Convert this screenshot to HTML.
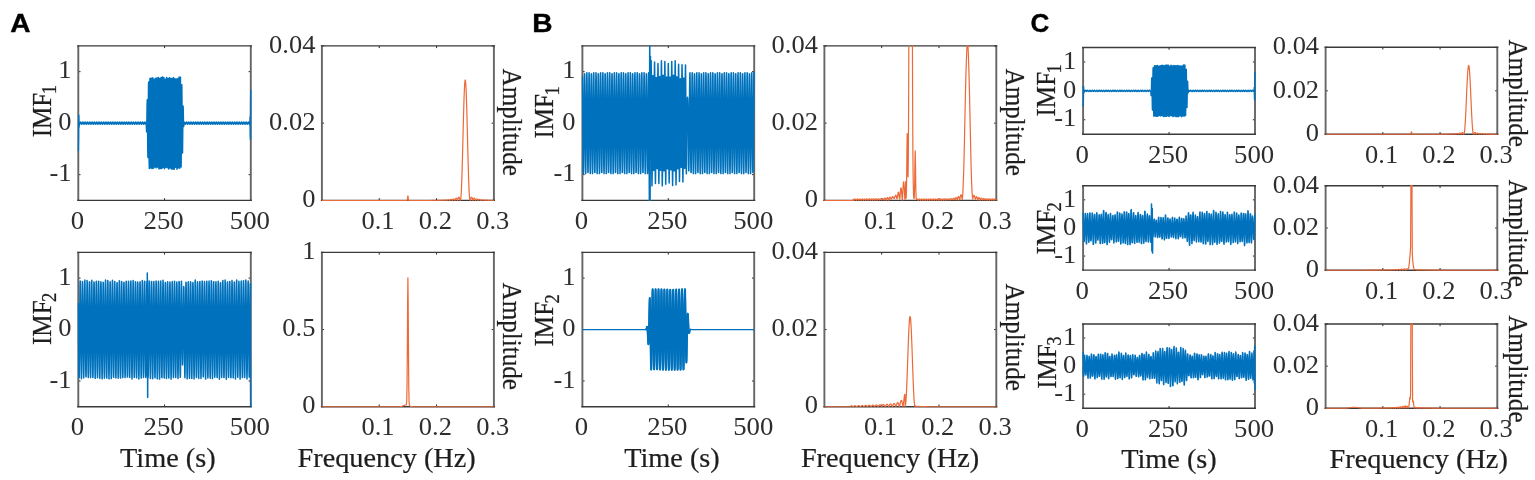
<!DOCTYPE html>
<html lang="en"><head><meta charset="utf-8"><title>IMF decomposition figure</title>
<style>html,body{margin:0;padding:0;background:#fff;overflow:hidden}svg{display:block}</style></head>
<body>
<svg width="1535" height="480" viewBox="0 0 1535 480">
<defs><filter id="bl" x="-5%" y="-5%" width="110%" height="110%"><feGaussianBlur stdDeviation="0.55 0.3"/></filter><filter id="bo" x="-5%" y="-5%" width="110%" height="110%"><feGaussianBlur stdDeviation="0.35 0.25"/></filter></defs>
<rect width="1535" height="480" fill="#fff"/>
<g font-family="Liberation Serif, Times New Roman, serif" fill="#1e1e1e" stroke="#1e1e1e" stroke-width="0.22">
<path d="M78.30,200.40v-2.2M78.30,45.90v2.2M164.55,200.40v-2.2M164.55,45.90v2.2M250.80,200.40v-2.2M250.80,45.90v2.2M78.30,174.65h2.2M250.80,174.65h-2.2M78.30,123.15h2.2M250.80,123.15h-2.2M78.30,71.65h2.2M250.80,71.65h-2.2" stroke="#262626" stroke-width="1" fill="none"/>
<path d="M78.30,45.30V201.00M250.80,45.30V201.00" stroke="#666" stroke-width="1.9" fill="none"/>
<path d="M77.30,45.90H251.80M77.30,200.40H251.80" stroke="#3a3a3a" stroke-width="1.4" fill="none"/>
<clipPath id="cA1"><rect x="77.40" y="45.20" width="174.30" height="155.90"/></clipPath>
<g clip-path="url(#cA1)"><polyline filter="url(#bl)" transform="scale(1.15,1)" points="68.09,151.5 68.24,138.6 68.39,114.9 68.54,118.0 68.69,127.3 68.84,124.0 68.99,124.2 69.14,124.3 69.29,124.1 69.44,123.7 69.59,123.2 69.74,122.6 69.89,122.2 70.04,122.0 70.19,122.1 70.34,122.3 70.49,122.8 70.64,123.3 70.79,123.8 70.94,124.2 71.09,124.3 71.24,124.2 71.39,123.8 71.54,123.3 71.69,122.8 71.84,122.3 71.99,122.1 72.14,122.0 72.29,122.2 72.44,122.6 72.59,123.2 72.74,123.7 72.89,124.1 73.04,124.3 73.19,124.2 73.34,124.0 73.49,123.5 73.64,123.0 73.79,122.5 73.94,122.1 74.09,122.0 74.24,122.1 74.39,122.5 74.54,123.0 74.69,123.5 74.84,124.0 74.99,124.2 75.14,124.3 75.29,124.1 75.44,123.7 75.59,123.2 75.74,122.6 75.89,122.2 76.04,122.0 76.19,122.1 76.34,122.3 76.49,122.8 76.64,123.3 76.79,123.8 76.94,124.2 77.09,124.3 77.24,124.2 77.39,123.8 77.54,123.3 77.69,122.8 77.84,122.3 77.99,122.1 78.14,122.0 78.29,122.2 78.44,122.6 78.59,123.2 78.74,123.7 78.89,124.1 79.04,124.3 79.19,124.2 79.34,124.0 79.49,123.5 79.64,123.0 79.79,122.5 79.94,122.1 80.09,122.0 80.24,122.1 80.39,122.5 80.54,123.0 80.69,123.5 80.84,124.0 80.99,124.2 81.14,124.3 81.29,124.1 81.44,123.7 81.59,123.2 81.74,122.6 81.89,122.2 82.04,122.0 82.19,122.1 82.34,122.3 82.49,122.8 82.64,123.3 82.79,123.8 82.94,124.2 83.09,124.3 83.24,124.2 83.39,123.8 83.54,123.3 83.69,122.8 83.84,122.3 83.99,122.1 84.14,122.0 84.29,122.2 84.44,122.6 84.59,123.2 84.74,123.7 84.89,124.1 85.04,124.3 85.19,124.2 85.34,124.0 85.49,123.5 85.64,123.0 85.79,122.5 85.94,122.1 86.09,122.0 86.24,122.1 86.39,122.5 86.54,123.0 86.69,123.5 86.84,124.0 86.99,124.2 87.14,124.3 87.29,124.1 87.44,123.7 87.59,123.2 87.74,122.6 87.89,122.2 88.04,122.0 88.19,122.1 88.34,122.3 88.49,122.8 88.64,123.3 88.79,123.8 88.94,124.2 89.09,124.3 89.24,124.2 89.39,123.8 89.54,123.3 89.69,122.8 89.84,122.3 89.99,122.1 90.14,122.0 90.29,122.2 90.44,122.6 90.59,123.2 90.74,123.7 90.89,124.1 91.04,124.3 91.19,124.2 91.34,124.0 91.49,123.5 91.64,123.0 91.79,122.5 91.94,122.1 92.09,122.0 92.24,122.1 92.39,122.5 92.54,123.0 92.69,123.5 92.84,124.0 92.99,124.2 93.14,124.3 93.29,124.1 93.44,123.7 93.59,123.2 93.74,122.6 93.89,122.2 94.04,122.0 94.19,122.1 94.34,122.3 94.49,122.8 94.64,123.3 94.79,123.8 94.94,124.2 95.09,124.3 95.24,124.2 95.39,123.8 95.54,123.3 95.69,122.8 95.84,122.3 95.99,122.1 96.14,122.0 96.29,122.2 96.44,122.6 96.59,123.1 96.74,123.7 96.89,124.1 97.04,124.3 97.19,124.2 97.34,124.0 97.49,123.5 97.64,123.0 97.79,122.5 97.94,122.1 98.09,122.0 98.24,122.1 98.39,122.5 98.54,123.0 98.69,123.5 98.84,124.0 98.99,124.2 99.14,124.3 99.29,124.1 99.44,123.7 99.59,123.2 99.74,122.6 99.89,122.2 100.04,122.0 100.19,122.1 100.34,122.3 100.49,122.8 100.64,123.3 100.79,123.8 100.94,124.2 101.09,124.3 101.24,124.2 101.39,123.8 101.54,123.3 101.69,122.8 101.84,122.3 101.99,122.1 102.14,122.0 102.29,122.2 102.44,122.6 102.59,123.2 102.74,123.7 102.89,124.1 103.04,124.3 103.19,124.2 103.34,124.0 103.49,123.5 103.64,123.0 103.79,122.5 103.94,122.1 104.09,122.0 104.24,122.1 104.39,122.5 104.54,123.0 104.69,123.5 104.84,124.0 104.99,124.2 105.14,124.3 105.29,124.1 105.44,123.7 105.59,123.2 105.74,122.6 105.89,122.2 106.04,122.0 106.19,122.1 106.34,122.3 106.49,122.8 106.64,123.3 106.79,123.8 106.94,124.2 107.09,124.3 107.24,124.2 107.39,123.8 107.54,123.3 107.69,122.8 107.84,122.3 107.99,122.1 108.14,122.0 108.29,122.2 108.44,122.6 108.59,123.1 108.74,123.7 108.89,124.1 109.04,124.3 109.19,124.2 109.34,124.0 109.49,123.5 109.64,123.0 109.79,122.5 109.94,122.1 110.09,122.0 110.24,122.1 110.39,122.5 110.54,123.0 110.69,123.5 110.84,124.0 110.99,124.2 111.14,124.3 111.29,124.1 111.44,123.7 111.59,123.2 111.74,122.6 111.89,122.2 112.04,122.0 112.19,122.1 112.34,122.3 112.49,122.8 112.64,123.3 112.79,123.8 112.94,124.2 113.09,124.3 113.24,124.2 113.39,123.8 113.54,123.3 113.69,122.8 113.84,122.3 113.99,122.1 114.14,122.0 114.29,122.2 114.44,122.6 114.59,123.1 114.74,123.7 114.89,124.1 115.04,124.3 115.19,124.2 115.34,124.0 115.49,123.5 115.64,123.0 115.79,122.5 115.94,122.1 116.09,122.0 116.24,122.1 116.39,122.5 116.54,123.0 116.69,123.5 116.84,124.0 116.99,124.2 117.14,124.3 117.29,124.1 117.44,123.7 117.59,123.1 117.74,122.6 117.89,122.2 118.04,122.0 118.19,122.1 118.34,122.3 118.49,122.8 118.64,123.3 118.79,123.8 118.94,124.2 119.09,124.3 119.24,124.2 119.39,123.8 119.54,123.3 119.69,122.8 119.84,122.3 119.99,122.1 120.14,122.0 120.29,122.2 120.44,122.6 120.59,123.2 120.74,123.7 120.89,124.1 121.04,124.3 121.19,124.2 121.34,124.0 121.49,123.5 121.64,123.0 121.79,122.5 121.94,122.1 122.09,122.0 122.24,122.1 122.39,122.5 122.54,123.0 122.69,123.5 122.84,124.0 122.99,124.2 123.14,124.3 123.29,124.1 123.44,123.7 123.59,123.2 123.74,122.6 123.89,122.2 124.04,122.0 124.19,122.1 124.34,122.3 124.49,122.8 124.64,123.3 124.79,123.8 124.94,124.2 125.09,124.3 125.24,124.2 125.39,123.8 125.54,123.3 125.69,122.8 125.84,122.3 125.99,122.1 126.14,122.0 126.29,122.2 126.44,122.6 126.59,123.1 126.74,123.7 126.89,124.1 127.04,124.3 127.19,124.2 127.34,127.8 127.49,131.9 127.64,129.1 127.79,117.8 127.94,104.6 128.09,99.7 128.24,110.1 128.39,132.0 128.54,152.9 128.69,157.5 128.84,141.1 128.99,111.3 129.14,86.4 129.29,81.8 129.44,101.8 129.59,136.9 129.74,163.8 129.89,168.5 130.04,144.8 130.19,108.9 130.34,81.3 130.49,78.1 130.64,101.5 130.79,136.8 130.94,165.6 131.09,168.0 131.24,145.0 131.39,109.0 131.54,82.1 131.69,78.2 131.84,101.6 131.99,137.3 132.14,164.8 132.29,168.6 132.44,145.0 132.59,109.3 132.74,81.4 132.89,77.7 133.04,101.1 133.19,137.2 133.34,164.1 133.49,168.3 133.64,145.2 133.79,109.0 133.94,80.9 134.09,79.1 134.24,100.9 134.39,136.8 134.54,164.7 134.69,167.1 134.84,145.6 134.99,109.5 135.14,82.0 135.29,78.2 135.44,101.4 135.59,136.9 135.74,165.0 135.89,167.9 136.04,145.5 136.19,108.9 136.34,81.8 136.49,78.0 136.64,101.6 136.79,137.3 136.94,164.2 137.09,167.1 137.24,144.7 137.39,109.5 137.54,80.7 137.69,77.3 137.84,100.8 137.99,137.2 138.14,165.7 138.29,169.0 138.44,145.7 138.59,109.5 138.74,81.1 138.89,78.3 139.04,101.1 139.19,136.9 139.34,164.2 139.49,168.5 139.64,145.1 139.79,108.9 139.94,80.9 140.09,77.4 140.24,100.9 140.39,137.2 140.54,164.7 140.69,168.6 140.84,145.4 140.99,109.4 141.14,80.4 141.29,76.9 141.44,100.6 141.59,136.8 141.74,164.6 141.89,167.7 142.04,144.7 142.19,109.0 142.34,82.3 142.49,77.5 142.64,101.1 142.79,137.0 142.94,164.3 143.09,168.8 143.24,145.2 143.39,108.9 143.54,80.9 143.69,79.2 143.84,101.6 143.99,137.0 144.14,164.3 144.29,167.3 144.44,145.4 144.59,109.5 144.74,81.3 144.89,77.3 145.04,101.2 145.19,137.0 145.34,164.5 145.49,167.8 145.64,145.7 145.79,109.3 145.94,82.3 146.09,78.5 146.24,101.7 146.39,137.1 146.54,164.2 146.69,169.1 146.84,144.7 146.99,109.2 147.14,82.2 147.29,77.6 147.44,101.3 147.59,136.9 147.74,164.4 147.89,168.0 148.04,144.6 148.19,108.9 148.34,80.6 148.49,78.2 148.64,101.6 148.79,137.0 148.94,165.3 149.09,169.1 149.24,145.2 149.39,109.2 149.54,81.3 149.69,78.3 149.84,100.9 149.99,136.8 150.14,165.4 150.29,169.2 150.44,145.3 150.59,109.5 150.74,80.7 150.89,77.5 151.04,101.6 151.19,137.2 151.34,164.2 151.49,169.3 151.64,144.7 151.79,109.0 151.94,80.7 152.09,78.6 152.24,101.7 152.39,136.8 152.54,164.4 152.69,167.3 152.84,144.6 152.99,109.2 153.14,80.6 153.29,78.9 153.44,101.0 153.59,137.2 153.74,164.9 153.89,169.3 154.04,145.7 154.19,109.0 154.34,81.6 154.49,78.6 154.64,101.6 154.79,136.9 154.94,164.0 155.09,167.9 155.24,144.9 155.39,109.3 155.54,80.5 155.69,77.0 155.84,101.4 155.99,137.3 156.14,164.3 156.29,168.3 156.44,145.7 156.59,109.2 156.74,81.3 156.89,77.1 157.04,100.9 157.19,137.2 157.34,165.1 157.49,167.0 157.64,144.7 157.79,109.9 157.94,85.4 158.09,84.7 158.24,104.2 158.39,133.5 158.54,153.0 158.69,153.0 158.84,136.9 158.99,117.0 159.14,105.9 159.29,107.8 159.44,117.7 159.59,125.7 159.74,126.6 159.89,122.2 160.04,122.0 160.19,122.1 160.34,122.3 160.49,122.8 160.64,123.3 160.79,123.8 160.94,124.2 161.09,124.3 161.24,124.2 161.39,123.8 161.54,123.3 161.69,122.8 161.84,122.3 161.99,122.1 162.14,122.0 162.29,122.2 162.44,122.6 162.59,123.2 162.74,123.7 162.89,124.1 163.04,124.3 163.19,124.2 163.34,124.0 163.49,123.5 163.64,123.0 163.79,122.5 163.94,122.1 164.09,122.0 164.24,122.1 164.39,122.5 164.54,123.0 164.69,123.5 164.84,124.0 164.99,124.2 165.14,124.3 165.29,124.1 165.44,123.7 165.59,123.2 165.74,122.6 165.89,122.2 166.04,122.0 166.19,122.1 166.34,122.3 166.49,122.8 166.64,123.3 166.79,123.8 166.94,124.2 167.09,124.3 167.24,124.2 167.39,123.8 167.54,123.3 167.69,122.8 167.84,122.3 167.99,122.1 168.14,122.0 168.29,122.2 168.44,122.6 168.59,123.2 168.74,123.7 168.89,124.1 169.04,124.3 169.19,124.2 169.34,124.0 169.49,123.5 169.64,123.0 169.79,122.5 169.94,122.1 170.09,122.0 170.24,122.1 170.39,122.5 170.54,123.0 170.69,123.5 170.84,124.0 170.99,124.2 171.14,124.3 171.29,124.1 171.44,123.7 171.59,123.2 171.74,122.6 171.89,122.2 172.04,122.0 172.19,122.1 172.34,122.3 172.49,122.8 172.64,123.3 172.79,123.8 172.94,124.2 173.09,124.3 173.24,124.2 173.39,123.8 173.54,123.3 173.69,122.8 173.84,122.3 173.99,122.1 174.14,122.0 174.29,122.2 174.44,122.6 174.59,123.1 174.74,123.7 174.89,124.1 175.04,124.3 175.19,124.2 175.34,124.0 175.49,123.5 175.64,123.0 175.79,122.5 175.94,122.1 176.09,122.0 176.24,122.1 176.39,122.5 176.54,123.0 176.69,123.5 176.84,124.0 176.99,124.2 177.14,124.3 177.29,124.1 177.44,123.7 177.59,123.1 177.74,122.6 177.89,122.2 178.04,122.0 178.19,122.1 178.34,122.3 178.49,122.8 178.64,123.3 178.79,123.8 178.94,124.2 179.09,124.3 179.24,124.2 179.39,123.8 179.54,123.3 179.69,122.8 179.84,122.3 179.99,122.1 180.14,122.0 180.29,122.2 180.44,122.6 180.59,123.1 180.74,123.7 180.89,124.1 181.04,124.3 181.19,124.2 181.34,124.0 181.49,123.5 181.64,123.0 181.79,122.5 181.94,122.1 182.09,122.0 182.24,122.1 182.39,122.5 182.54,123.0 182.69,123.5 182.84,124.0 182.99,124.2 183.14,124.3 183.29,124.1 183.44,123.7 183.59,123.1 183.74,122.6 183.89,122.2 184.04,122.0 184.19,122.1 184.34,122.3 184.49,122.8 184.64,123.3 184.79,123.8 184.94,124.2 185.09,124.3 185.24,124.2 185.39,123.8 185.54,123.3 185.69,122.8 185.84,122.3 185.99,122.1 186.14,122.0 186.29,122.2 186.44,122.6 186.59,123.1 186.74,123.7 186.89,124.1 187.04,124.3 187.19,124.2 187.34,124.0 187.49,123.5 187.64,123.0 187.79,122.5 187.94,122.1 188.09,122.0 188.24,122.1 188.39,122.5 188.54,123.0 188.69,123.5 188.84,124.0 188.99,124.2 189.14,124.3 189.29,124.1 189.44,123.7 189.59,123.2 189.74,122.6 189.89,122.2 190.04,122.0 190.19,122.1 190.34,122.3 190.49,122.8 190.64,123.3 190.79,123.8 190.94,124.2 191.09,124.3 191.24,124.2 191.39,123.8 191.54,123.3 191.69,122.8 191.84,122.3 191.99,122.1 192.14,122.0 192.29,122.2 192.44,122.6 192.59,123.1 192.74,123.7 192.89,124.1 193.04,124.3 193.19,124.2 193.34,124.0 193.49,123.5 193.64,123.0 193.79,122.5 193.94,122.1 194.09,122.0 194.24,122.1 194.39,122.5 194.54,123.0 194.69,123.5 194.84,124.0 194.99,124.2 195.14,124.3 195.29,124.1 195.44,123.7 195.59,123.2 195.74,122.6 195.89,122.2 196.04,122.0 196.19,122.1 196.34,122.3 196.49,122.8 196.64,123.3 196.79,123.8 196.94,124.2 197.09,124.3 197.24,124.2 197.39,123.8 197.54,123.3 197.69,122.8 197.84,122.3 197.99,122.1 198.14,122.0 198.29,122.2 198.44,122.6 198.59,123.1 198.74,123.7 198.89,124.1 199.04,124.3 199.19,124.2 199.34,124.0 199.49,123.5 199.64,123.0 199.79,122.5 199.94,122.1 200.09,122.0 200.24,122.1 200.39,122.5 200.54,123.0 200.69,123.5 200.84,124.0 200.99,124.2 201.14,124.3 201.29,124.1 201.44,123.7 201.59,123.2 201.74,122.6 201.89,122.2 202.04,122.0 202.19,122.1 202.34,122.3 202.49,122.8 202.64,123.3 202.79,123.8 202.94,124.2 203.09,124.3 203.24,124.2 203.39,123.8 203.54,123.3 203.69,122.8 203.84,122.3 203.99,122.1 204.14,122.0 204.29,122.2 204.44,122.6 204.59,123.2 204.74,123.7 204.89,124.1 205.04,124.3 205.19,124.2 205.34,124.0 205.49,123.5 205.64,123.0 205.79,122.5 205.94,122.1 206.09,122.0 206.24,122.1 206.39,122.5 206.54,123.0 206.69,123.5 206.84,124.0 206.99,124.2 207.14,124.3 207.29,124.1 207.44,123.7 207.59,123.2 207.74,122.6 207.89,122.2 208.04,122.0 208.19,122.1 208.34,122.3 208.49,122.8 208.64,123.3 208.79,123.8 208.94,124.2 209.09,124.3 209.24,124.2 209.39,123.8 209.54,123.3 209.69,122.8 209.84,122.3 209.99,122.1 210.14,122.0 210.29,122.2 210.44,122.6 210.59,123.2 210.74,123.7 210.89,124.1 211.04,124.3 211.19,124.2 211.34,124.0 211.49,123.5 211.64,123.0 211.79,122.5 211.94,122.1 212.09,122.0 212.24,122.1 212.39,122.5 212.54,123.0 212.69,123.5 212.84,124.0 212.99,124.2 213.14,124.3 213.29,124.1 213.44,123.7 213.59,123.2 213.74,122.6 213.89,122.2 214.04,122.0 214.19,122.1 214.34,122.3 214.49,122.8 214.64,123.3 214.79,123.8 214.94,124.2 215.09,124.3 215.24,124.2 215.39,123.8 215.54,123.3 215.69,122.8 215.84,122.3 215.99,122.1 216.14,122.0 216.29,122.2 216.44,122.6 216.59,123.1 216.74,123.7 216.89,124.1 217.04,124.3 217.19,124.2 217.34,124.0 217.49,117.0 217.64,133.4 217.79,139.6 217.94,102.6 218.09,89.7" fill="none" stroke="#0072BD" stroke-width="1.32" stroke-linejoin="round"/></g>
<path d="M379.23,200.40v-2.2M379.23,45.90v2.2M436.57,200.40v-2.2M436.57,45.90v2.2M493.90,200.40v-2.2M493.90,45.90v2.2M321.90,200.40h2.2M493.90,200.40h-2.2M321.90,123.15h2.2M493.90,123.15h-2.2M321.90,45.90h2.2M493.90,45.90h-2.2" stroke="#262626" stroke-width="1" fill="none"/>
<path d="M321.90,45.30V201.00M493.90,45.30V201.00" stroke="#666" stroke-width="1.9" fill="none"/>
<path d="M320.90,45.90H494.90M320.90,200.40H494.90" stroke="#3a3a3a" stroke-width="1.4" fill="none"/>
<clipPath id="cA2"><rect x="321.00" y="45.20" width="173.80" height="155.90"/></clipPath>
<g clip-path="url(#cA2)"><polyline filter="url(#bo)" transform="scale(1.15,1)" points="279.91,200.4 280.16,200.4 280.41,200.4 280.66,200.4 280.91,200.4 281.16,200.4 281.41,200.4 281.66,200.4 281.91,200.4 282.16,200.4 282.41,200.4 282.66,200.4 282.90,200.4 283.15,200.4 283.40,200.4 283.65,200.4 283.90,200.4 284.15,200.4 284.40,200.4 284.65,200.4 284.90,200.4 285.15,200.4 285.40,200.4 285.65,200.4 285.90,200.4 286.14,200.4 286.39,200.4 286.64,200.4 286.89,200.4 287.14,200.4 287.39,200.4 287.64,200.4 287.89,200.4 288.14,200.4 288.39,200.4 288.64,200.4 288.89,200.4 289.14,200.4 289.39,200.4 289.63,200.4 289.88,200.4 290.13,200.4 290.38,200.4 290.63,200.4 290.88,200.4 291.13,200.4 291.38,200.4 291.63,200.4 291.88,200.4 292.13,200.4 292.38,200.4 292.63,200.4 292.88,200.4 293.12,200.4 293.37,200.4 293.62,200.4 293.87,200.4 294.12,200.4 294.37,200.4 294.62,200.4 294.87,200.4 295.12,200.4 295.37,200.4 295.62,200.4 295.87,200.4 296.12,200.4 296.37,200.4 296.61,200.4 296.86,200.4 297.11,200.4 297.36,200.4 297.61,200.4 297.86,200.4 298.11,200.4 298.36,200.4 298.61,200.4 298.86,200.4 299.11,200.4 299.36,200.4 299.61,200.4 299.86,200.4 300.10,200.4 300.35,200.4 300.60,200.4 300.85,200.4 301.10,200.4 301.35,200.4 301.60,200.4 301.85,200.4 302.10,200.4 302.35,200.4 302.60,200.4 302.85,200.4 303.10,200.4 303.34,200.4 303.59,200.4 303.84,200.4 304.09,200.4 304.34,200.4 304.59,200.4 304.84,200.4 305.09,200.4 305.34,200.4 305.59,200.4 305.84,200.4 306.09,200.4 306.34,200.4 306.59,200.4 306.83,200.4 307.08,200.4 307.33,200.4 307.58,200.4 307.83,200.4 308.08,200.4 308.33,200.4 308.58,200.4 308.83,200.4 309.08,200.4 309.33,200.4 309.58,200.4 309.83,200.4 310.08,200.4 310.32,200.4 310.57,200.4 310.82,200.4 311.07,200.4 311.32,200.4 311.57,200.4 311.82,200.4 312.07,200.4 312.32,200.4 312.57,200.4 312.82,200.4 313.07,200.4 313.32,200.4 313.57,200.4 313.81,200.4 314.06,200.4 314.31,200.4 314.56,200.4 314.81,200.4 315.06,200.4 315.31,200.4 315.56,200.4 315.81,200.4 316.06,200.4 316.31,200.4 316.56,200.4 316.81,200.4 317.06,200.4 317.30,200.4 317.55,200.4 317.80,200.4 318.05,200.4 318.30,200.4 318.55,200.4 318.80,200.4 319.05,200.4 319.30,200.4 319.55,200.4 319.80,200.4 320.05,200.4 320.30,200.4 320.54,200.4 320.79,200.4 321.04,200.4 321.29,200.4 321.54,200.4 321.79,200.4 322.04,200.4 322.29,200.4 322.54,200.4 322.79,200.4 323.04,200.4 323.29,200.4 323.54,200.4 323.79,200.4 324.03,200.4 324.28,200.4 324.53,200.4 324.78,200.4 325.03,200.4 325.28,200.4 325.53,200.4 325.78,200.4 326.03,200.4 326.28,200.4 326.53,200.4 326.78,200.4 327.03,200.4 327.28,200.4 327.52,200.4 327.77,200.4 328.02,200.4 328.27,200.4 328.52,200.4 328.77,200.4 329.02,200.4 329.27,200.4 329.52,200.4 329.77,200.4 330.02,200.4 330.27,200.4 330.52,200.4 330.77,200.4 331.01,200.4 331.26,200.4 331.51,200.4 331.76,200.4 332.01,200.4 332.26,200.4 332.51,200.4 332.76,200.4 333.01,200.4 333.26,200.4 333.51,200.4 333.76,200.4 334.01,200.4 334.26,200.4 334.50,200.4 334.75,200.4 335.00,200.4 335.25,200.4 335.50,200.4 335.75,200.4 336.00,200.4 336.25,200.4 336.50,200.4 336.75,200.4 337.00,200.4 337.25,200.4 337.50,200.4 337.74,200.4 337.99,200.4 338.24,200.4 338.49,200.4 338.74,200.4 338.99,200.4 339.24,200.4 339.49,200.4 339.74,200.4 339.99,200.4 340.24,200.4 340.49,200.4 340.74,200.4 340.99,200.4 341.23,200.4 341.48,200.4 341.73,200.4 341.98,200.4 342.23,200.4 342.48,200.4 342.73,200.4 342.98,200.4 343.23,200.4 343.48,200.4 343.73,200.4 343.98,200.4 344.23,200.4 344.48,200.4 344.72,200.4 344.97,200.4 345.22,200.4 345.47,200.4 345.72,200.4 345.97,200.4 346.22,200.4 346.47,200.4 346.72,200.4 346.97,200.4 347.22,200.4 347.47,200.4 347.72,200.4 347.97,200.4 348.21,200.4 348.46,200.4 348.71,200.4 348.96,200.4 349.21,200.4 349.46,200.4 349.71,200.4 349.96,200.4 350.21,200.4 350.46,200.4 350.71,200.4 350.96,200.4 351.21,200.4 351.46,200.4 351.70,200.4 351.95,200.4 352.20,200.4 352.45,200.4 352.70,200.4 352.95,200.4 353.20,200.4 353.45,200.4 353.70,200.4 353.95,200.4 354.20,199.8 354.45,197.6 354.70,195.8 354.94,197.6 355.19,199.8 355.44,200.4 355.69,200.4 355.94,200.4 356.19,200.4 356.44,200.4 356.69,200.4 356.94,200.4 357.19,200.4 357.44,200.4 357.69,200.4 357.94,200.4 358.19,200.4 358.43,200.4 358.68,200.4 358.93,200.4 359.18,200.4 359.43,200.4 359.68,200.4 359.93,200.4 360.18,200.4 360.43,200.4 360.68,200.4 360.93,200.4 361.18,200.4 361.43,200.4 361.68,200.4 361.92,200.4 362.17,200.4 362.42,200.4 362.67,200.4 362.92,200.4 363.17,200.4 363.42,200.4 363.67,200.4 363.92,200.4 364.17,200.4 364.42,200.4 364.67,200.4 364.92,200.4 365.17,200.4 365.41,200.4 365.66,200.4 365.91,200.4 366.16,200.4 366.41,200.4 366.66,200.4 366.91,200.4 367.16,200.4 367.41,200.4 367.66,200.4 367.91,200.4 368.16,200.4 368.41,200.4 368.66,200.4 368.90,200.4 369.15,200.4 369.40,200.4 369.65,200.4 369.90,200.4 370.15,200.4 370.40,200.4 370.65,200.4 370.90,200.4 371.15,200.4 371.40,200.4 371.65,200.4 371.90,200.4 372.14,200.4 372.39,200.4 372.64,200.4 372.89,200.4 373.14,200.4 373.39,200.4 373.64,200.4 373.89,200.4 374.14,200.3 374.39,200.3 374.64,200.4 374.89,200.4 375.14,200.4 375.39,200.4 375.63,200.4 375.88,200.4 376.13,200.3 376.38,200.3 376.63,200.3 376.88,200.3 377.13,200.3 377.38,200.4 377.63,200.4 377.88,200.4 378.13,200.3 378.38,200.3 378.63,200.3 378.88,200.3 379.12,200.3 379.37,200.3 379.62,200.4 379.87,200.4 380.12,200.4 380.37,200.3 380.62,200.3 380.87,200.2 381.12,200.2 381.37,200.2 381.62,200.3 381.87,200.3 382.12,200.4 382.37,200.3 382.61,200.3 382.86,200.2 383.11,200.2 383.36,200.2 383.61,200.2 383.86,200.2 384.11,200.3 384.36,200.4 384.61,200.3 384.86,200.2 385.11,200.1 385.36,200.1 385.61,200.0 385.86,200.1 386.10,200.1 386.35,200.3 386.60,200.4 386.85,200.2 387.10,200.1 387.35,200.0 387.60,199.9 387.85,199.9 388.10,199.9 388.35,200.0 388.60,200.2 388.85,200.4 389.10,200.2 389.34,200.0 389.59,199.8 389.84,199.7 390.09,199.7 390.34,199.7 390.59,199.9 390.84,200.1 391.09,200.4 391.34,200.1 391.59,199.8 391.84,199.5 392.09,199.4 392.34,199.3 392.59,199.4 392.83,199.6 393.08,200.0 393.33,200.4 393.58,199.9 393.83,199.5 394.08,199.1 394.33,198.9 394.58,198.8 394.83,199.0 395.08,199.3 395.33,199.8 395.58,200.4 395.83,199.7 396.08,199.1 396.32,198.5 396.57,198.2 396.82,198.1 397.07,198.3 397.32,198.8 397.57,199.5 397.82,200.4 398.07,199.4 398.32,198.5 398.57,197.7 398.82,197.2 399.07,197.1 399.32,197.3 399.57,198.0 399.81,199.1 400.06,200.4 400.31,199.0 400.56,199.8 400.81,197.5 401.06,193.4 401.31,187.6 401.56,180.0 401.81,171.0 402.06,160.9 402.31,149.9 402.56,138.4 402.81,127.0 403.06,116.1 403.30,105.9 403.55,97.1 403.80,89.8 404.05,84.4 404.30,81.0 404.55,79.9 404.80,81.0 405.05,84.4 405.30,89.8 405.55,97.1 405.80,105.9 406.05,116.1 406.30,127.0 406.54,138.4 406.79,149.9 407.04,160.9 407.29,171.0 407.54,180.0 407.79,187.6 408.04,193.4 408.29,197.5 408.54,199.8 408.79,199.0 409.04,200.4 409.29,199.1 409.54,198.0 409.79,197.3 410.03,197.1 410.28,197.2 410.53,197.7 410.78,198.5 411.03,199.4 411.28,200.4 411.53,199.5 411.78,198.8 412.03,198.3 412.28,198.1 412.53,198.2 412.78,198.5 413.03,199.1 413.28,199.7 413.52,200.4 413.77,199.8 414.02,199.3 414.27,199.0 414.52,198.8 414.77,198.9 415.02,199.1 415.27,199.5 415.52,199.9 415.77,200.4 416.02,200.0 416.27,199.6 416.52,199.4 416.77,199.3 417.01,199.4 417.26,199.5 417.51,199.8 417.76,200.1 418.01,200.4 418.26,200.1 418.51,199.9 418.76,199.7 419.01,199.7 419.26,199.7 419.51,199.8 419.76,200.0 420.01,200.2 420.26,200.4 420.50,200.2 420.75,200.0 421.00,199.9 421.25,199.9 421.50,199.9 421.75,200.0 422.00,200.1 422.25,200.2 422.50,200.4 422.75,200.3 423.00,200.1 423.25,200.1 423.50,200.0 423.74,200.1 423.99,200.1 424.24,200.2 424.49,200.3 424.74,200.4 424.99,200.3 425.24,200.2 425.49,200.2 425.74,200.2 425.99,200.2 426.24,200.2 426.49,200.3 426.74,200.3 426.99,200.4 427.23,200.3 427.48,200.3 427.73,200.2 427.98,200.2 428.23,200.2 428.48,200.3 428.73,200.3 428.98,200.4 429.23,200.4 429.48,200.4" fill="none" stroke="#EC6A38" stroke-width="1.05" stroke-linejoin="round"/></g>
<path d="M78.30,406.70v-2.2M78.30,252.40v2.2M164.55,406.70v-2.2M164.55,252.40v2.2M250.80,406.70v-2.2M250.80,252.40v2.2M78.30,380.98h2.2M250.80,380.98h-2.2M78.30,329.55h2.2M250.80,329.55h-2.2M78.30,278.12h2.2M250.80,278.12h-2.2" stroke="#262626" stroke-width="1" fill="none"/>
<path d="M78.30,251.80V407.30M250.80,251.80V407.30" stroke="#666" stroke-width="1.9" fill="none"/>
<path d="M77.30,252.40H251.80M77.30,406.70H251.80" stroke="#3a3a3a" stroke-width="1.4" fill="none"/>
<clipPath id="cA3"><rect x="77.40" y="251.70" width="174.30" height="155.70"/></clipPath>
<g clip-path="url(#cA3)"><polyline filter="url(#bl)" transform="scale(1.15,1)" points="68.09,302.9 68.24,324.8 68.39,347.5 68.54,366.5 68.69,377.1 68.84,377.8 68.99,367.1 69.14,349.5 69.29,326.8 69.44,305.2 69.59,287.6 69.74,281.0 69.89,283.3 70.04,296.7 70.19,317.1 70.34,340.0 70.49,360.6 70.64,373.5 70.79,378.8 70.94,372.3 71.09,355.8 71.24,334.3 71.39,312.1 71.54,293.6 71.69,281.4 71.84,282.6 71.99,291.9 72.14,310.2 72.29,332.4 72.44,354.5 72.59,370.2 72.74,377.9 72.89,374.6 73.04,362.5 73.19,342.1 73.34,319.2 73.49,298.0 73.64,285.6 73.79,280.0 73.94,287.5 74.09,303.0 74.24,324.7 74.39,347.5 74.54,365.6 74.69,376.0 74.84,376.9 74.99,367.2 75.14,349.0 75.29,326.7 75.44,304.9 75.59,289.1 75.74,280.5 75.89,283.5 76.04,297.6 76.19,317.4 76.34,340.0 76.49,360.1 76.64,373.9 76.79,377.5 76.94,372.5 77.09,355.5 77.24,334.4 77.39,311.8 77.54,293.3 77.69,282.5 77.84,281.7 77.99,291.4 78.14,310.2 78.29,332.3 78.44,354.6 78.59,370.9 78.74,377.7 78.89,374.4 79.04,361.5 79.19,342.1 79.34,319.3 79.49,298.8 79.64,284.0 79.79,280.2 79.94,286.8 80.09,302.7 80.24,324.7 80.39,347.4 80.54,365.8 80.69,377.6 80.84,376.6 80.99,367.1 81.14,349.0 81.29,326.8 81.44,304.8 81.59,287.9 81.74,281.8 81.89,283.3 82.04,297.1 82.19,316.9 82.34,340.1 82.49,360.3 82.64,373.6 82.79,378.4 82.94,371.3 83.09,355.6 83.24,334.4 83.39,312.0 83.54,292.7 83.69,281.6 83.84,281.2 83.99,291.0 84.14,309.6 84.29,332.3 84.44,353.8 84.59,371.4 84.74,377.8 84.89,374.6 85.04,361.8 85.19,342.0 85.34,319.1 85.49,298.8 85.64,284.3 85.79,281.2 85.94,286.8 86.09,302.6 86.24,324.8 86.39,347.6 86.54,366.5 86.69,377.7 86.84,378.3 86.99,368.0 87.14,348.9 87.29,326.8 87.44,304.8 87.59,287.6 87.74,281.6 87.89,284.0 88.04,297.5 88.19,317.1 88.34,340.1 88.49,361.1 88.64,373.8 88.79,378.9 88.94,372.4 89.09,356.1 89.24,334.5 89.39,311.6 89.54,293.5 89.69,282.2 89.84,282.7 89.99,291.1 90.14,309.7 90.29,332.3 90.44,354.3 90.59,370.2 90.74,378.3 90.89,375.3 91.04,361.6 91.19,342.1 91.34,319.2 91.49,298.7 91.64,283.9 91.79,279.9 91.94,286.9 92.09,302.6 92.24,324.7 92.39,347.2 92.54,366.3 92.69,377.0 92.84,378.2 92.99,367.5 93.14,348.9 93.29,326.7 93.44,305.0 93.59,288.7 93.74,280.3 93.89,283.6 94.04,296.6 94.19,317.2 94.34,340.0 94.49,361.0 94.64,374.7 94.79,378.9 94.94,370.9 95.09,355.8 95.24,334.4 95.39,311.8 95.54,293.2 95.69,283.2 95.84,281.6 95.99,291.0 96.14,309.6 96.29,332.4 96.44,354.5 96.59,370.5 96.74,378.7 96.89,374.5 97.04,361.5 97.19,342.2 97.34,319.3 97.49,298.8 97.64,285.7 97.79,280.1 97.94,287.8 98.09,303.0 98.24,324.6 98.39,347.5 98.54,365.4 98.69,376.9 98.84,377.4 98.99,366.8 99.14,348.9 99.29,326.8 99.44,304.4 99.59,289.2 99.74,281.3 99.89,284.7 100.04,297.4 100.19,317.3 100.34,339.8 100.49,360.3 100.64,375.0 100.79,378.0 100.94,372.6 101.09,356.1 101.24,334.5 101.39,311.6 101.54,293.5 101.69,283.0 101.84,282.6 101.99,291.9 102.14,310.1 102.29,332.4 102.44,354.4 102.59,370.2 102.74,378.3 102.89,375.1 103.04,361.7 103.19,342.1 103.34,319.3 103.49,298.9 103.64,284.0 103.79,280.6 103.94,288.1 104.09,302.9 104.24,324.6 104.39,347.5 104.54,366.0 104.69,377.6 104.84,378.2 104.99,367.9 105.14,348.9 105.29,326.8 105.44,304.5 105.59,288.5 105.74,281.3 105.89,283.2 106.04,297.5 106.19,317.3 106.34,339.9 106.49,360.5 106.64,373.8 106.79,377.7 106.94,372.1 107.09,356.3 107.24,334.3 107.39,311.8 107.54,292.9 107.69,283.1 107.84,282.2 107.99,292.1 108.14,310.1 108.29,332.3 108.44,354.0 108.59,369.9 108.74,377.6 108.89,374.5 109.04,361.6 109.19,342.2 109.34,319.3 109.49,298.9 109.64,284.0 109.79,281.2 109.94,287.7 110.09,303.1 110.24,324.7 110.39,347.3 110.54,366.6 110.69,377.0 110.84,377.1 110.99,367.1 111.14,349.2 111.29,326.8 111.44,305.3 111.59,289.1 111.74,281.1 111.89,283.5 112.04,296.4 112.19,317.2 112.34,340.0 112.49,361.1 112.64,375.0 112.79,377.4 112.94,371.3 113.09,355.5 113.24,334.4 113.39,311.7 113.54,293.2 113.69,282.1 113.84,280.9 113.99,291.7 114.14,310.0 114.29,332.4 114.44,353.8 114.59,370.0 114.74,379.1 114.89,375.3 115.04,361.9 115.19,342.0 115.34,319.3 115.49,298.3 115.64,285.5 115.79,280.4 115.94,288.0 116.09,302.7 116.24,324.8 116.39,347.1 116.54,366.0 116.69,377.2 116.84,377.5 116.99,368.0 117.14,349.4 117.29,326.7 117.44,304.9 117.59,288.4 117.74,281.6 117.89,283.5 118.04,297.4 118.19,317.3 118.34,340.0 118.49,361.1 118.64,373.7 118.79,377.9 118.94,371.8 119.09,355.5 119.24,334.5 119.39,312.0 119.54,293.3 119.69,282.0 119.84,282.3 119.99,291.1 120.14,309.7 120.29,332.4 120.44,353.7 120.59,370.3 120.74,379.1 120.89,374.9 121.04,362.6 121.19,342.0 121.34,319.3 121.49,298.3 121.64,284.1 121.79,281.6 121.94,286.8 122.09,303.2 122.24,324.6 122.39,347.0 122.54,365.7 122.69,376.3 122.84,378.1 122.99,367.6 123.14,348.9 123.29,326.7 123.44,304.5 123.59,289.0 123.74,280.4 123.89,284.2 124.04,296.6 124.19,316.9 124.34,340.0 124.49,360.3 124.64,373.8 124.79,377.5 124.94,371.7 125.09,355.8 125.24,334.4 125.39,312.1 125.54,292.8 125.69,281.4 125.84,281.2 125.99,291.2 126.14,310.0 126.29,332.4 126.44,354.3 126.59,371.0 126.74,377.6 126.89,375.5 127.04,362.4 127.19,342.1 127.34,319.0 127.49,298.8 127.64,284.8 127.79,281.1 127.94,375.8 128.09,273.0 128.24,314.1 128.39,397.4 128.54,355.3 128.69,377.8 128.84,377.1 128.99,367.8 129.14,349.0 129.29,326.7 129.44,305.0 129.59,288.8 129.74,281.0 129.89,283.6 130.04,297.3 130.19,317.4 130.34,340.1 130.49,361.0 130.64,374.5 130.79,378.5 130.94,372.0 131.09,355.5 131.24,334.5 131.39,311.5 131.54,292.3 131.69,282.2 131.84,281.3 131.99,291.7 132.14,310.0 132.29,332.4 132.44,354.6 132.59,370.0 132.74,378.8 132.89,375.5 133.04,362.7 133.19,341.9 133.34,319.0 133.49,298.9 133.64,284.7 133.79,281.4 133.94,287.1 134.09,303.4 134.24,324.6 134.39,347.4 134.54,366.3 134.69,377.0 134.84,377.9 134.99,367.7 135.14,348.8 135.29,326.7 135.44,304.9 135.59,289.1 135.74,280.8 135.89,283.9 136.04,297.1 136.19,317.0 136.34,340.1 136.49,360.3 136.64,374.1 136.79,378.9 136.94,371.8 137.09,355.4 137.24,334.5 137.39,312.0 137.54,293.7 137.69,282.3 137.84,281.1 137.99,291.7 138.14,310.1 138.29,332.3 138.44,353.9 138.59,370.7 138.74,379.2 138.89,376.0 139.04,361.7 139.19,341.9 139.34,319.3 139.49,299.0 139.64,285.0 139.79,280.9 139.94,287.8 140.09,302.8 140.24,324.7 140.39,347.2 140.54,366.0 140.69,377.5 140.84,377.7 140.99,367.9 141.14,348.9 141.29,326.7 141.44,305.0 141.59,287.9 141.74,280.2 141.89,283.1 142.04,296.8 142.19,317.3 142.34,339.8 142.49,360.5 142.64,373.7 142.79,378.1 142.94,371.0 143.09,356.3 143.24,334.5 143.39,311.6 143.54,293.5 143.69,283.1 143.84,282.3 143.99,292.4 144.14,309.5 144.29,332.4 144.44,354.6 144.59,371.0 144.74,378.5 144.89,375.3 145.04,362.5 145.19,341.9 145.34,319.2 145.49,299.0 145.64,284.1 145.79,281.7 145.94,286.9 146.09,303.0 146.24,324.8 146.39,347.6 146.54,366.2 146.69,377.1 146.84,378.1 146.99,368.1 147.14,349.4 147.29,326.7 147.44,304.4 147.59,287.9 147.74,281.8 147.89,284.0 148.04,296.7 148.19,317.4 148.34,339.9 148.49,360.7 148.64,373.7 148.79,379.3 148.94,372.1 149.09,355.5 149.24,334.4 149.39,311.5 149.54,292.4 149.69,283.1 149.84,281.5 149.99,292.3 150.14,309.7 150.29,332.4 150.44,354.5 150.59,370.1 150.74,377.6 150.89,374.2 151.04,362.1 151.19,341.8 151.34,319.0 151.49,298.7 151.64,285.2 151.79,281.2 151.94,287.0 152.09,302.6 152.24,324.7 152.39,347.1 152.54,366.0 152.69,377.5 152.84,377.5 152.99,367.8 153.14,348.9 153.29,326.8 153.44,305.0 153.59,288.8 153.74,281.9 153.89,284.9 154.04,296.4 154.19,316.9 154.34,339.8 154.49,360.7 154.64,373.9 154.79,378.6 154.94,371.3 155.09,355.7 155.24,334.5 155.39,312.0 155.54,292.3 155.69,281.4 155.84,281.8 155.99,292.4 156.14,310.3 156.29,332.4 156.44,354.4 156.59,371.3 156.74,377.4 156.89,375.3 157.04,362.3 157.19,342.0 157.34,319.1 157.49,298.8 157.64,284.6 157.79,281.1 157.94,288.7 158.09,304.6 158.24,325.3 158.39,344.7 158.54,358.0 158.69,365.0 158.84,362.9 158.99,356.4 159.14,343.5 159.29,327.5 159.44,309.7 159.59,295.0 159.74,286.3 159.89,287.8 160.04,298.2 160.19,317.4 160.34,340.0 160.49,360.1 160.64,373.4 160.79,377.8 160.94,371.2 161.09,355.7 161.24,334.5 161.39,312.1 161.54,292.4 161.69,282.2 161.84,282.4 161.99,292.1 162.14,309.7 162.29,332.4 162.44,354.2 162.59,370.9 162.74,378.9 162.89,375.5 163.04,361.8 163.19,342.0 163.34,319.1 163.49,298.1 163.64,283.9 163.79,281.6 163.94,287.9 164.09,303.1 164.24,324.7 164.39,347.2 164.54,366.1 164.69,377.6 164.84,378.3 164.99,367.0 165.14,348.9 165.29,326.7 165.44,305.2 165.59,287.6 165.74,281.7 165.89,284.0 166.04,297.0 166.19,317.4 166.34,339.9 166.49,360.5 166.64,373.7 166.79,378.5 166.94,372.1 167.09,355.6 167.24,334.3 167.39,311.9 167.54,292.7 167.69,283.2 167.84,282.4 167.99,291.2 168.14,310.0 168.29,332.4 168.44,354.7 168.59,370.4 168.74,379.0 168.89,374.8 169.04,361.9 169.19,341.8 169.34,319.0 169.49,298.7 169.64,285.2 169.79,279.8 169.94,286.8 170.09,303.2 170.24,324.8 170.39,347.4 170.54,365.4 170.69,375.9 170.84,377.5 170.99,367.6 171.14,349.1 171.29,326.8 171.44,305.3 171.59,287.9 171.74,281.7 171.89,283.9 172.04,296.8 172.19,317.1 172.34,340.1 172.49,360.8 172.64,373.8 172.79,378.6 172.94,371.1 173.09,355.8 173.24,334.4 173.39,311.7 173.54,293.2 173.69,282.5 173.84,281.4 173.99,291.0 174.14,309.9 174.29,332.4 174.44,353.9 174.59,370.0 174.74,378.5 174.89,375.4 175.04,361.4 175.19,341.8 175.34,319.3 175.49,298.3 175.64,285.6 175.79,280.9 175.94,287.3 176.09,302.9 176.24,324.7 176.39,347.1 176.54,366.2 176.69,376.3 176.84,376.9 176.99,367.7 177.14,349.1 177.29,326.7 177.44,304.9 177.59,288.4 177.74,281.4 177.89,284.5 178.04,297.1 178.19,316.9 178.34,340.1 178.49,360.4 178.64,373.6 178.79,379.2 178.94,371.3 179.09,356.0 179.24,334.4 179.39,311.4 179.54,292.9 179.69,283.1 179.84,281.1 179.99,291.3 180.14,309.8 180.29,332.4 180.44,354.7 180.59,371.4 180.74,378.0 180.89,376.0 181.04,362.4 181.19,342.1 181.34,319.0 181.49,299.1 181.64,284.3 181.79,281.0 181.94,286.8 182.09,303.6 182.24,324.7 182.39,347.5 182.54,365.9 182.69,376.7 182.84,378.3 182.99,366.8 183.14,349.4 183.29,326.8 183.44,304.5 183.59,288.3 183.74,280.6 183.89,284.4 184.04,296.7 184.19,316.9 184.34,340.1 184.49,361.1 184.64,373.4 184.79,378.7 184.94,371.1 185.09,356.0 185.24,334.3 185.39,311.8 185.54,292.6 185.69,281.8 185.84,281.6 185.99,291.1 186.14,310.0 186.29,332.4 186.44,354.2 186.59,370.6 186.74,377.3 186.89,375.2 187.04,361.6 187.19,342.0 187.34,319.2 187.49,299.0 187.64,284.9 187.79,281.7 187.94,288.0 188.09,303.0 188.24,324.7 188.39,347.6 188.54,366.4 188.69,376.1 188.84,377.7 188.99,366.7 189.14,349.5 189.29,326.7 189.44,304.6 189.59,288.8 189.74,281.2 189.89,283.6 190.04,296.6 190.19,317.4 190.34,339.9 190.49,360.4 190.64,373.9 190.79,379.3 190.94,372.4 191.09,355.6 191.24,334.4 191.39,312.0 191.54,293.6 191.69,283.1 191.84,282.7 191.99,292.3 192.14,309.7 192.29,332.3 192.44,354.0 192.59,370.8 192.74,377.5 192.89,375.2 193.04,362.5 193.19,341.9 193.34,319.0 193.49,299.1 193.64,284.0 193.79,280.3 193.94,287.1 194.09,302.7 194.24,324.7 194.39,347.3 194.54,366.8 194.69,377.7 194.84,377.3 194.99,367.7 195.14,348.9 195.29,326.7 195.44,305.3 195.59,287.8 195.74,280.0 195.89,284.0 196.04,297.6 196.19,317.2 196.34,340.1 196.49,360.4 196.64,374.3 196.79,379.3 196.94,371.7 197.09,355.6 197.24,334.4 197.39,311.7 197.54,292.7 197.69,282.1 197.84,281.9 197.99,291.1 198.14,309.6 198.29,332.4 198.44,354.1 198.59,370.5 198.74,377.4 198.89,375.5 199.04,362.3 199.19,341.7 199.34,319.1 199.49,298.8 199.64,284.2 199.79,281.3 199.94,286.7 200.09,303.5 200.24,324.7 200.39,347.2 200.54,365.7 200.69,377.4 200.84,377.8 200.99,368.1 201.14,349.3 201.29,326.7 201.44,305.0 201.59,287.8 201.74,280.4 201.89,283.7 202.04,297.2 202.19,317.0 202.34,339.9 202.49,360.5 202.64,373.9 202.79,377.9 202.94,372.2 203.09,355.7 203.24,334.4 203.39,312.0 203.54,293.1 203.69,282.8 203.84,281.8 203.99,291.1 204.14,309.9 204.29,332.4 204.44,353.9 204.59,370.1 204.74,379.0 204.89,374.6 205.04,362.1 205.19,341.9 205.34,319.2 205.49,298.3 205.64,285.4 205.79,279.8 205.94,288.2 206.09,303.1 206.24,324.8 206.39,347.5 206.54,365.5 206.69,377.3 206.84,376.6 206.99,367.0 207.14,348.9 207.29,326.8 207.44,304.5 207.59,287.7 207.74,281.2 207.89,284.5 208.04,297.5 208.19,317.2 208.34,339.8 208.49,360.8 208.64,374.6 208.79,379.2 208.94,371.2 209.09,356.2 209.24,334.4 209.39,311.9 209.54,293.4 209.69,282.3 209.84,281.0 209.99,292.3 210.14,310.3 210.29,332.4 210.44,353.7 210.59,370.5 210.74,377.6 210.89,374.4 211.04,361.7 211.19,342.0 211.34,319.2 211.49,298.0 211.64,284.6 211.79,280.6 211.94,286.5 212.09,303.5 212.24,324.7 212.39,347.3 212.54,366.4 212.69,377.6 212.84,376.4 212.99,368.0 213.14,349.6 213.29,326.7 213.44,305.3 213.59,287.6 213.74,280.0 213.89,283.6 214.04,296.9 214.19,317.3 214.34,340.1 214.49,360.6 214.64,373.7 214.79,378.9 214.94,372.2 215.09,355.6 215.24,334.4 215.39,312.1 215.54,293.5 215.69,282.6 215.84,280.9 215.99,291.1 216.14,309.7 216.29,332.3 216.44,354.4 216.59,371.4 216.74,377.2 216.89,375.3 217.04,362.7 217.19,341.8 217.34,319.2 217.49,298.3 217.64,284.1 217.79,283.3 217.94,381.0 218.09,406.7" fill="none" stroke="#0072BD" stroke-width="1.32" stroke-linejoin="round"/></g>
<path d="M379.23,406.70v-2.2M379.23,252.40v2.2M436.57,406.70v-2.2M436.57,252.40v2.2M493.90,406.70v-2.2M493.90,252.40v2.2M321.90,406.70h2.2M493.90,406.70h-2.2M321.90,329.55h2.2M493.90,329.55h-2.2M321.90,252.40h2.2M493.90,252.40h-2.2" stroke="#262626" stroke-width="1" fill="none"/>
<path d="M321.90,251.80V407.30M493.90,251.80V407.30" stroke="#666" stroke-width="1.9" fill="none"/>
<path d="M320.90,252.40H494.90M320.90,406.70H494.90" stroke="#3a3a3a" stroke-width="1.4" fill="none"/>
<clipPath id="cA4"><rect x="321.00" y="251.70" width="173.80" height="155.70"/></clipPath>
<g clip-path="url(#cA4)"><polyline filter="url(#bo)" transform="scale(1.15,1)" points="279.91,406.7 280.16,406.7 280.41,406.7 280.66,406.7 280.91,406.7 281.16,406.7 281.41,406.7 281.66,406.7 281.91,406.7 282.16,406.7 282.41,406.7 282.66,406.7 282.90,406.7 283.15,406.7 283.40,406.7 283.65,406.7 283.90,406.7 284.15,406.7 284.40,406.7 284.65,406.7 284.90,406.7 285.15,406.7 285.40,406.7 285.65,406.7 285.90,406.7 286.14,406.7 286.39,406.7 286.64,406.7 286.89,406.7 287.14,406.7 287.39,406.7 287.64,406.7 287.89,406.7 288.14,406.7 288.39,406.7 288.64,406.7 288.89,406.7 289.14,406.7 289.39,406.7 289.63,406.7 289.88,406.7 290.13,406.7 290.38,406.7 290.63,406.7 290.88,406.7 291.13,406.7 291.38,406.7 291.63,406.7 291.88,406.7 292.13,406.7 292.38,406.7 292.63,406.7 292.88,406.7 293.12,406.7 293.37,406.7 293.62,406.7 293.87,406.7 294.12,406.7 294.37,406.7 294.62,406.7 294.87,406.7 295.12,406.7 295.37,406.7 295.62,406.7 295.87,406.7 296.12,406.7 296.37,406.7 296.61,406.7 296.86,406.7 297.11,406.7 297.36,406.7 297.61,406.7 297.86,406.7 298.11,406.7 298.36,406.7 298.61,406.7 298.86,406.7 299.11,406.7 299.36,406.7 299.61,406.7 299.86,406.7 300.10,406.7 300.35,406.7 300.60,406.7 300.85,406.7 301.10,406.7 301.35,406.7 301.60,406.7 301.85,406.7 302.10,406.7 302.35,406.7 302.60,406.7 302.85,406.7 303.10,406.7 303.34,406.7 303.59,406.7 303.84,406.7 304.09,406.7 304.34,406.7 304.59,406.7 304.84,406.7 305.09,406.7 305.34,406.7 305.59,406.7 305.84,406.7 306.09,406.7 306.34,406.7 306.59,406.7 306.83,406.7 307.08,406.7 307.33,406.7 307.58,406.7 307.83,406.7 308.08,406.7 308.33,406.7 308.58,406.7 308.83,406.7 309.08,406.7 309.33,406.7 309.58,406.7 309.83,406.7 310.08,406.7 310.32,406.7 310.57,406.7 310.82,406.7 311.07,406.7 311.32,406.7 311.57,406.7 311.82,406.7 312.07,406.7 312.32,406.7 312.57,406.7 312.82,406.7 313.07,406.7 313.32,406.7 313.57,406.7 313.81,406.7 314.06,406.7 314.31,406.7 314.56,406.7 314.81,406.7 315.06,406.7 315.31,406.7 315.56,406.7 315.81,406.7 316.06,406.7 316.31,406.7 316.56,406.7 316.81,406.7 317.06,406.7 317.30,406.7 317.55,406.7 317.80,406.7 318.05,406.7 318.30,406.7 318.55,406.7 318.80,406.7 319.05,406.7 319.30,406.7 319.55,406.7 319.80,406.7 320.05,406.7 320.30,406.7 320.54,406.7 320.79,406.7 321.04,406.7 321.29,406.7 321.54,406.7 321.79,406.7 322.04,406.7 322.29,406.7 322.54,406.7 322.79,406.7 323.04,406.7 323.29,406.7 323.54,406.7 323.79,406.7 324.03,406.7 324.28,406.7 324.53,406.7 324.78,406.7 325.03,406.7 325.28,406.7 325.53,406.7 325.78,406.7 326.03,406.7 326.28,406.7 326.53,406.7 326.78,406.7 327.03,406.7 327.28,406.7 327.52,406.7 327.77,406.7 328.02,406.7 328.27,406.7 328.52,406.7 328.77,406.7 329.02,406.7 329.27,406.7 329.52,406.7 329.77,406.7 330.02,406.7 330.27,406.7 330.52,406.7 330.77,406.7 331.01,406.7 331.26,406.7 331.51,406.7 331.76,406.7 332.01,406.7 332.26,406.7 332.51,406.7 332.76,406.7 333.01,406.7 333.26,406.7 333.51,406.7 333.76,406.7 334.01,406.7 334.26,406.7 334.50,406.7 334.75,406.7 335.00,406.7 335.25,406.7 335.50,406.7 335.75,406.7 336.00,406.7 336.25,406.7 336.50,406.7 336.75,406.7 337.00,406.7 337.25,406.7 337.50,406.7 337.74,406.7 337.99,406.7 338.24,406.7 338.49,406.7 338.74,406.7 338.99,406.7 339.24,406.7 339.49,406.7 339.74,406.7 339.99,406.7 340.24,406.7 340.49,406.7 340.74,406.7 340.99,406.7 341.23,406.7 341.48,406.7 341.73,406.7 341.98,406.7 342.23,406.7 342.48,406.7 342.73,406.7 342.98,406.7 343.23,406.7 343.48,406.7 343.73,406.7 343.98,406.7 344.23,406.7 344.48,406.7 344.72,406.7 344.97,406.7 345.22,406.7 345.47,406.7 345.72,406.7 345.97,406.7 346.22,406.7 346.47,406.7 346.72,406.7 346.97,406.7 347.22,406.7 347.47,406.7 347.72,406.6 347.97,406.6 348.21,406.6 348.46,406.5 348.71,406.5 348.96,406.5 349.21,406.4 349.46,406.3 349.71,406.2 349.96,406.1 350.21,406.0 350.46,405.9 350.71,405.8 350.96,405.6 351.21,405.5 351.46,405.4 351.70,405.3 351.95,405.1 352.20,405.0 352.45,405.0 352.70,404.9 352.95,404.9 353.20,404.8 353.45,404.1 353.70,400.2 353.95,385.1 354.20,349.3 354.45,301.5 354.70,277.8 354.94,301.7 355.19,349.7 355.44,385.8 355.69,401.1 355.94,405.2 356.19,405.9 356.44,406.1 356.69,406.2 356.94,406.3 357.19,406.4 357.44,406.5 357.69,406.5 357.94,406.5 358.19,406.6 358.43,406.6 358.68,406.6 358.93,406.7 359.18,406.7 359.43,406.7 359.68,406.7 359.93,406.7 360.18,406.7 360.43,406.7 360.68,406.7 360.93,406.7 361.18,406.7 361.43,406.7 361.68,406.7 361.92,406.7 362.17,406.7 362.42,406.7 362.67,406.7 362.92,406.7 363.17,406.7 363.42,406.7 363.67,406.7 363.92,406.7 364.17,406.7 364.42,406.7 364.67,406.7 364.92,406.7 365.17,406.7 365.41,406.7 365.66,406.7 365.91,406.7 366.16,406.7 366.41,406.7 366.66,406.7 366.91,406.7 367.16,406.7 367.41,406.7 367.66,406.7 367.91,406.7 368.16,406.7 368.41,406.7 368.66,406.7 368.90,406.7 369.15,406.7 369.40,406.7 369.65,406.7 369.90,406.7 370.15,406.7 370.40,406.7 370.65,406.7 370.90,406.7 371.15,406.7 371.40,406.7 371.65,406.7 371.90,406.7 372.14,406.7 372.39,406.7 372.64,406.7 372.89,406.7 373.14,406.7 373.39,406.7 373.64,406.7 373.89,406.7 374.14,406.7 374.39,406.7 374.64,406.7 374.89,406.7 375.14,406.7 375.39,406.7 375.63,406.7 375.88,406.7 376.13,406.7 376.38,406.7 376.63,406.7 376.88,406.7 377.13,406.7 377.38,406.7 377.63,406.7 377.88,406.7 378.13,406.7 378.38,406.7 378.63,406.7 378.88,406.7 379.12,406.7 379.37,406.7 379.62,406.7 379.87,406.7 380.12,406.7 380.37,406.7 380.62,406.7 380.87,406.7 381.12,406.7 381.37,406.7 381.62,406.7 381.87,406.7 382.12,406.7 382.37,406.7 382.61,406.7 382.86,406.7 383.11,406.7 383.36,406.7 383.61,406.7 383.86,406.7 384.11,406.7 384.36,406.7 384.61,406.7 384.86,406.7 385.11,406.7 385.36,406.7 385.61,406.7 385.86,406.7 386.10,406.7 386.35,406.7 386.60,406.7 386.85,406.7 387.10,406.7 387.35,406.7 387.60,406.7 387.85,406.7 388.10,406.7 388.35,406.7 388.60,406.7 388.85,406.7 389.10,406.7 389.34,406.7 389.59,406.7 389.84,406.7 390.09,406.7 390.34,406.7 390.59,406.7 390.84,406.7 391.09,406.7 391.34,406.7 391.59,406.7 391.84,406.7 392.09,406.7 392.34,406.7 392.59,406.7 392.83,406.7 393.08,406.7 393.33,406.7 393.58,406.7 393.83,406.7 394.08,406.7 394.33,406.7 394.58,406.7 394.83,406.7 395.08,406.7 395.33,406.7 395.58,406.7 395.83,406.7 396.08,406.7 396.32,406.7 396.57,406.7 396.82,406.7 397.07,406.7 397.32,406.7 397.57,406.7 397.82,406.7 398.07,406.7 398.32,406.7 398.57,406.7 398.82,406.7 399.07,406.7 399.32,406.7 399.57,406.7 399.81,406.7 400.06,406.7 400.31,406.7 400.56,406.7 400.81,406.7 401.06,406.7 401.31,406.7 401.56,406.7 401.81,406.7 402.06,406.7 402.31,406.7 402.56,406.7 402.81,406.7 403.06,406.7 403.30,406.7 403.55,406.7 403.80,406.7 404.05,406.7 404.30,406.7 404.55,406.7 404.80,406.7 405.05,406.7 405.30,406.7 405.55,406.7 405.80,406.7 406.05,406.7 406.30,406.7 406.54,406.7 406.79,406.7 407.04,406.7 407.29,406.7 407.54,406.7 407.79,406.7 408.04,406.7 408.29,406.7 408.54,406.7 408.79,406.7 409.04,406.7 409.29,406.7 409.54,406.7 409.79,406.7 410.03,406.7 410.28,406.7 410.53,406.7 410.78,406.7 411.03,406.7 411.28,406.7 411.53,406.7 411.78,406.7 412.03,406.7 412.28,406.7 412.53,406.7 412.78,406.7 413.03,406.7 413.28,406.7 413.52,406.7 413.77,406.7 414.02,406.7 414.27,406.7 414.52,406.7 414.77,406.7 415.02,406.7 415.27,406.7 415.52,406.7 415.77,406.7 416.02,406.7 416.27,406.7 416.52,406.7 416.77,406.7 417.01,406.7 417.26,406.7 417.51,406.7 417.76,406.7 418.01,406.7 418.26,406.7 418.51,406.7 418.76,406.7 419.01,406.7 419.26,406.7 419.51,406.7 419.76,406.7 420.01,406.7 420.26,406.7 420.50,406.7 420.75,406.7 421.00,406.7 421.25,406.7 421.50,406.7 421.75,406.7 422.00,406.7 422.25,406.7 422.50,406.7 422.75,406.7 423.00,406.7 423.25,406.7 423.50,406.7 423.74,406.7 423.99,406.7 424.24,406.7 424.49,406.7 424.74,406.7 424.99,406.7 425.24,406.7 425.49,406.7 425.74,406.7 425.99,406.7 426.24,406.7 426.49,406.7 426.74,406.7 426.99,406.7 427.23,406.7 427.48,406.7 427.73,406.7 427.98,406.7 428.23,406.7 428.48,406.7 428.73,406.7 428.98,406.7 429.23,406.7 429.48,406.7" fill="none" stroke="#EC6A38" stroke-width="1.05" stroke-linejoin="round"/></g>
<path d="M582.40,200.40v-2.2M582.40,45.90v2.2M668.30,200.40v-2.2M668.30,45.90v2.2M754.20,200.40v-2.2M754.20,45.90v2.2M582.40,174.65h2.2M754.20,174.65h-2.2M582.40,123.15h2.2M754.20,123.15h-2.2M582.40,71.65h2.2M754.20,71.65h-2.2" stroke="#262626" stroke-width="1" fill="none"/>
<path d="M582.40,45.30V201.00M754.20,45.30V201.00" stroke="#666" stroke-width="1.9" fill="none"/>
<path d="M581.40,45.90H755.20M581.40,200.40H755.20" stroke="#3a3a3a" stroke-width="1.4" fill="none"/>
<clipPath id="cB1"><rect x="581.50" y="45.20" width="173.60" height="155.90"/></clipPath>
<g clip-path="url(#cB1)"><polyline filter="url(#bl)" transform="scale(1.15,1)" points="506.43,76.4 506.58,90.5 506.73,111.7 506.88,135.4 507.03,156.4 507.18,170.2 507.33,173.7 507.48,166.2 507.63,149.3 507.78,126.8 507.93,103.4 508.08,84.3 508.23,73.7 508.38,73.9 508.53,84.8 508.68,104.1 508.83,127.5 508.97,150.0 509.12,166.6 509.27,173.7 509.42,169.9 509.57,155.8 509.72,134.6 509.87,110.9 510.02,89.9 510.17,76.1 510.32,72.6 510.47,80.1 510.62,97.0 510.77,119.5 510.92,142.9 511.07,162.0 511.22,172.6 511.36,172.4 511.51,161.5 511.66,142.2 511.81,118.8 511.96,96.3 512.11,79.7 512.26,72.6 512.41,76.4 512.56,90.5 512.71,111.7 512.86,135.4 513.01,156.4 513.16,170.2 513.31,173.7 513.46,166.2 513.61,149.3 513.75,126.8 513.90,103.4 514.05,84.3 514.20,73.7 514.35,73.9 514.50,84.8 514.65,104.1 514.80,127.5 514.95,150.0 515.10,166.6 515.25,173.7 515.40,169.9 515.55,155.8 515.70,134.6 515.85,110.9 516.00,89.9 516.15,76.1 516.29,72.6 516.44,80.1 516.59,97.0 516.74,119.5 516.89,142.9 517.04,162.0 517.19,172.6 517.34,172.4 517.49,161.5 517.64,142.2 517.79,118.8 517.94,96.3 518.09,79.7 518.24,72.6 518.39,76.4 518.54,90.5 518.68,111.7 518.83,135.4 518.98,156.4 519.13,170.2 519.28,173.7 519.43,166.2 519.58,149.3 519.73,126.8 519.88,103.4 520.03,84.3 520.18,73.7 520.33,73.9 520.48,84.8 520.63,104.1 520.78,127.5 520.93,150.0 521.08,166.6 521.22,173.7 521.37,169.9 521.52,155.8 521.67,134.6 521.82,110.9 521.97,89.9 522.12,76.1 522.27,72.6 522.42,80.1 522.57,97.0 522.72,119.5 522.87,142.9 523.02,162.0 523.17,172.6 523.32,172.4 523.47,161.5 523.61,142.2 523.76,118.8 523.91,96.3 524.06,79.7 524.21,72.6 524.36,76.4 524.51,90.5 524.66,111.7 524.81,135.4 524.96,156.4 525.11,170.2 525.26,173.7 525.41,166.2 525.56,149.3 525.71,126.8 525.86,103.4 526.01,84.3 526.15,73.7 526.30,73.9 526.45,84.8 526.60,104.1 526.75,127.5 526.90,150.0 527.05,166.6 527.20,173.7 527.35,169.9 527.50,155.8 527.65,134.6 527.80,110.9 527.95,89.9 528.10,76.1 528.25,72.6 528.40,80.1 528.54,97.0 528.69,119.5 528.84,142.9 528.99,162.0 529.14,172.6 529.29,172.4 529.44,161.5 529.59,142.2 529.74,118.8 529.89,96.3 530.04,79.7 530.19,72.6 530.34,76.4 530.49,90.5 530.64,111.7 530.79,135.4 530.93,156.4 531.08,170.2 531.23,173.7 531.38,166.2 531.53,149.3 531.68,126.8 531.83,103.4 531.98,84.3 532.13,73.7 532.28,73.9 532.43,84.8 532.58,104.1 532.73,127.5 532.88,150.0 533.03,166.6 533.18,173.7 533.33,169.9 533.47,155.8 533.62,134.6 533.77,110.9 533.92,89.9 534.07,76.1 534.22,72.6 534.37,80.1 534.52,97.0 534.67,119.5 534.82,142.9 534.97,162.0 535.12,172.6 535.27,172.4 535.42,161.5 535.57,142.2 535.72,118.8 535.86,96.3 536.01,79.7 536.16,72.6 536.31,76.4 536.46,90.5 536.61,111.7 536.76,135.4 536.91,156.4 537.06,170.2 537.21,173.7 537.36,166.2 537.51,149.3 537.66,126.8 537.81,103.4 537.96,84.3 538.11,73.7 538.26,73.9 538.40,84.8 538.55,104.1 538.70,127.5 538.85,150.0 539.00,166.6 539.15,173.7 539.30,169.9 539.45,155.8 539.60,134.6 539.75,110.9 539.90,89.9 540.05,76.1 540.20,72.6 540.35,80.1 540.50,97.0 540.65,119.5 540.79,142.9 540.94,162.0 541.09,172.6 541.24,172.4 541.39,161.5 541.54,142.2 541.69,118.8 541.84,96.3 541.99,79.7 542.14,72.6 542.29,76.4 542.44,90.5 542.59,111.7 542.74,135.4 542.89,156.4 543.04,170.2 543.19,173.7 543.33,166.2 543.48,149.3 543.63,126.8 543.78,103.4 543.93,84.3 544.08,73.7 544.23,73.9 544.38,84.8 544.53,104.1 544.68,127.5 544.83,150.0 544.98,166.6 545.13,173.7 545.28,169.9 545.43,155.8 545.58,134.6 545.72,110.9 545.87,89.9 546.02,76.1 546.17,72.6 546.32,80.1 546.47,97.0 546.62,119.5 546.77,142.9 546.92,162.0 547.07,172.6 547.22,172.4 547.37,161.5 547.52,142.2 547.67,118.8 547.82,96.3 547.97,79.7 548.11,72.6 548.26,76.4 548.41,90.5 548.56,111.7 548.71,135.4 548.86,156.4 549.01,170.2 549.16,173.7 549.31,166.2 549.46,149.3 549.61,126.8 549.76,103.4 549.91,84.3 550.06,73.7 550.21,73.9 550.36,84.8 550.51,104.1 550.65,127.5 550.80,150.0 550.95,166.6 551.10,173.7 551.25,169.9 551.40,155.8 551.55,134.6 551.70,110.9 551.85,89.9 552.00,76.1 552.15,72.6 552.30,80.1 552.45,97.0 552.60,119.5 552.75,142.9 552.90,162.0 553.04,172.6 553.19,172.4 553.34,161.5 553.49,142.2 553.64,118.8 553.79,96.3 553.94,79.7 554.09,72.6 554.24,76.4 554.39,90.5 554.54,111.7 554.69,135.4 554.84,156.4 554.99,170.2 555.14,173.7 555.29,166.2 555.44,149.3 555.58,126.8 555.73,103.4 555.88,84.3 556.03,73.7 556.18,73.9 556.33,84.8 556.48,104.1 556.63,127.5 556.78,150.0 556.93,166.6 557.08,173.7 557.23,169.9 557.38,155.8 557.53,134.6 557.68,110.9 557.83,89.9 557.97,76.1 558.12,72.6 558.27,80.1 558.42,97.0 558.57,119.5 558.72,142.9 558.87,162.0 559.02,172.6 559.17,172.4 559.32,161.5 559.47,142.2 559.62,118.8 559.77,96.3 559.92,79.7 560.07,72.6 560.22,76.4 560.37,90.5 560.51,111.7 560.66,135.4 560.81,156.4 560.96,170.2 561.11,173.7 561.26,166.2 561.41,149.3 561.56,126.8 561.71,103.4 561.86,84.3 562.01,73.7 562.16,73.9 562.31,84.8 562.46,104.1 562.61,127.5 562.76,150.0 562.90,166.6 563.05,173.7 563.20,169.9 563.35,155.8 563.50,134.6 563.65,110.9 563.80,89.9 563.95,76.1 564.10,72.6 564.25,80.1 564.40,97.0 564.55,174.7 564.70,210.7 564.85,97.4 565.00,30.5 565.15,112.9 565.29,213.3 565.44,133.4 565.59,56.2 565.74,102.9 565.89,92.0 566.04,72.7 566.19,60.4 566.34,72.7 566.49,104.2 566.64,142.1 566.79,173.7 566.94,185.9 567.09,173.6 567.24,142.1 567.39,107.9 567.54,84.1 567.69,75.4 567.83,84.3 567.98,108.0 568.13,138.3 568.28,161.8 568.43,170.5 568.58,161.7 568.73,138.1 568.88,104.6 569.03,73.8 569.18,62.0 569.33,74.1 569.48,104.8 569.63,141.5 569.78,171.9 569.93,183.6 570.08,171.7 570.22,141.3 570.37,108.5 570.52,85.7 570.67,77.3 570.82,85.8 570.97,108.6 571.12,137.7 571.27,160.4 571.42,168.8 571.57,160.4 571.72,137.7 571.87,105.1 572.02,75.0 572.17,63.3 572.32,74.9 572.47,105.0 572.62,141.3 572.76,171.6 572.91,183.5 573.06,171.8 573.21,141.5 573.36,108.4 573.51,85.2 573.66,76.5 573.81,85.0 573.96,108.2 574.11,138.1 574.26,161.6 574.41,170.4 574.56,161.7 574.71,138.2 574.86,104.4 575.01,73.0 575.15,60.7 575.30,72.9 575.45,104.2 575.60,142.1 575.75,173.6 575.90,185.9 576.05,173.7 576.20,142.1 576.35,107.9 576.50,84.0 576.65,75.1 576.80,84.0 576.95,107.9 577.10,138.4 577.25,162.1 577.40,170.9 577.55,162.0 577.69,138.3 577.84,104.4 577.99,73.3 578.14,61.3 578.29,73.5 578.44,104.6 578.59,141.7 578.74,172.4 578.89,184.3 579.04,172.2 579.19,141.5 579.34,108.4 579.49,85.4 579.64,76.9 579.79,85.6 579.94,108.5 580.08,137.8 580.23,160.6 580.38,169.0 580.53,160.5 580.68,137.7 580.83,105.1 580.98,75.1 581.13,63.4 581.28,75.1 581.43,105.1 581.58,141.2 581.73,171.3 581.88,183.1 582.03,171.4 582.18,141.3 582.33,108.5 582.47,85.6 582.62,76.9 582.77,85.4 582.92,108.4 583.07,137.9 583.22,161.2 583.37,169.9 583.52,161.3 583.67,138.1 583.82,104.6 583.97,73.5 584.12,61.3 584.27,73.3 584.42,104.4 584.57,141.9 584.72,173.3 584.87,185.6 585.01,173.5 585.16,142.1 585.31,107.9 585.46,84.0 585.61,75.1 585.76,84.0 585.91,107.9 586.06,138.4 586.21,162.3 586.36,171.1 586.51,162.2 586.66,138.4 586.81,104.2 586.96,72.9 587.11,60.7 587.26,73.0 587.40,104.4 587.55,141.9 587.70,172.9 587.85,184.9 588.00,172.6 588.15,141.7 588.30,108.3 588.45,85.1 588.60,76.7 588.75,85.4 588.90,108.5 589.05,137.8 589.20,160.5 589.35,168.9 589.50,160.3 589.65,137.6 589.80,105.3 589.94,75.6 590.09,64.2 590.24,75.8 590.39,105.4 590.54,140.8 590.69,170.2 590.84,181.5 590.99,170.0 591.14,140.7 591.29,109.0 591.44,86.9 591.59,78.7 591.74,86.9 591.89,109.0 592.04,137.3 592.19,159.4 592.33,167.6 592.48,159.4 592.63,137.3 592.78,105.5 592.93,76.2 593.08,64.7 593.23,76.1 593.38,105.4 593.53,140.9 593.68,170.4 593.83,182.0 593.98,170.5 594.13,141.0 594.28,108.8 594.43,86.3 594.58,78.0 594.73,86.3 594.87,108.8 595.02,137.5 595.17,160.0 595.32,168.4 595.47,160.0 595.62,137.5 595.77,105.3 595.92,75.9 596.07,64.8 596.22,76.7 596.37,106.0 596.52,139.9 596.67,165.9 596.82,173.8 596.97,162.9 597.12,141.7 597.26,122.1 597.41,109.0 597.56,101.4 597.71,97.9 597.86,97.2 598.01,98.8 598.16,103.3 598.31,112.7 598.46,127.9 598.61,146.6 598.76,162.9 598.91,170.9 599.06,168.2 599.21,155.1 599.36,134.5 599.51,111.0 599.65,90.0 599.80,76.2 599.95,72.6 600.10,80.1 600.25,97.0 600.40,119.5 600.55,142.9 600.70,162.0 600.85,172.6 601.00,172.4 601.15,161.5 601.30,142.2 601.45,118.8 601.60,96.3 601.75,79.7 601.90,72.6 602.05,76.4 602.19,90.5 602.34,111.7 602.49,135.4 602.64,156.4 602.79,170.2 602.94,173.7 603.09,166.2 603.24,149.3 603.39,126.8 603.54,103.4 603.69,84.3 603.84,73.7 603.99,73.9 604.14,84.8 604.29,104.1 604.44,127.5 604.58,150.0 604.73,166.6 604.88,173.7 605.03,169.9 605.18,155.8 605.33,134.6 605.48,110.9 605.63,89.9 605.78,76.1 605.93,72.6 606.08,80.1 606.23,97.0 606.38,119.5 606.53,142.9 606.68,162.0 606.83,172.6 606.98,172.4 607.12,161.5 607.27,142.2 607.42,118.8 607.57,96.3 607.72,79.7 607.87,72.6 608.02,76.4 608.17,90.5 608.32,111.7 608.47,135.4 608.62,156.4 608.77,170.2 608.92,173.7 609.07,166.2 609.22,149.3 609.37,126.8 609.51,103.4 609.66,84.3 609.81,73.7 609.96,73.9 610.11,84.8 610.26,104.1 610.41,127.5 610.56,150.0 610.71,166.6 610.86,173.7 611.01,169.9 611.16,155.8 611.31,134.6 611.46,110.9 611.61,89.9 611.76,76.1 611.91,72.6 612.05,80.1 612.20,97.0 612.35,119.5 612.50,142.9 612.65,162.0 612.80,172.6 612.95,172.4 613.10,161.5 613.25,142.2 613.40,118.8 613.55,96.3 613.70,79.7 613.85,72.6 614.00,76.4 614.15,90.5 614.30,111.7 614.44,135.4 614.59,156.4 614.74,170.2 614.89,173.7 615.04,166.2 615.19,149.3 615.34,126.8 615.49,103.4 615.64,84.3 615.79,73.7 615.94,73.9 616.09,84.8 616.24,104.1 616.39,127.5 616.54,150.0 616.69,166.6 616.83,173.7 616.98,169.9 617.13,155.8 617.28,134.6 617.43,110.9 617.58,89.9 617.73,76.1 617.88,72.6 618.03,80.1 618.18,97.0 618.33,119.5 618.48,142.9 618.63,162.0 618.78,172.6 618.93,172.4 619.08,161.5 619.23,142.2 619.37,118.8 619.52,96.3 619.67,79.7 619.82,72.6 619.97,76.4 620.12,90.5 620.27,111.7 620.42,135.4 620.57,156.4 620.72,170.2 620.87,173.7 621.02,166.2 621.17,149.3 621.32,126.8 621.47,103.4 621.62,84.3 621.76,73.7 621.91,73.9 622.06,84.8 622.21,104.1 622.36,127.5 622.51,150.0 622.66,166.6 622.81,173.7 622.96,169.9 623.11,155.8 623.26,134.6 623.41,110.9 623.56,89.9 623.71,76.1 623.86,72.6 624.01,80.1 624.16,97.0 624.30,119.5 624.45,142.9 624.60,162.0 624.75,172.6 624.90,172.4 625.05,161.5 625.20,142.2 625.35,118.8 625.50,96.3 625.65,79.7 625.80,72.6 625.95,76.4 626.10,90.5 626.25,111.7 626.40,135.4 626.55,156.4 626.69,170.2 626.84,173.7 626.99,166.2 627.14,149.3 627.29,126.8 627.44,103.4 627.59,84.3 627.74,73.7 627.89,73.9 628.04,84.8 628.19,104.1 628.34,127.5 628.49,150.0 628.64,166.6 628.79,173.7 628.94,169.9 629.09,155.8 629.23,134.6 629.38,110.9 629.53,89.9 629.68,76.1 629.83,72.6 629.98,80.1 630.13,97.0 630.28,119.5 630.43,142.9 630.58,162.0 630.73,172.6 630.88,172.4 631.03,161.5 631.18,142.2 631.33,118.8 631.48,96.3 631.62,79.7 631.77,72.6 631.92,76.4 632.07,90.5 632.22,111.7 632.37,135.4 632.52,156.4 632.67,170.2 632.82,173.7 632.97,166.2 633.12,149.3 633.27,126.8 633.42,103.4 633.57,84.3 633.72,73.7 633.87,73.9 634.01,84.8 634.16,104.1 634.31,127.5 634.46,150.0 634.61,166.6 634.76,173.7 634.91,169.9 635.06,155.8 635.21,134.6 635.36,110.9 635.51,89.9 635.66,76.1 635.81,72.6 635.96,80.1 636.11,97.0 636.26,119.5 636.41,142.9 636.55,162.0 636.70,172.6 636.85,172.4 637.00,161.5 637.15,142.2 637.30,118.8 637.45,96.3 637.60,79.7 637.75,72.6 637.90,76.4 638.05,90.5 638.20,111.7 638.35,135.4 638.50,156.4 638.65,170.2 638.80,173.7 638.94,166.2 639.09,149.3 639.24,126.8 639.39,103.4 639.54,84.3 639.69,73.7 639.84,73.9 639.99,84.8 640.14,104.1 640.29,127.5 640.44,150.0 640.59,166.6 640.74,173.7 640.89,169.9 641.04,155.8 641.19,134.6 641.34,110.9 641.48,89.9 641.63,76.1 641.78,72.6 641.93,80.1 642.08,97.0 642.23,119.5 642.38,142.9 642.53,162.0 642.68,172.6 642.83,172.4 642.98,161.5 643.13,142.2 643.28,118.8 643.43,96.3 643.58,79.7 643.73,72.6 643.87,76.4 644.02,90.5 644.17,111.7 644.32,135.4 644.47,156.4 644.62,170.2 644.77,173.7 644.92,166.2 645.07,149.3 645.22,126.8 645.37,103.4 645.52,84.3 645.67,73.7 645.82,73.9 645.97,84.8 646.12,104.1 646.27,127.5 646.41,150.0 646.56,166.6 646.71,173.7 646.86,169.9 647.01,155.8 647.16,134.6 647.31,110.9 647.46,89.9 647.61,76.1 647.76,72.6 647.91,80.1 648.06,97.0 648.21,119.5 648.36,142.9 648.51,162.0 648.66,172.6 648.80,172.4 648.95,161.5 649.10,142.2 649.25,118.8 649.40,96.3 649.55,79.7 649.70,72.6 649.85,76.4 650.00,90.5 650.15,111.7 650.30,135.4 650.45,156.4 650.60,170.2 650.75,173.7 650.90,166.2 651.05,149.3 651.19,126.8 651.34,103.4 651.49,84.3 651.64,73.7 651.79,73.9 651.94,84.8 652.09,104.1 652.24,127.5 652.39,150.0 652.54,166.6 652.69,173.7 652.84,169.9 652.99,155.8 653.14,134.6 653.29,110.9 653.44,89.9 653.59,76.1 653.73,72.6 653.88,80.1 654.03,97.0 654.18,119.5 654.33,142.9 654.48,162.0 654.63,172.6 654.78,172.4 654.93,161.5 655.08,142.2 655.23,118.8 655.38,96.3 655.53,79.7 655.68,72.6 655.83,76.4" fill="none" stroke="#0072BD" stroke-width="1.32" stroke-linejoin="round"/></g>
<path d="M881.70,200.40v-2.2M881.70,45.90v2.2M939.00,200.40v-2.2M939.00,45.90v2.2M996.30,200.40v-2.2M996.30,45.90v2.2M824.40,200.40h2.2M996.30,200.40h-2.2M824.40,123.15h2.2M996.30,123.15h-2.2M824.40,45.90h2.2M996.30,45.90h-2.2" stroke="#262626" stroke-width="1" fill="none"/>
<path d="M824.40,45.30V201.00M996.30,45.30V201.00" stroke="#666" stroke-width="1.9" fill="none"/>
<path d="M823.40,45.90H997.30M823.40,200.40H997.30" stroke="#3a3a3a" stroke-width="1.4" fill="none"/>
<clipPath id="cB2"><rect x="823.50" y="45.20" width="173.70" height="155.90"/></clipPath>
<g clip-path="url(#cB2)"><polyline filter="url(#bo)" transform="scale(1.15,1)" points="716.87,200.4 717.12,200.4 717.37,200.4 717.62,200.4 717.87,200.4 718.12,200.4 718.36,200.4 718.61,200.4 718.86,200.4 719.11,200.4 719.36,200.4 719.61,200.4 719.86,200.4 720.11,200.4 720.36,200.4 720.61,200.4 720.86,200.4 721.10,200.4 721.35,200.4 721.60,200.4 721.85,200.4 722.10,200.4 722.35,200.4 722.60,200.4 722.85,200.4 723.10,200.4 723.35,200.4 723.60,200.4 723.85,200.4 724.09,200.4 724.34,200.4 724.59,200.4 724.84,200.4 725.09,200.4 725.34,200.4 725.59,200.4 725.84,200.4 726.09,200.4 726.34,200.4 726.59,200.4 726.83,200.4 727.08,200.4 727.33,200.4 727.58,200.4 727.83,200.4 728.08,200.4 728.33,200.4 728.58,200.4 728.83,200.4 729.08,200.4 729.33,200.4 729.58,200.4 729.82,200.4 730.07,200.4 730.32,200.4 730.57,200.4 730.82,200.4 731.07,200.4 731.32,200.4 731.57,200.4 731.82,200.4 732.07,200.4 732.32,200.4 732.56,200.4 732.81,200.4 733.06,200.4 733.31,200.4 733.56,200.4 733.81,200.4 734.06,200.4 734.31,200.4 734.56,200.4 734.81,200.4 735.06,200.4 735.31,200.4 735.55,200.4 735.80,200.4 736.05,200.4 736.30,200.4 736.55,200.4 736.80,200.4 737.05,200.4 737.30,200.4 737.55,200.4 737.80,200.4 738.05,200.4 738.29,200.4 738.54,200.4 738.79,200.4 739.04,200.4 739.29,200.4 739.54,200.4 739.79,200.4 740.04,200.4 740.29,200.4 740.54,200.4 740.79,200.4 741.04,200.4 741.28,200.4 741.53,200.4 741.78,200.4 742.03,199.0 742.28,199.3 742.53,199.8 742.78,200.4 743.03,199.8 743.28,199.3 743.53,199.0 743.78,198.8 744.02,199.0 744.27,199.3 744.52,199.8 744.77,200.4 745.02,199.8 745.27,199.3 745.52,199.0 745.77,198.8 746.02,199.0 746.27,199.3 746.52,199.8 746.77,200.4 747.01,199.8 747.26,199.3 747.51,199.0 747.76,198.8 748.01,199.0 748.26,199.3 748.51,199.8 748.76,200.4 749.01,199.8 749.26,199.3 749.51,199.0 749.75,198.8 750.00,199.0 750.25,199.3 750.50,199.8 750.75,200.4 751.00,199.8 751.25,199.3 751.50,199.0 751.75,198.9 752.00,199.0 752.25,199.3 752.50,199.8 752.74,200.4 752.99,199.8 753.24,199.3 753.49,198.9 753.74,198.8 753.99,199.0 754.24,199.3 754.49,199.8 754.74,200.4 754.99,199.8 755.24,199.2 755.48,198.9 755.73,198.8 755.98,198.9 756.23,199.3 756.48,199.8 756.73,200.4 756.98,199.8 757.23,199.2 757.48,198.9 757.73,198.8 757.98,198.9 758.23,199.2 758.47,199.8 758.72,200.4 758.97,199.8 759.22,199.3 759.47,198.9 759.72,198.7 759.97,198.8 760.22,199.2 760.47,199.7 760.72,200.3 760.97,199.8 761.21,199.3 761.46,198.9 761.71,198.7 761.96,198.8 762.21,199.1 762.46,199.6 762.71,200.2 762.96,199.7 763.21,199.2 763.46,199.0 763.71,198.8 763.96,198.8 764.20,199.1 764.45,199.5 764.70,200.0 764.95,199.5 765.20,199.0 765.45,198.8 765.70,198.8 765.95,199.0 766.20,199.2 766.45,199.5 766.70,199.9 766.94,199.3 767.19,198.8 767.44,198.5 767.69,198.5 767.94,198.8 768.19,199.3 768.44,199.7 768.69,200.0 768.94,199.2 769.19,198.5 769.44,198.1 769.69,198.1 769.93,198.4 770.18,199.0 770.43,199.8 770.68,200.3 770.93,199.4 771.18,198.5 771.43,197.8 771.68,197.5 771.93,197.7 772.18,198.3 772.43,199.2 772.67,200.2 772.92,199.8 773.17,198.9 773.42,198.0 773.67,197.3 773.92,197.0 774.17,197.3 774.42,198.0 774.67,199.2 774.92,199.2 775.17,199.3 775.42,198.6 775.66,197.7 775.91,196.9 776.16,196.5 776.41,196.7 776.66,197.5 776.91,197.5 777.16,198.0 777.41,198.6 777.66,198.7 777.91,197.7 778.16,196.7 778.40,195.9 778.65,195.7 778.90,195.1 779.15,195.3 779.40,196.3 779.65,197.8 779.90,199.0 780.15,198.1 780.40,196.7 780.65,195.2 780.90,193.0 781.15,192.0 781.39,192.3 781.64,193.9 781.89,196.4 782.14,198.9 782.39,199.0 782.64,196.9 782.89,193.0 783.14,189.7 783.39,187.8 783.64,188.0 783.89,190.1 784.13,193.9 784.38,198.0 784.63,200.2 784.88,196.2 785.13,190.9 785.38,185.8 785.63,182.4 785.88,181.8 786.13,184.2 786.38,189.2 786.63,195.5 786.88,199.4 787.12,196.3 787.37,189.1 787.62,181.4 787.87,198.5 788.12,195.2 788.37,180.7 788.62,152.0 788.87,133.5 789.12,148.8 789.37,173.2 789.62,177.1 789.86,156.0 790.11,107.1 790.36,19.3 790.61,-118.1 790.86,-307.3 791.11,-528.6 791.36,-743.5 791.61,-901.6 791.86,-959.8 792.11,-901.1 792.36,-742.6 792.61,-527.5 792.85,-307.3 793.10,-119.2 793.35,18.5 793.60,106.6 793.85,156.5 794.10,181.6 794.35,193.2 794.60,198.1 794.85,198.8 795.10,196.1 795.35,184.9 795.59,163.4 795.84,150.7 796.09,163.8 796.34,185.8 796.59,197.4 796.84,199.5 797.09,199.3 797.34,199.0 797.59,198.9 797.84,199.0 798.09,199.3 798.34,199.8 798.58,200.4 798.83,199.8 799.08,199.3 799.33,199.0 799.58,198.9 799.83,199.0 800.08,199.3 800.33,199.8 800.58,200.4 800.83,199.8 801.08,199.3 801.32,199.0 801.57,198.9 801.82,199.0 802.07,199.3 802.32,199.8 802.57,200.4 802.82,199.8 803.07,199.3 803.32,199.0 803.57,198.9 803.82,199.0 804.07,199.3 804.31,199.8 804.56,200.4 804.81,199.8 805.06,199.3 805.31,199.0 805.56,198.9 805.81,199.0 806.06,199.3 806.31,199.8 806.56,200.4 806.81,199.8 807.05,199.3 807.30,199.0 807.55,198.9 807.80,199.0 808.05,199.3 808.30,199.8 808.55,200.4 808.80,199.8 809.05,199.3 809.30,199.0 809.55,198.9 809.80,199.0 810.04,199.3 810.29,199.8 810.54,200.4 810.79,199.8 811.04,199.3 811.29,199.0 811.54,198.8 811.79,199.0 812.04,199.3 812.29,199.8 812.54,200.4 812.78,199.8 813.03,199.3 813.28,199.0 813.53,198.8 813.78,199.0 814.03,199.3 814.28,199.8 814.53,200.4 814.78,199.8 815.03,199.3 815.28,198.9 815.53,198.8 815.77,198.9 816.02,199.3 816.27,199.8 816.52,200.4 816.77,199.8 817.02,199.3 817.27,198.9 817.52,198.8 817.77,198.9 818.02,199.3 818.27,199.8 818.51,200.4 818.76,199.8 819.01,199.3 819.26,198.9 819.51,198.8 819.76,198.9 820.01,199.2 820.26,199.7 820.51,200.3 820.76,199.8 821.01,199.3 821.26,198.9 821.50,198.8 821.75,198.9 822.00,199.2 822.25,199.7 822.50,200.3 822.75,199.7 823.00,199.2 823.25,198.9 823.50,198.8 823.75,198.9 824.00,199.1 824.24,199.6 824.49,200.1 824.74,199.6 824.99,199.1 825.24,198.8 825.49,198.8 825.74,198.9 825.99,199.1 826.24,199.5 826.49,200.0 826.74,199.4 826.99,198.9 827.23,198.6 827.48,198.6 827.73,198.9 827.98,199.2 828.23,199.5 828.48,199.8 828.73,199.1 828.98,198.5 829.23,198.2 829.48,198.2 829.73,198.5 829.97,199.2 830.22,199.6 830.47,199.8 830.72,198.8 830.97,198.1 831.22,197.6 831.47,197.5 831.72,197.8 831.97,198.5 832.22,199.6 832.47,200.0 832.72,198.7 832.96,197.6 833.21,196.8 833.46,196.4 833.71,196.6 833.96,197.3 834.21,198.4 834.46,200.0 834.71,199.1 834.96,197.4 835.21,196.0 835.46,195.0 835.70,194.7 835.95,195.1 836.20,196.2 836.45,198.0 836.70,199.6 836.95,197.5 837.20,193.7 837.45,188.3 837.70,181.3 837.95,172.8 838.20,162.9 838.45,151.8 838.69,138.6 838.94,125.0 839.19,111.3 839.44,98.1 839.69,85.8 839.94,74.6 840.19,65.0 840.44,57.2 840.69,50.1 840.94,45.2 841.19,42.7 841.43,42.8 841.68,45.5 841.93,50.7 842.18,58.1 842.43,67.5 842.68,77.3 842.93,88.5 843.18,100.8 843.43,113.9 843.68,127.3 843.93,140.7 844.18,153.6 844.42,165.6 844.67,175.2 844.92,183.2 845.17,189.7 845.42,194.5 845.67,197.6 845.92,199.2 846.17,197.1 846.42,196.6 846.67,195.5 846.92,195.1 847.16,195.3 847.41,196.1 847.66,197.3 847.91,198.8 848.16,199.2 848.41,198.9 848.66,197.7 848.91,196.9 849.16,196.6 849.41,196.8 849.66,197.4 849.91,198.4 850.15,199.5 850.40,200.0 850.65,198.9 850.90,198.1 851.15,197.6 851.40,197.5 851.65,197.8 851.90,198.4 852.15,199.3 852.40,200.3 852.65,199.6 852.89,198.8 853.14,198.3 853.39,198.1 853.64,198.2 853.89,198.6 854.14,199.3 854.39,200.1 854.64,199.7 854.89,199.2 855.14,198.7 855.39,198.5 855.64,198.5 855.88,198.9 856.13,199.4 856.38,200.1 856.63,199.6 856.88,199.3 857.13,198.9 857.38,198.7 857.63,198.7 857.88,199.1 858.13,199.6 858.38,200.2 858.62,199.6 858.87,199.2 859.12,198.9 859.37,198.8 859.62,198.9 859.87,199.2 860.12,199.7 860.37,200.3 860.62,199.7 860.87,199.2 861.12,198.9 861.37,198.8 861.61,199.0 861.86,199.3 862.11,199.7 862.36,200.3 862.61,199.7 862.86,199.2 863.11,198.9 863.36,198.8 863.61,199.0 863.86,199.3 864.11,199.8 864.35,200.4 864.60,199.8 864.85,199.3 865.10,198.9 865.35,198.8 865.60,199.0 865.85,199.3 866.10,199.8 866.35,200.4" fill="none" stroke="#EC6A38" stroke-width="1.05" stroke-linejoin="round"/></g>
<path d="M582.40,406.70v-2.2M582.40,252.40v2.2M668.30,406.70v-2.2M668.30,252.40v2.2M754.20,406.70v-2.2M754.20,252.40v2.2M582.40,380.98h2.2M754.20,380.98h-2.2M582.40,329.55h2.2M754.20,329.55h-2.2M582.40,278.12h2.2M754.20,278.12h-2.2" stroke="#262626" stroke-width="1" fill="none"/>
<path d="M582.40,251.80V407.30M754.20,251.80V407.30" stroke="#666" stroke-width="1.9" fill="none"/>
<path d="M581.40,252.40H755.20M581.40,406.70H755.20" stroke="#3a3a3a" stroke-width="1.4" fill="none"/>
<clipPath id="cB3"><rect x="581.50" y="251.70" width="173.60" height="155.70"/></clipPath>
<g clip-path="url(#cB3)"><polyline filter="url(#bl)" transform="scale(1.15,1)" points="506.43,329.6 506.58,329.6 506.73,329.6 506.88,329.6 507.03,329.6 507.18,329.6 507.33,329.6 507.48,329.6 507.63,329.6 507.78,329.6 507.93,329.6 508.08,329.6 508.23,329.6 508.38,329.6 508.53,329.6 508.68,329.6 508.83,329.6 508.97,329.6 509.12,329.6 509.27,329.6 509.42,329.6 509.57,329.6 509.72,329.6 509.87,329.6 510.02,329.6 510.17,329.6 510.32,329.6 510.47,329.6 510.62,329.6 510.77,329.6 510.92,329.6 511.07,329.6 511.22,329.6 511.36,329.6 511.51,329.6 511.66,329.6 511.81,329.6 511.96,329.6 512.11,329.6 512.26,329.6 512.41,329.6 512.56,329.6 512.71,329.6 512.86,329.6 513.01,329.6 513.16,329.6 513.31,329.6 513.46,329.6 513.61,329.6 513.75,329.6 513.90,329.6 514.05,329.6 514.20,329.6 514.35,329.6 514.50,329.6 514.65,329.6 514.80,329.6 514.95,329.6 515.10,329.6 515.25,329.6 515.40,329.6 515.55,329.6 515.70,329.6 515.85,329.6 516.00,329.6 516.15,329.6 516.29,329.6 516.44,329.6 516.59,329.6 516.74,329.6 516.89,329.6 517.04,329.6 517.19,329.6 517.34,329.6 517.49,329.6 517.64,329.6 517.79,329.6 517.94,329.6 518.09,329.6 518.24,329.6 518.39,329.6 518.54,329.6 518.68,329.6 518.83,329.6 518.98,329.6 519.13,329.6 519.28,329.6 519.43,329.6 519.58,329.6 519.73,329.6 519.88,329.6 520.03,329.6 520.18,329.6 520.33,329.6 520.48,329.6 520.63,329.6 520.78,329.6 520.93,329.6 521.08,329.6 521.22,329.6 521.37,329.6 521.52,329.6 521.67,329.6 521.82,329.6 521.97,329.6 522.12,329.6 522.27,329.6 522.42,329.6 522.57,329.6 522.72,329.6 522.87,329.6 523.02,329.6 523.17,329.6 523.32,329.6 523.47,329.6 523.61,329.6 523.76,329.6 523.91,329.6 524.06,329.6 524.21,329.6 524.36,329.6 524.51,329.6 524.66,329.6 524.81,329.6 524.96,329.6 525.11,329.6 525.26,329.6 525.41,329.6 525.56,329.6 525.71,329.6 525.86,329.6 526.01,329.6 526.15,329.6 526.30,329.6 526.45,329.6 526.60,329.6 526.75,329.6 526.90,329.6 527.05,329.6 527.20,329.6 527.35,329.6 527.50,329.6 527.65,329.6 527.80,329.6 527.95,329.6 528.10,329.6 528.25,329.6 528.40,329.6 528.54,329.6 528.69,329.6 528.84,329.6 528.99,329.6 529.14,329.6 529.29,329.6 529.44,329.6 529.59,329.6 529.74,329.6 529.89,329.6 530.04,329.6 530.19,329.6 530.34,329.6 530.49,329.6 530.64,329.6 530.79,329.6 530.93,329.6 531.08,329.6 531.23,329.6 531.38,329.6 531.53,329.6 531.68,329.6 531.83,329.6 531.98,329.6 532.13,329.6 532.28,329.6 532.43,329.6 532.58,329.6 532.73,329.6 532.88,329.6 533.03,329.6 533.18,329.6 533.33,329.6 533.47,329.6 533.62,329.6 533.77,329.6 533.92,329.6 534.07,329.6 534.22,329.6 534.37,329.6 534.52,329.6 534.67,329.6 534.82,329.6 534.97,329.6 535.12,329.6 535.27,329.6 535.42,329.6 535.57,329.6 535.72,329.6 535.86,329.6 536.01,329.6 536.16,329.6 536.31,329.6 536.46,329.6 536.61,329.6 536.76,329.6 536.91,329.6 537.06,329.6 537.21,329.6 537.36,329.6 537.51,329.6 537.66,329.6 537.81,329.6 537.96,329.6 538.11,329.6 538.26,329.6 538.40,329.6 538.55,329.6 538.70,329.6 538.85,329.6 539.00,329.6 539.15,329.6 539.30,329.6 539.45,329.6 539.60,329.6 539.75,329.6 539.90,329.6 540.05,329.6 540.20,329.6 540.35,329.6 540.50,329.6 540.65,329.6 540.79,329.6 540.94,329.6 541.09,329.6 541.24,329.6 541.39,329.6 541.54,329.6 541.69,329.6 541.84,329.6 541.99,329.6 542.14,329.6 542.29,329.6 542.44,329.6 542.59,329.6 542.74,329.6 542.89,329.6 543.04,329.6 543.19,329.6 543.33,329.6 543.48,329.6 543.63,329.6 543.78,329.6 543.93,329.6 544.08,329.6 544.23,329.6 544.38,329.6 544.53,329.6 544.68,329.6 544.83,329.6 544.98,329.6 545.13,329.6 545.28,329.6 545.43,329.6 545.58,329.6 545.72,329.6 545.87,329.6 546.02,329.6 546.17,329.6 546.32,329.6 546.47,329.6 546.62,329.6 546.77,329.6 546.92,329.6 547.07,329.6 547.22,329.6 547.37,329.6 547.52,329.6 547.67,329.6 547.82,329.6 547.97,329.6 548.11,329.6 548.26,329.6 548.41,329.6 548.56,329.6 548.71,329.6 548.86,329.6 549.01,329.6 549.16,329.6 549.31,329.6 549.46,329.6 549.61,329.6 549.76,329.6 549.91,329.6 550.06,329.6 550.21,329.6 550.36,329.6 550.51,329.6 550.65,329.6 550.80,329.6 550.95,329.6 551.10,329.6 551.25,329.6 551.40,329.6 551.55,329.6 551.70,329.6 551.85,329.6 552.00,329.6 552.15,329.6 552.30,329.6 552.45,329.6 552.60,329.6 552.75,329.6 552.90,329.6 553.04,329.6 553.19,329.6 553.34,329.6 553.49,329.6 553.64,329.6 553.79,329.6 553.94,329.6 554.09,329.6 554.24,329.6 554.39,329.6 554.54,329.6 554.69,329.6 554.84,329.6 554.99,329.6 555.14,329.6 555.29,329.6 555.44,329.6 555.58,329.6 555.73,329.6 555.88,329.6 556.03,329.6 556.18,329.6 556.33,329.6 556.48,329.6 556.63,329.6 556.78,329.6 556.93,329.6 557.08,329.6 557.23,329.6 557.38,329.6 557.53,329.6 557.68,329.6 557.83,329.6 557.97,329.6 558.12,329.6 558.27,329.6 558.42,329.6 558.57,329.6 558.72,329.6 558.87,329.6 559.02,329.6 559.17,329.6 559.32,329.6 559.47,329.6 559.62,329.6 559.77,329.6 559.92,329.6 560.07,329.6 560.22,329.6 560.37,329.6 560.51,329.6 560.66,329.6 560.81,329.6 560.96,329.6 561.11,329.6 561.26,329.6 561.41,329.6 561.56,329.6 561.71,329.6 561.86,329.5 562.01,329.1 562.16,328.6 562.31,327.9 562.46,327.1 562.61,326.6 562.76,326.7 562.90,327.6 563.05,329.6 563.20,332.6 563.35,336.2 563.50,339.9 563.65,342.8 563.80,344.3 563.95,343.4 564.10,339.9 564.25,333.7 564.40,325.5 564.55,316.3 564.70,307.6 564.85,301.0 565.00,297.8 565.15,299.1 565.29,305.2 565.44,315.4 565.59,328.5 565.74,342.6 565.89,355.4 566.04,365.0 566.19,369.7 566.34,368.9 566.49,362.8 566.64,352.3 566.79,338.7 566.94,324.0 567.09,309.9 567.24,298.5 567.39,291.2 567.54,289.1 567.69,292.4 567.83,300.6 567.98,312.7 568.13,327.0 568.28,341.7 568.43,354.8 568.58,364.5 568.73,369.5 568.88,369.2 569.03,363.6 569.18,353.4 569.33,340.1 569.48,325.3 569.63,311.2 569.78,299.4 569.93,291.7 570.08,289.1 570.22,291.8 570.37,299.6 570.52,311.4 570.67,325.6 570.82,340.4 570.97,353.7 571.12,363.7 571.27,369.2 571.42,369.4 571.57,364.3 571.72,354.5 571.87,341.4 572.02,326.7 572.17,312.4 572.32,300.4 572.47,292.2 572.62,289.1 572.76,291.3 572.91,298.7 573.06,310.2 573.21,324.2 573.36,339.0 573.51,352.5 573.66,363.0 573.81,368.9 573.96,369.7 574.11,365.0 574.26,355.6 574.41,342.8 574.56,328.1 574.71,313.7 574.86,301.4 575.01,292.8 575.15,289.2 575.30,290.9 575.45,297.8 575.60,309.0 575.75,322.9 575.90,337.7 576.05,351.4 576.20,362.2 576.35,368.6 576.50,369.8 576.65,365.7 576.80,356.7 576.95,344.1 577.10,329.5 577.25,315.0 577.40,302.4 577.55,293.4 577.69,289.3 577.84,290.5 577.99,297.0 578.14,307.8 578.29,321.5 578.44,336.3 578.59,350.2 578.74,361.3 578.89,368.2 579.04,369.9 579.19,366.3 579.34,357.7 579.49,345.4 579.64,330.9 579.79,316.3 579.94,303.4 580.08,294.1 580.23,289.4 580.38,290.2 580.53,296.2 580.68,306.6 580.83,320.1 580.98,334.9 581.13,349.0 581.28,360.4 581.43,367.8 581.58,370.0 581.73,366.8 581.88,358.7 582.03,346.7 582.18,332.3 582.33,317.6 582.47,304.5 582.62,294.8 582.77,289.6 582.92,289.9 583.07,295.4 583.22,305.5 583.37,318.8 583.52,333.5 583.67,347.7 583.82,359.5 583.97,367.3 584.12,370.0 584.27,367.4 584.42,359.6 584.57,347.9 584.72,333.7 584.87,319.0 585.01,305.6 585.16,295.5 585.31,289.9 585.46,289.6 585.61,294.7 585.76,304.4 585.91,317.4 586.06,332.1 586.21,346.5 586.36,358.5 586.51,366.8 586.66,370.0 586.81,367.8 586.96,360.6 587.11,349.1 587.26,335.1 587.40,320.3 587.55,306.8 587.70,296.3 587.85,290.2 588.00,289.4 588.15,294.0 588.30,303.3 588.45,316.1 588.60,330.7 588.75,345.2 588.90,357.6 589.05,366.2 589.20,369.9 589.35,368.3 589.50,361.4 589.65,350.4 589.80,336.5 589.94,321.7 590.09,308.0 590.24,297.1 590.39,290.6 590.54,289.3 590.69,293.3 590.84,302.2 590.99,314.8 591.14,329.3 591.29,343.9 591.44,356.5 591.59,365.6 591.74,369.8 591.89,368.7 592.04,362.3 592.19,351.5 592.33,337.9 592.48,323.1 592.63,309.1 592.78,297.9 592.93,291.0 593.08,289.1 593.23,292.7 593.38,301.2 593.53,313.5 593.68,327.9 593.83,342.6 593.98,355.5 594.13,364.9 594.28,369.6 594.43,369.0 594.58,363.1 594.73,352.7 594.87,339.2 595.02,324.5 595.17,310.4 595.32,298.8 595.47,291.4 595.62,289.1 595.77,292.2 595.92,300.4 596.07,312.5 596.22,326.6 596.37,340.5 596.52,352.1 596.67,359.7 596.82,362.6 596.97,360.8 597.12,354.9 597.26,346.3 597.41,336.6 597.56,327.4 597.71,320.0 597.86,315.3 598.01,313.5 598.16,314.3 598.31,317.0 598.46,320.9 598.61,325.0 598.76,328.7 598.91,331.3 599.06,332.7 599.21,333.2 599.36,332.8 599.51,332.0 599.65,331.1 599.80,330.3 599.95,329.8 600.10,329.5 600.25,329.5 600.40,329.5 600.55,329.5 600.70,329.5 600.85,329.6 601.00,329.6 601.15,329.6 601.30,329.6 601.45,329.6 601.60,329.6 601.75,329.6 601.90,329.6 602.05,329.6 602.19,329.6 602.34,329.6 602.49,329.6 602.64,329.6 602.79,329.6 602.94,329.6 603.09,329.6 603.24,329.6 603.39,329.6 603.54,329.6 603.69,329.6 603.84,329.6 603.99,329.6 604.14,329.6 604.29,329.6 604.44,329.6 604.58,329.6 604.73,329.6 604.88,329.6 605.03,329.6 605.18,329.6 605.33,329.6 605.48,329.6 605.63,329.6 605.78,329.6 605.93,329.6 606.08,329.6 606.23,329.6 606.38,329.6 606.53,329.6 606.68,329.6 606.83,329.6 606.98,329.6 607.12,329.6 607.27,329.6 607.42,329.6 607.57,329.6 607.72,329.6 607.87,329.6 608.02,329.6 608.17,329.6 608.32,329.6 608.47,329.6 608.62,329.6 608.77,329.6 608.92,329.6 609.07,329.6 609.22,329.6 609.37,329.6 609.51,329.6 609.66,329.6 609.81,329.6 609.96,329.6 610.11,329.6 610.26,329.6 610.41,329.6 610.56,329.6 610.71,329.6 610.86,329.6 611.01,329.6 611.16,329.6 611.31,329.6 611.46,329.6 611.61,329.6 611.76,329.6 611.91,329.6 612.05,329.6 612.20,329.6 612.35,329.6 612.50,329.6 612.65,329.6 612.80,329.6 612.95,329.6 613.10,329.6 613.25,329.6 613.40,329.6 613.55,329.6 613.70,329.6 613.85,329.6 614.00,329.6 614.15,329.6 614.30,329.6 614.44,329.6 614.59,329.6 614.74,329.6 614.89,329.6 615.04,329.6 615.19,329.6 615.34,329.6 615.49,329.6 615.64,329.6 615.79,329.6 615.94,329.6 616.09,329.6 616.24,329.6 616.39,329.6 616.54,329.6 616.69,329.6 616.83,329.6 616.98,329.6 617.13,329.6 617.28,329.6 617.43,329.6 617.58,329.6 617.73,329.6 617.88,329.6 618.03,329.6 618.18,329.6 618.33,329.6 618.48,329.6 618.63,329.6 618.78,329.6 618.93,329.6 619.08,329.6 619.23,329.6 619.37,329.6 619.52,329.6 619.67,329.6 619.82,329.6 619.97,329.6 620.12,329.6 620.27,329.6 620.42,329.6 620.57,329.6 620.72,329.6 620.87,329.6 621.02,329.6 621.17,329.6 621.32,329.6 621.47,329.6 621.62,329.6 621.76,329.6 621.91,329.6 622.06,329.6 622.21,329.6 622.36,329.6 622.51,329.6 622.66,329.6 622.81,329.6 622.96,329.6 623.11,329.6 623.26,329.6 623.41,329.6 623.56,329.6 623.71,329.6 623.86,329.6 624.01,329.6 624.16,329.6 624.30,329.6 624.45,329.6 624.60,329.6 624.75,329.6 624.90,329.6 625.05,329.6 625.20,329.6 625.35,329.6 625.50,329.6 625.65,329.6 625.80,329.6 625.95,329.6 626.10,329.6 626.25,329.6 626.40,329.6 626.55,329.6 626.69,329.6 626.84,329.6 626.99,329.6 627.14,329.6 627.29,329.6 627.44,329.6 627.59,329.6 627.74,329.6 627.89,329.6 628.04,329.6 628.19,329.6 628.34,329.6 628.49,329.6 628.64,329.6 628.79,329.6 628.94,329.6 629.09,329.6 629.23,329.6 629.38,329.6 629.53,329.6 629.68,329.6 629.83,329.6 629.98,329.6 630.13,329.6 630.28,329.6 630.43,329.6 630.58,329.6 630.73,329.6 630.88,329.6 631.03,329.6 631.18,329.6 631.33,329.6 631.48,329.6 631.62,329.6 631.77,329.6 631.92,329.6 632.07,329.6 632.22,329.6 632.37,329.6 632.52,329.6 632.67,329.6 632.82,329.6 632.97,329.6 633.12,329.6 633.27,329.6 633.42,329.6 633.57,329.6 633.72,329.6 633.87,329.6 634.01,329.6 634.16,329.6 634.31,329.6 634.46,329.6 634.61,329.6 634.76,329.6 634.91,329.6 635.06,329.6 635.21,329.6 635.36,329.6 635.51,329.6 635.66,329.6 635.81,329.6 635.96,329.6 636.11,329.6 636.26,329.6 636.41,329.6 636.55,329.6 636.70,329.6 636.85,329.6 637.00,329.6 637.15,329.6 637.30,329.6 637.45,329.6 637.60,329.6 637.75,329.6 637.90,329.6 638.05,329.6 638.20,329.6 638.35,329.6 638.50,329.6 638.65,329.6 638.80,329.6 638.94,329.6 639.09,329.6 639.24,329.6 639.39,329.6 639.54,329.6 639.69,329.6 639.84,329.6 639.99,329.6 640.14,329.6 640.29,329.6 640.44,329.6 640.59,329.6 640.74,329.6 640.89,329.6 641.04,329.6 641.19,329.6 641.34,329.6 641.48,329.6 641.63,329.6 641.78,329.6 641.93,329.6 642.08,329.6 642.23,329.6 642.38,329.6 642.53,329.6 642.68,329.6 642.83,329.6 642.98,329.6 643.13,329.6 643.28,329.6 643.43,329.6 643.58,329.6 643.73,329.6 643.87,329.6 644.02,329.6 644.17,329.6 644.32,329.6 644.47,329.6 644.62,329.6 644.77,329.6 644.92,329.6 645.07,329.6 645.22,329.6 645.37,329.6 645.52,329.6 645.67,329.6 645.82,329.6 645.97,329.6 646.12,329.6 646.27,329.6 646.41,329.6 646.56,329.6 646.71,329.6 646.86,329.6 647.01,329.6 647.16,329.6 647.31,329.6 647.46,329.6 647.61,329.6 647.76,329.6 647.91,329.6 648.06,329.6 648.21,329.6 648.36,329.6 648.51,329.6 648.66,329.6 648.80,329.6 648.95,329.6 649.10,329.6 649.25,329.6 649.40,329.6 649.55,329.6 649.70,329.6 649.85,329.6 650.00,329.6 650.15,329.6 650.30,329.6 650.45,329.6 650.60,329.6 650.75,329.6 650.90,329.6 651.05,329.6 651.19,329.6 651.34,329.6 651.49,329.6 651.64,329.6 651.79,329.6 651.94,329.6 652.09,329.6 652.24,329.6 652.39,329.6 652.54,329.6 652.69,329.6 652.84,329.6 652.99,329.6 653.14,329.6 653.29,329.6 653.44,329.6 653.59,329.6 653.73,329.6 653.88,329.6 654.03,329.6 654.18,329.6 654.33,329.6 654.48,329.6 654.63,329.6 654.78,329.6 654.93,329.6 655.08,329.6 655.23,329.6 655.38,329.6 655.53,329.6 655.68,329.6 655.83,329.6" fill="none" stroke="#0072BD" stroke-width="1.32" stroke-linejoin="round"/></g>
<clipPath id="cB3b"><rect x="581.50" y="251.70" width="173.60" height="155.70"/></clipPath>
<g clip-path="url(#cB3b)"><polyline filter="url(#bl)" transform="scale(1.15,1)" points="561.41,329.6 561.56,329.6 561.71,329.6 561.86,329.5 562.01,329.1 562.16,328.6 562.31,327.9 562.46,327.1 562.61,326.6 562.76,326.7 562.90,327.6 563.05,329.6 563.20,332.6 563.35,336.2 563.50,339.9 563.65,342.8 563.80,344.3 563.95,343.4 564.10,339.9 564.25,333.7 564.40,325.5 564.55,316.3 564.70,307.6 564.85,301.0 565.00,297.8 565.15,299.1 565.29,305.2 565.44,315.4 565.59,328.5 565.74,342.6 565.89,355.4 566.04,365.0 566.19,369.7 566.34,368.9 566.49,362.8 566.64,352.3 566.79,338.7 566.94,324.0 567.09,309.9 567.24,298.5 567.39,291.2 567.54,289.1 567.69,292.4 567.83,300.6 567.98,312.7 568.13,327.0 568.28,341.7 568.43,354.8 568.58,364.5 568.73,369.5 568.88,369.2 569.03,363.6 569.18,353.4 569.33,340.1 569.48,325.3 569.63,311.2 569.78,299.4 569.93,291.7 570.08,289.1 570.22,291.8 570.37,299.6 570.52,311.4 570.67,325.6 570.82,340.4 570.97,353.7 571.12,363.7 571.27,369.2 571.42,369.4 571.57,364.3 571.72,354.5 571.87,341.4 572.02,326.7 572.17,312.4 572.32,300.4 572.47,292.2 572.62,289.1 572.76,291.3 572.91,298.7 573.06,310.2 573.21,324.2 573.36,339.0 573.51,352.5 573.66,363.0 573.81,368.9 573.96,369.7 574.11,365.0 574.26,355.6 574.41,342.8 574.56,328.1 574.71,313.7 574.86,301.4 575.01,292.8 575.15,289.2 575.30,290.9 575.45,297.8 575.60,309.0 575.75,322.9 575.90,337.7 576.05,351.4 576.20,362.2 576.35,368.6 576.50,369.8 576.65,365.7 576.80,356.7 576.95,344.1 577.10,329.5 577.25,315.0 577.40,302.4 577.55,293.4 577.69,289.3 577.84,290.5 577.99,297.0 578.14,307.8 578.29,321.5 578.44,336.3 578.59,350.2 578.74,361.3 578.89,368.2 579.04,369.9 579.19,366.3 579.34,357.7 579.49,345.4 579.64,330.9 579.79,316.3 579.94,303.4 580.08,294.1 580.23,289.4 580.38,290.2 580.53,296.2 580.68,306.6 580.83,320.1 580.98,334.9 581.13,349.0 581.28,360.4 581.43,367.8 581.58,370.0 581.73,366.8 581.88,358.7 582.03,346.7 582.18,332.3 582.33,317.6 582.47,304.5 582.62,294.8 582.77,289.6 582.92,289.9 583.07,295.4 583.22,305.5 583.37,318.8 583.52,333.5 583.67,347.7 583.82,359.5 583.97,367.3 584.12,370.0 584.27,367.4 584.42,359.6 584.57,347.9 584.72,333.7 584.87,319.0 585.01,305.6 585.16,295.5 585.31,289.9 585.46,289.6 585.61,294.7 585.76,304.4 585.91,317.4 586.06,332.1 586.21,346.5 586.36,358.5 586.51,366.8 586.66,370.0 586.81,367.8 586.96,360.6 587.11,349.1 587.26,335.1 587.40,320.3 587.55,306.8 587.70,296.3 587.85,290.2 588.00,289.4 588.15,294.0 588.30,303.3 588.45,316.1 588.60,330.7 588.75,345.2 588.90,357.6 589.05,366.2 589.20,369.9 589.35,368.3 589.50,361.4 589.65,350.4 589.80,336.5 589.94,321.7 590.09,308.0 590.24,297.1 590.39,290.6 590.54,289.3 590.69,293.3 590.84,302.2 590.99,314.8 591.14,329.3 591.29,343.9 591.44,356.5 591.59,365.6 591.74,369.8 591.89,368.7 592.04,362.3 592.19,351.5 592.33,337.9 592.48,323.1 592.63,309.1 592.78,297.9 592.93,291.0 593.08,289.1 593.23,292.7 593.38,301.2 593.53,313.5 593.68,327.9 593.83,342.6 593.98,355.5 594.13,364.9 594.28,369.6 594.43,369.0 594.58,363.1 594.73,352.7 594.87,339.2 595.02,324.5 595.17,310.4 595.32,298.8 595.47,291.4 595.62,289.1 595.77,292.2 595.92,300.4 596.07,312.5 596.22,326.6 596.37,340.5 596.52,352.1 596.67,359.7 596.82,362.6 596.97,360.8 597.12,354.9 597.26,346.3 597.41,336.6 597.56,327.4 597.71,320.0 597.86,315.3 598.01,313.5 598.16,314.3 598.31,317.0 598.46,320.9 598.61,325.0 598.76,328.7 598.91,331.3 599.06,332.7 599.21,333.2 599.36,332.8 599.51,332.0 599.65,331.1 599.80,330.3 599.95,329.8 600.10,329.5 600.25,329.5 600.40,329.5 600.55,329.5 600.70,329.5 600.85,329.6" fill="none" stroke="#0072BD" stroke-width="1.7" stroke-linejoin="round"/></g>
<path d="M881.70,406.70v-2.2M881.70,252.40v2.2M939.00,406.70v-2.2M939.00,252.40v2.2M996.30,406.70v-2.2M996.30,252.40v2.2M824.40,406.70h2.2M996.30,406.70h-2.2M824.40,329.55h2.2M996.30,329.55h-2.2M824.40,252.40h2.2M996.30,252.40h-2.2" stroke="#262626" stroke-width="1" fill="none"/>
<path d="M824.40,251.80V407.30M996.30,251.80V407.30" stroke="#666" stroke-width="1.9" fill="none"/>
<path d="M823.40,252.40H997.30M823.40,406.70H997.30" stroke="#3a3a3a" stroke-width="1.4" fill="none"/>
<clipPath id="cB4"><rect x="823.50" y="251.70" width="173.70" height="155.70"/></clipPath>
<g clip-path="url(#cB4)"><polyline filter="url(#bo)" transform="scale(1.15,1)" points="716.87,406.7 717.12,406.7 717.37,406.7 717.62,406.7 717.87,406.7 718.12,406.7 718.36,406.7 718.61,406.7 718.86,406.7 719.11,406.7 719.36,406.7 719.61,406.7 719.86,406.7 720.11,406.7 720.36,406.7 720.61,406.7 720.86,406.7 721.10,406.7 721.35,406.7 721.60,406.7 721.85,406.7 722.10,406.7 722.35,406.7 722.60,406.7 722.85,406.7 723.10,406.7 723.35,406.7 723.60,406.7 723.85,406.7 724.09,406.7 724.34,406.7 724.59,406.7 724.84,406.7 725.09,406.7 725.34,406.7 725.59,406.7 725.84,406.7 726.09,406.7 726.34,406.7 726.59,406.7 726.83,406.7 727.08,406.7 727.33,406.7 727.58,406.7 727.83,406.7 728.08,406.7 728.33,406.7 728.58,406.7 728.83,406.7 729.08,406.7 729.33,406.7 729.58,406.7 729.82,406.7 730.07,406.7 730.32,406.7 730.57,406.7 730.82,406.7 731.07,406.7 731.32,406.7 731.57,406.7 731.82,406.7 732.07,406.7 732.32,406.7 732.56,406.7 732.81,406.7 733.06,406.7 733.31,406.7 733.56,406.7 733.81,406.7 734.06,406.7 734.31,406.7 734.56,406.7 734.81,406.7 735.06,406.7 735.31,406.7 735.55,406.7 735.80,406.7 736.05,406.7 736.30,406.7 736.55,406.7 736.80,406.7 737.05,406.7 737.30,406.7 737.55,406.7 737.80,406.7 738.05,406.7 738.29,406.7 738.54,406.7 738.79,406.7 739.04,406.7 739.29,406.7 739.54,406.2 739.79,406.0 740.04,405.9 740.29,405.8 740.54,405.8 740.79,405.9 741.04,406.0 741.28,406.2 741.53,406.4 741.78,406.6 742.03,406.7 742.28,406.5 742.53,406.2 742.78,406.0 743.03,405.8 743.28,405.7 743.53,405.7 743.78,405.8 744.02,405.9 744.27,406.1 744.52,406.3 744.77,406.5 745.02,406.7 745.27,406.5 745.52,406.3 745.77,406.0 746.02,405.8 746.27,405.7 746.52,405.6 746.77,405.6 747.01,405.7 747.26,405.9 747.51,406.2 747.76,406.4 748.01,406.6 748.26,406.6 748.51,406.3 748.76,406.1 749.01,405.8 749.26,405.6 749.51,405.5 749.75,405.5 750.00,405.6 750.25,405.7 750.50,406.0 750.75,406.3 751.00,406.5 751.25,406.7 751.50,406.4 751.75,406.1 752.00,405.8 752.25,405.6 752.50,405.4 752.74,405.3 752.99,405.4 753.24,405.5 753.49,405.8 753.74,406.1 753.99,406.4 754.24,406.7 754.49,406.5 754.74,406.2 754.99,405.9 755.24,405.6 755.48,405.3 755.73,405.2 755.98,405.2 756.23,405.3 756.48,405.6 756.73,405.9 756.98,406.2 757.23,406.6 757.48,406.6 757.73,406.3 757.98,405.9 758.23,405.6 758.47,405.3 758.72,405.1 758.97,405.0 759.22,405.1 759.47,405.3 759.72,405.6 759.97,406.0 760.22,406.4 760.47,406.7 760.72,406.4 760.97,406.0 761.21,405.6 761.46,405.2 761.71,405.0 761.96,404.9 762.21,404.9 762.46,405.1 762.71,405.4 762.96,405.8 763.21,406.2 763.46,406.6 763.71,406.5 763.96,406.1 764.20,405.6 764.45,405.2 764.70,404.9 764.95,404.7 765.20,404.7 765.45,404.8 765.70,405.1 765.95,405.5 766.20,406.0 766.45,406.4 766.70,406.7 766.94,406.2 767.19,405.7 767.44,405.2 767.69,404.8 767.94,404.5 768.19,404.4 768.44,404.5 768.69,404.8 768.94,405.2 769.19,405.7 769.44,406.2 769.69,406.7 769.93,406.4 770.18,405.9 770.43,405.3 770.68,404.8 770.93,404.4 771.18,404.2 771.43,404.2 771.68,404.4 771.93,404.8 772.18,405.3 772.43,405.9 772.67,406.5 772.92,406.6 773.17,406.0 773.42,405.4 773.67,404.7 773.92,404.2 774.17,403.9 774.42,403.8 774.67,404.0 774.92,404.3 775.17,404.9 775.42,405.5 775.66,406.2 775.91,406.7 776.16,406.2 776.41,405.5 776.66,404.7 776.91,404.1 777.16,403.6 777.41,403.4 777.66,403.4 777.91,403.7 778.16,404.2 778.40,405.0 778.65,405.8 778.90,406.5 779.15,406.4 779.40,405.6 779.65,404.6 779.90,403.7 780.15,403.0 780.40,402.6 780.65,402.4 780.90,402.6 781.15,403.2 781.39,404.0 781.64,405.0 781.89,406.1 782.14,406.6 782.39,405.6 782.64,404.3 782.89,403.0 783.14,401.8 783.39,400.8 783.64,400.3 783.89,400.3 784.13,400.8 784.38,401.9 784.63,403.4 784.88,405.0 785.13,406.5 785.38,405.6 785.63,403.5 785.88,401.0 786.13,398.5 786.38,396.4 786.63,394.8 786.88,394.2 787.12,406.6 787.37,405.5 787.62,403.1 787.87,399.6 788.12,394.7 788.37,388.8 788.62,381.9 788.87,374.3 789.12,366.2 789.37,358.0 789.62,349.7 789.86,341.9 790.11,334.7 790.36,328.5 790.61,323.4 790.86,319.6 791.11,317.2 791.36,316.4 791.61,317.2 791.86,319.6 792.11,323.4 792.36,328.5 792.61,334.7 792.85,341.9 793.10,349.7 793.35,358.0 793.60,366.2 793.85,374.3 794.10,381.9 794.35,388.8 794.60,394.7 794.85,399.6 795.10,403.1 795.35,405.5 795.59,406.6 795.84,405.8 796.09,405.8 796.34,406.0 796.59,406.1 796.84,406.3 797.09,406.5 797.34,406.7 797.59,406.5 797.84,406.4 798.09,406.3 798.34,406.2 798.58,406.2 798.83,406.2 799.08,406.2 799.33,406.3 799.58,406.4 799.83,406.5 800.08,406.6 800.33,406.7 800.58,406.6 800.83,406.5 801.08,406.5 801.32,406.4 801.57,406.4 801.82,406.4 802.07,406.4 802.32,406.5 802.57,406.5 802.82,406.6 803.07,406.6 803.32,406.7 803.57,406.6 803.82,406.6 804.07,406.6 804.31,406.6 804.56,406.5 804.81,406.5 805.06,406.6 805.31,406.6 805.56,406.6 805.81,406.6 806.06,406.7 806.31,406.7 806.56,406.7 806.81,406.7 807.05,406.7 807.30,406.7 807.55,406.7 807.80,406.7 808.05,406.7 808.30,406.7 808.55,406.7 808.80,406.7 809.05,406.7 809.30,406.7 809.55,406.7 809.80,406.7 810.04,406.7 810.29,406.7 810.54,406.7 810.79,406.7 811.04,406.7 811.29,406.7 811.54,406.7 811.79,406.7 812.04,406.7 812.29,406.7 812.54,406.7 812.78,406.7 813.03,406.7 813.28,406.7 813.53,406.7 813.78,406.7 814.03,406.7 814.28,406.7 814.53,406.7 814.78,406.7 815.03,406.7 815.28,406.7 815.53,406.7 815.77,406.7 816.02,406.7 816.27,406.7 816.52,406.7 816.77,406.7 817.02,406.7 817.27,406.7 817.52,406.7 817.77,406.7 818.02,406.7 818.27,406.7 818.51,406.7 818.76,406.7 819.01,406.7 819.26,406.7 819.51,406.7 819.76,406.7 820.01,406.7 820.26,406.7 820.51,406.7 820.76,406.7 821.01,406.7 821.26,406.7 821.50,406.7 821.75,406.7 822.00,406.7 822.25,406.7 822.50,406.7 822.75,406.7 823.00,406.7 823.25,406.7 823.50,406.7 823.75,406.7 824.00,406.7 824.24,406.7 824.49,406.7 824.74,406.7 824.99,406.7 825.24,406.7 825.49,406.7 825.74,406.7 825.99,406.7 826.24,406.7 826.49,406.7 826.74,406.7 826.99,406.7 827.23,406.7 827.48,406.7 827.73,406.7 827.98,406.7 828.23,406.7 828.48,406.7 828.73,406.7 828.98,406.7 829.23,406.7 829.48,406.7 829.73,406.7 829.97,406.7 830.22,406.7 830.47,406.7 830.72,406.7 830.97,406.7 831.22,406.7 831.47,406.7 831.72,406.7 831.97,406.7 832.22,406.7 832.47,406.7 832.72,406.7 832.96,406.7 833.21,406.7 833.46,406.7 833.71,406.7 833.96,406.7 834.21,406.7 834.46,406.7 834.71,406.7 834.96,406.7 835.21,406.7 835.46,406.7 835.70,406.7 835.95,406.7 836.20,406.7 836.45,406.7 836.70,406.7 836.95,406.7 837.20,406.7 837.45,406.7 837.70,406.7 837.95,406.7 838.20,406.7 838.45,406.7 838.69,406.7 838.94,406.7 839.19,406.7 839.44,406.7 839.69,406.7 839.94,406.7 840.19,406.7 840.44,406.7 840.69,406.7 840.94,406.7 841.19,406.7 841.43,406.7 841.68,406.7 841.93,406.7 842.18,406.7 842.43,406.7 842.68,406.7 842.93,406.7 843.18,406.7 843.43,406.7 843.68,406.7 843.93,406.7 844.18,406.7 844.42,406.7 844.67,406.7 844.92,406.7 845.17,406.7 845.42,406.7 845.67,406.7 845.92,406.7 846.17,406.7 846.42,406.7 846.67,406.7 846.92,406.7 847.16,406.7 847.41,406.7 847.66,406.7 847.91,406.7 848.16,406.7 848.41,406.7 848.66,406.7 848.91,406.7 849.16,406.7 849.41,406.7 849.66,406.7 849.91,406.7 850.15,406.7 850.40,406.7 850.65,406.7 850.90,406.7 851.15,406.7 851.40,406.7 851.65,406.7 851.90,406.7 852.15,406.7 852.40,406.7 852.65,406.7 852.89,406.7 853.14,406.7 853.39,406.7 853.64,406.7 853.89,406.7 854.14,406.7 854.39,406.7 854.64,406.7 854.89,406.7 855.14,406.7 855.39,406.7 855.64,406.7 855.88,406.7 856.13,406.7 856.38,406.7 856.63,406.7 856.88,406.7 857.13,406.7 857.38,406.7 857.63,406.7 857.88,406.7 858.13,406.7 858.38,406.7 858.62,406.7 858.87,406.7 859.12,406.7 859.37,406.7 859.62,406.7 859.87,406.7 860.12,406.7 860.37,406.7 860.62,406.7 860.87,406.7 861.12,406.7 861.37,406.7 861.61,406.7 861.86,406.7 862.11,406.7 862.36,406.7 862.61,406.7 862.86,406.7 863.11,406.7 863.36,406.7 863.61,406.7 863.86,406.7 864.11,406.7 864.35,406.7 864.60,406.7 864.85,406.7 865.10,406.7 865.35,406.7 865.60,406.7 865.85,406.7 866.10,406.7 866.35,406.7" fill="none" stroke="#EC6A38" stroke-width="1.05" stroke-linejoin="round"/></g>
<path d="M1083.10,134.20v-2.2M1083.10,47.50v2.2M1169.05,134.20v-2.2M1169.05,47.50v2.2M1255.00,134.20v-2.2M1255.00,47.50v2.2M1083.10,119.75h2.2M1255.00,119.75h-2.2M1083.10,90.85h2.2M1255.00,90.85h-2.2M1083.10,61.95h2.2M1255.00,61.95h-2.2" stroke="#262626" stroke-width="1" fill="none"/>
<path d="M1083.10,46.90V134.80M1255.00,46.90V134.80" stroke="#666" stroke-width="1.9" fill="none"/>
<path d="M1082.10,47.50H1256.00M1082.10,134.20H1256.00" stroke="#3a3a3a" stroke-width="1.4" fill="none"/>
<clipPath id="cC1"><rect x="1082.20" y="46.80" width="173.70" height="88.10"/></clipPath>
<g clip-path="url(#cC1)"><polyline filter="url(#bl)" transform="scale(1.15,1)" points="941.83,106.7 941.98,99.5 942.13,86.2 942.27,88.0 942.42,93.2 942.57,91.3 942.72,91.5 942.87,91.5 943.02,91.4 943.17,91.1 943.32,90.8 943.47,90.6 943.62,90.3 943.77,90.2 943.92,90.2 944.07,90.4 944.22,90.7 944.37,90.9 944.52,91.2 944.67,91.4 944.82,91.5 944.97,91.4 945.11,91.2 945.26,90.9 945.41,90.7 945.56,90.4 945.71,90.2 945.86,90.2 946.01,90.3 946.16,90.6 946.31,90.8 946.46,91.1 946.61,91.4 946.76,91.5 946.91,91.5 947.06,91.3 947.21,91.0 947.36,90.8 947.51,90.5 947.66,90.3 947.81,90.2 947.95,90.3 948.10,90.5 948.25,90.8 948.40,91.0 948.55,91.3 948.70,91.5 948.85,91.5 949.00,91.4 949.15,91.1 949.30,90.8 949.45,90.6 949.60,90.3 949.75,90.2 949.90,90.2 950.05,90.4 950.20,90.7 950.35,90.9 950.50,91.2 950.65,91.4 950.79,91.5 950.94,91.4 951.09,91.2 951.24,90.9 951.39,90.7 951.54,90.4 951.69,90.2 951.84,90.2 951.99,90.3 952.14,90.6 952.29,90.8 952.44,91.1 952.59,91.4 952.74,91.5 952.89,91.5 953.04,91.3 953.19,91.0 953.34,90.8 953.49,90.5 953.63,90.3 953.78,90.2 953.93,90.3 954.08,90.5 954.23,90.8 954.38,91.0 954.53,91.3 954.68,91.5 954.83,91.5 954.98,91.4 955.13,91.1 955.28,90.8 955.43,90.6 955.58,90.3 955.73,90.2 955.88,90.2 956.03,90.4 956.18,90.7 956.33,90.9 956.47,91.2 956.62,91.4 956.77,91.5 956.92,91.4 957.07,91.2 957.22,90.9 957.37,90.7 957.52,90.4 957.67,90.2 957.82,90.2 957.97,90.3 958.12,90.6 958.27,90.8 958.42,91.1 958.57,91.4 958.72,91.5 958.87,91.5 959.02,91.3 959.17,91.0 959.32,90.8 959.46,90.5 959.61,90.3 959.76,90.2 959.91,90.3 960.06,90.5 960.21,90.8 960.36,91.0 960.51,91.3 960.66,91.5 960.81,91.5 960.96,91.4 961.11,91.1 961.26,90.8 961.41,90.6 961.56,90.3 961.71,90.2 961.86,90.2 962.01,90.4 962.16,90.7 962.30,90.9 962.45,91.2 962.60,91.4 962.75,91.5 962.90,91.4 963.05,91.2 963.20,90.9 963.35,90.7 963.50,90.4 963.65,90.2 963.80,90.2 963.95,90.3 964.10,90.6 964.25,90.8 964.40,91.1 964.55,91.4 964.70,91.5 964.85,91.5 965.00,91.3 965.14,91.0 965.29,90.8 965.44,90.5 965.59,90.3 965.74,90.2 965.89,90.3 966.04,90.5 966.19,90.8 966.34,91.0 966.49,91.3 966.64,91.5 966.79,91.5 966.94,91.4 967.09,91.1 967.24,90.8 967.39,90.6 967.54,90.3 967.69,90.2 967.84,90.2 967.98,90.4 968.13,90.7 968.28,90.9 968.43,91.2 968.58,91.4 968.73,91.5 968.88,91.4 969.03,91.2 969.18,90.9 969.33,90.7 969.48,90.4 969.63,90.2 969.78,90.2 969.93,90.3 970.08,90.6 970.23,90.8 970.38,91.1 970.53,91.4 970.68,91.5 970.82,91.5 970.97,91.3 971.12,91.0 971.27,90.8 971.42,90.5 971.57,90.3 971.72,90.2 971.87,90.3 972.02,90.5 972.17,90.8 972.32,91.0 972.47,91.3 972.62,91.5 972.77,91.5 972.92,91.4 973.07,91.1 973.22,90.8 973.37,90.6 973.52,90.3 973.66,90.2 973.81,90.2 973.96,90.4 974.11,90.7 974.26,90.9 974.41,91.2 974.56,91.4 974.71,91.5 974.86,91.4 975.01,91.2 975.16,90.9 975.31,90.7 975.46,90.4 975.61,90.2 975.76,90.2 975.91,90.3 976.06,90.6 976.21,90.8 976.36,91.1 976.51,91.4 976.65,91.5 976.80,91.5 976.95,91.3 977.10,91.0 977.25,90.8 977.40,90.5 977.55,90.3 977.70,90.2 977.85,90.3 978.00,90.5 978.15,90.8 978.30,91.0 978.45,91.3 978.60,91.5 978.75,91.5 978.90,91.4 979.05,91.1 979.20,90.8 979.35,90.6 979.49,90.3 979.64,90.2 979.79,90.2 979.94,90.4 980.09,90.7 980.24,90.9 980.39,91.2 980.54,91.4 980.69,91.5 980.84,91.4 980.99,91.2 981.14,90.9 981.29,90.7 981.44,90.4 981.59,90.2 981.74,90.2 981.89,90.3 982.04,90.6 982.19,90.8 982.33,91.1 982.48,91.4 982.63,91.5 982.78,91.5 982.93,91.3 983.08,91.0 983.23,90.8 983.38,90.5 983.53,90.3 983.68,90.2 983.83,90.3 983.98,90.5 984.13,90.8 984.28,91.0 984.43,91.3 984.58,91.5 984.73,91.5 984.88,91.4 985.03,91.1 985.17,90.8 985.32,90.6 985.47,90.3 985.62,90.2 985.77,90.2 985.92,90.4 986.07,90.7 986.22,90.9 986.37,91.2 986.52,91.4 986.67,91.5 986.82,91.4 986.97,91.2 987.12,90.9 987.27,90.7 987.42,90.4 987.57,90.2 987.72,90.2 987.87,90.3 988.01,90.6 988.16,90.8 988.31,91.1 988.46,91.4 988.61,91.5 988.76,91.5 988.91,91.3 989.06,91.0 989.21,90.8 989.36,90.5 989.51,90.3 989.66,90.2 989.81,90.3 989.96,90.5 990.11,90.8 990.26,91.0 990.41,91.3 990.56,91.5 990.71,91.5 990.85,91.4 991.00,91.1 991.15,90.8 991.30,90.6 991.45,90.3 991.60,90.2 991.75,90.2 991.90,90.4 992.05,90.7 992.20,90.9 992.35,91.2 992.50,91.4 992.65,91.5 992.80,91.4 992.95,91.2 993.10,90.9 993.25,90.7 993.40,90.4 993.55,90.2 993.70,90.2 993.84,90.3 993.99,90.6 994.14,90.8 994.29,91.1 994.44,91.4 994.59,91.5 994.74,91.5 994.89,91.3 995.04,91.0 995.19,90.8 995.34,90.5 995.49,90.3 995.64,90.2 995.79,90.3 995.94,90.5 996.09,90.8 996.24,91.0 996.39,91.3 996.54,91.5 996.68,91.5 996.83,91.4 996.98,91.1 997.13,90.8 997.28,90.6 997.43,90.3 997.58,90.2 997.73,90.2 997.88,90.4 998.03,90.7 998.18,90.9 998.33,91.2 998.48,91.4 998.63,91.5 998.78,91.4 998.93,91.2 999.08,90.9 999.23,90.7 999.38,90.4 999.52,90.2 999.67,90.2 999.82,90.3 999.97,90.6 1000.12,90.8 1000.27,91.1 1000.42,91.4 1000.57,91.5 1000.72,91.5 1000.87,93.5 1001.02,95.7 1001.17,94.2 1001.32,87.8 1001.47,80.4 1001.62,77.7 1001.77,83.5 1001.92,95.8 1002.07,107.5 1002.22,110.1 1002.36,100.9 1002.51,84.2 1002.66,70.2 1002.81,67.6 1002.96,78.9 1003.11,98.6 1003.26,113.7 1003.41,116.3 1003.56,103.0 1003.71,82.9 1003.86,67.4 1004.01,65.6 1004.16,78.7 1004.31,98.5 1004.46,114.7 1004.61,116.0 1004.76,103.1 1004.91,82.9 1005.06,67.8 1005.20,65.6 1005.35,78.8 1005.50,98.8 1005.65,114.2 1005.80,116.4 1005.95,103.1 1006.10,83.1 1006.25,67.4 1006.40,65.3 1006.55,78.5 1006.70,98.7 1006.85,113.8 1007.00,116.2 1007.15,103.2 1007.30,82.9 1007.45,67.1 1007.60,66.1 1007.75,78.4 1007.90,98.5 1008.04,114.2 1008.19,115.5 1008.34,103.4 1008.49,83.2 1008.64,67.8 1008.79,65.6 1008.94,78.6 1009.09,98.6 1009.24,114.3 1009.39,116.0 1009.54,103.4 1009.69,82.8 1009.84,67.6 1009.99,65.5 1010.14,78.7 1010.29,98.8 1010.44,113.9 1010.59,115.5 1010.74,103.0 1010.89,83.2 1011.03,67.0 1011.18,65.1 1011.33,78.3 1011.48,98.7 1011.63,114.7 1011.78,116.6 1011.93,103.5 1012.08,83.2 1012.23,67.3 1012.38,65.7 1012.53,78.5 1012.68,98.6 1012.83,113.9 1012.98,116.3 1013.13,103.2 1013.28,82.9 1013.43,67.2 1013.58,65.2 1013.73,78.4 1013.87,98.7 1014.02,114.2 1014.17,116.4 1014.32,103.3 1014.47,83.2 1014.62,66.8 1014.77,64.9 1014.92,78.2 1015.07,98.5 1015.22,114.1 1015.37,115.9 1015.52,102.9 1015.67,82.9 1015.82,67.9 1015.97,65.2 1016.12,78.5 1016.27,98.6 1016.42,113.9 1016.57,116.5 1016.71,103.2 1016.86,82.8 1017.01,67.2 1017.16,66.2 1017.31,78.7 1017.46,98.6 1017.61,113.9 1017.76,115.6 1017.91,103.3 1018.06,83.2 1018.21,67.4 1018.36,65.1 1018.51,78.5 1018.66,98.6 1018.81,114.0 1018.96,115.9 1019.11,103.5 1019.26,83.1 1019.41,67.9 1019.55,65.8 1019.70,78.8 1019.85,98.7 1020.00,113.9 1020.15,116.6 1020.30,103.0 1020.45,83.0 1020.60,67.9 1020.75,65.3 1020.90,78.6 1021.05,98.5 1021.20,114.0 1021.35,116.0 1021.50,102.9 1021.65,82.9 1021.80,66.9 1021.95,65.6 1022.10,78.8 1022.25,98.6 1022.39,114.5 1022.54,116.7 1022.69,103.2 1022.84,83.0 1022.99,67.4 1023.14,65.7 1023.29,78.3 1023.44,98.5 1023.59,114.5 1023.74,116.7 1023.89,103.3 1024.04,83.2 1024.19,67.0 1024.34,65.3 1024.49,78.8 1024.64,98.7 1024.79,113.9 1024.94,116.7 1025.09,103.0 1025.23,82.9 1025.38,67.0 1025.53,65.9 1025.68,78.8 1025.83,98.5 1025.98,114.0 1026.13,115.6 1026.28,102.9 1026.43,83.0 1026.58,67.0 1026.73,66.0 1026.88,78.4 1027.03,98.8 1027.18,114.3 1027.33,116.8 1027.48,103.5 1027.63,82.9 1027.78,67.5 1027.93,65.9 1028.08,78.8 1028.22,98.5 1028.37,113.7 1028.52,116.0 1028.67,103.1 1028.82,83.1 1028.97,66.9 1029.12,65.0 1029.27,78.7 1029.42,98.8 1029.57,113.9 1029.72,116.2 1029.87,103.5 1030.02,83.0 1030.17,67.4 1030.32,65.0 1030.47,78.3 1030.62,98.8 1030.77,114.4 1030.92,115.5 1031.06,102.9 1031.21,83.4 1031.36,69.6 1031.51,69.3 1031.66,80.2 1031.81,96.7 1031.96,107.6 1032.11,107.6 1032.26,98.6 1032.41,87.4 1032.56,81.2 1032.71,82.2 1032.86,87.8 1033.01,92.3 1033.16,92.8 1033.31,90.3 1033.46,90.2 1033.61,90.2 1033.76,90.4 1033.90,90.7 1034.05,90.9 1034.20,91.2 1034.35,91.4 1034.50,91.5 1034.65,91.4 1034.80,91.2 1034.95,90.9 1035.10,90.7 1035.25,90.4 1035.40,90.2 1035.55,90.2 1035.70,90.3 1035.85,90.6 1036.00,90.8 1036.15,91.1 1036.30,91.4 1036.45,91.5 1036.60,91.5 1036.74,91.3 1036.89,91.0 1037.04,90.8 1037.19,90.5 1037.34,90.3 1037.49,90.2 1037.64,90.3 1037.79,90.5 1037.94,90.8 1038.09,91.0 1038.24,91.3 1038.39,91.5 1038.54,91.5 1038.69,91.4 1038.84,91.1 1038.99,90.9 1039.14,90.6 1039.29,90.3 1039.44,90.2 1039.58,90.2 1039.73,90.4 1039.88,90.7 1040.03,90.9 1040.18,91.2 1040.33,91.4 1040.48,91.5 1040.63,91.4 1040.78,91.2 1040.93,90.9 1041.08,90.7 1041.23,90.4 1041.38,90.2 1041.53,90.2 1041.68,90.3 1041.83,90.6 1041.98,90.8 1042.13,91.1 1042.28,91.4 1042.42,91.5 1042.57,91.5 1042.72,91.3 1042.87,91.0 1043.02,90.8 1043.17,90.5 1043.32,90.3 1043.47,90.2 1043.62,90.3 1043.77,90.5 1043.92,90.8 1044.07,91.0 1044.22,91.3 1044.37,91.5 1044.52,91.5 1044.67,91.4 1044.82,91.1 1044.97,90.9 1045.12,90.6 1045.27,90.3 1045.41,90.2 1045.56,90.2 1045.71,90.4 1045.86,90.7 1046.01,90.9 1046.16,91.2 1046.31,91.4 1046.46,91.5 1046.61,91.4 1046.76,91.2 1046.91,90.9 1047.06,90.7 1047.21,90.4 1047.36,90.2 1047.51,90.2 1047.66,90.3 1047.81,90.6 1047.96,90.8 1048.11,91.1 1048.25,91.4 1048.40,91.5 1048.55,91.5 1048.70,91.3 1048.85,91.0 1049.00,90.8 1049.15,90.5 1049.30,90.3 1049.45,90.2 1049.60,90.3 1049.75,90.5 1049.90,90.8 1050.05,91.0 1050.20,91.3 1050.35,91.5 1050.50,91.5 1050.65,91.4 1050.80,91.1 1050.95,90.8 1051.09,90.6 1051.24,90.3 1051.39,90.2 1051.54,90.2 1051.69,90.4 1051.84,90.7 1051.99,90.9 1052.14,91.2 1052.29,91.4 1052.44,91.5 1052.59,91.4 1052.74,91.2 1052.89,90.9 1053.04,90.7 1053.19,90.4 1053.34,90.2 1053.49,90.2 1053.64,90.3 1053.79,90.6 1053.93,90.8 1054.08,91.1 1054.23,91.4 1054.38,91.5 1054.53,91.5 1054.68,91.3 1054.83,91.0 1054.98,90.8 1055.13,90.5 1055.28,90.3 1055.43,90.2 1055.58,90.3 1055.73,90.5 1055.88,90.8 1056.03,91.0 1056.18,91.3 1056.33,91.5 1056.48,91.5 1056.63,91.4 1056.77,91.1 1056.92,90.8 1057.07,90.6 1057.22,90.3 1057.37,90.2 1057.52,90.2 1057.67,90.4 1057.82,90.7 1057.97,90.9 1058.12,91.2 1058.27,91.4 1058.42,91.5 1058.57,91.4 1058.72,91.2 1058.87,90.9 1059.02,90.7 1059.17,90.4 1059.32,90.2 1059.47,90.2 1059.61,90.3 1059.76,90.6 1059.91,90.8 1060.06,91.1 1060.21,91.4 1060.36,91.5 1060.51,91.5 1060.66,91.3 1060.81,91.0 1060.96,90.8 1061.11,90.5 1061.26,90.3 1061.41,90.2 1061.56,90.3 1061.71,90.5 1061.86,90.8 1062.01,91.0 1062.16,91.3 1062.31,91.5 1062.46,91.5 1062.60,91.4 1062.75,91.1 1062.90,90.8 1063.05,90.6 1063.20,90.3 1063.35,90.2 1063.50,90.2 1063.65,90.4 1063.80,90.7 1063.95,90.9 1064.10,91.2 1064.25,91.4 1064.40,91.5 1064.55,91.4 1064.70,91.2 1064.85,90.9 1065.00,90.7 1065.15,90.4 1065.30,90.2 1065.44,90.2 1065.59,90.3 1065.74,90.6 1065.89,90.8 1066.04,91.1 1066.19,91.4 1066.34,91.5 1066.49,91.5 1066.64,91.3 1066.79,91.0 1066.94,90.8 1067.09,90.5 1067.24,90.3 1067.39,90.2 1067.54,90.3 1067.69,90.5 1067.84,90.8 1067.99,91.0 1068.14,91.3 1068.28,91.5 1068.43,91.5 1068.58,91.4 1068.73,91.1 1068.88,90.8 1069.03,90.6 1069.18,90.3 1069.33,90.2 1069.48,90.2 1069.63,90.4 1069.78,90.7 1069.93,90.9 1070.08,91.2 1070.23,91.4 1070.38,91.5 1070.53,91.4 1070.68,91.2 1070.83,90.9 1070.98,90.7 1071.12,90.4 1071.27,90.2 1071.42,90.2 1071.57,90.3 1071.72,90.6 1071.87,90.8 1072.02,91.1 1072.17,91.4 1072.32,91.5 1072.47,91.5 1072.62,91.3 1072.77,91.0 1072.92,90.8 1073.07,90.5 1073.22,90.3 1073.37,90.2 1073.52,90.3 1073.67,90.5 1073.82,90.8 1073.96,91.0 1074.11,91.3 1074.26,91.5 1074.41,91.5 1074.56,91.4 1074.71,91.1 1074.86,90.9 1075.01,90.6 1075.16,90.3 1075.31,90.2 1075.46,90.2 1075.61,90.4 1075.76,90.7 1075.91,90.9 1076.06,91.2 1076.21,91.4 1076.36,91.5 1076.51,91.4 1076.66,91.2 1076.80,90.9 1076.95,90.7 1077.10,90.4 1077.25,90.2 1077.40,90.2 1077.55,90.3 1077.70,90.6 1077.85,90.8 1078.00,91.1 1078.15,91.4 1078.30,91.5 1078.45,91.5 1078.60,91.3 1078.75,91.0 1078.90,90.8 1079.05,90.5 1079.20,90.3 1079.35,90.2 1079.50,90.3 1079.65,90.5 1079.79,90.8 1079.94,91.0 1080.09,91.3 1080.24,91.5 1080.39,91.5 1080.54,91.4 1080.69,91.1 1080.84,90.9 1080.99,90.6 1081.14,90.3 1081.29,90.2 1081.44,90.2 1081.59,90.4 1081.74,90.7 1081.89,90.9 1082.04,91.2 1082.19,91.4 1082.34,91.5 1082.49,91.4 1082.63,91.2 1082.78,90.9 1082.93,90.7 1083.08,90.4 1083.23,90.2 1083.38,90.2 1083.53,90.3 1083.68,90.6 1083.83,90.8 1083.98,91.1 1084.13,91.4 1084.28,91.5 1084.43,91.5 1084.58,91.3 1084.73,91.0 1084.88,90.8 1085.03,90.5 1085.18,90.3 1085.33,90.2 1085.47,90.3 1085.62,90.5 1085.77,90.8 1085.92,91.0 1086.07,91.3 1086.22,91.5 1086.37,91.5 1086.52,91.4 1086.67,91.1 1086.82,90.9 1086.97,90.6 1087.12,90.3 1087.27,90.2 1087.42,90.2 1087.57,90.4 1087.72,90.7 1087.87,90.9 1088.02,91.2 1088.17,91.4 1088.31,91.5 1088.46,91.4 1088.61,91.2 1088.76,90.9 1088.91,90.7 1089.06,90.4 1089.21,90.2 1089.36,90.2 1089.51,90.3 1089.66,90.6 1089.81,90.8 1089.96,91.1 1090.11,91.4 1090.26,91.5 1090.41,91.5 1090.56,91.3 1090.71,87.4 1090.86,96.6 1091.01,100.1 1091.15,79.3 1091.30,72.1" fill="none" stroke="#0072BD" stroke-width="1.32" stroke-linejoin="round"/></g>
<path d="M1382.83,134.30v-2.2M1382.83,47.30v2.2M1440.07,134.30v-2.2M1440.07,47.30v2.2M1497.30,134.30v-2.2M1497.30,47.30v2.2M1325.60,134.30h2.2M1497.30,134.30h-2.2M1325.60,90.80h2.2M1497.30,90.80h-2.2M1325.60,47.30h2.2M1497.30,47.30h-2.2" stroke="#262626" stroke-width="1" fill="none"/>
<path d="M1325.60,46.70V134.90M1497.30,46.70V134.90" stroke="#666" stroke-width="1.9" fill="none"/>
<path d="M1324.60,47.30H1498.30M1324.60,134.30H1498.30" stroke="#3a3a3a" stroke-width="1.4" fill="none"/>
<clipPath id="cC4"><rect x="1324.70" y="46.60" width="173.50" height="88.40"/></clipPath>
<g clip-path="url(#cC4)"><polyline filter="url(#bo)" transform="scale(1.15,1)" points="1152.70,134.3 1152.94,134.3 1153.19,134.3 1153.44,134.3 1153.69,134.3 1153.94,134.3 1154.19,134.3 1154.44,134.3 1154.69,134.3 1154.94,134.3 1155.18,134.3 1155.43,134.3 1155.68,134.3 1155.93,134.3 1156.18,134.3 1156.43,134.3 1156.68,134.3 1156.93,134.3 1157.17,134.3 1157.42,134.3 1157.67,134.3 1157.92,134.3 1158.17,134.3 1158.42,134.3 1158.67,134.3 1158.92,134.3 1159.17,134.3 1159.41,134.3 1159.66,134.3 1159.91,134.3 1160.16,134.3 1160.41,134.3 1160.66,134.3 1160.91,134.3 1161.16,134.3 1161.41,134.3 1161.65,134.3 1161.90,134.3 1162.15,134.3 1162.40,134.3 1162.65,134.3 1162.90,134.3 1163.15,134.3 1163.40,134.3 1163.64,134.3 1163.89,134.3 1164.14,134.3 1164.39,134.3 1164.64,134.3 1164.89,134.3 1165.14,134.3 1165.39,134.3 1165.64,134.3 1165.88,134.3 1166.13,134.3 1166.38,134.3 1166.63,134.3 1166.88,134.3 1167.13,134.3 1167.38,134.3 1167.63,134.3 1167.87,134.3 1168.12,134.3 1168.37,134.3 1168.62,134.3 1168.87,134.3 1169.12,134.3 1169.37,134.3 1169.62,134.3 1169.87,134.3 1170.11,134.3 1170.36,134.3 1170.61,134.3 1170.86,134.3 1171.11,134.3 1171.36,134.3 1171.61,134.3 1171.86,134.3 1172.11,134.3 1172.35,134.3 1172.60,134.3 1172.85,134.3 1173.10,134.3 1173.35,134.3 1173.60,134.3 1173.85,134.3 1174.10,134.3 1174.34,134.3 1174.59,134.3 1174.84,134.3 1175.09,134.3 1175.34,134.3 1175.59,134.3 1175.84,134.3 1176.09,134.3 1176.34,134.3 1176.58,134.3 1176.83,134.3 1177.08,134.3 1177.33,134.3 1177.58,134.3 1177.83,134.3 1178.08,134.3 1178.33,134.3 1178.58,134.3 1178.82,134.3 1179.07,134.3 1179.32,134.3 1179.57,134.3 1179.82,134.3 1180.07,134.3 1180.32,134.3 1180.57,134.3 1180.81,134.3 1181.06,134.3 1181.31,134.3 1181.56,134.3 1181.81,134.3 1182.06,134.3 1182.31,134.3 1182.56,134.3 1182.81,134.3 1183.05,134.3 1183.30,134.3 1183.55,134.3 1183.80,134.3 1184.05,134.3 1184.30,134.3 1184.55,134.3 1184.80,134.3 1185.04,134.3 1185.29,134.3 1185.54,134.3 1185.79,134.3 1186.04,134.3 1186.29,134.3 1186.54,134.3 1186.79,134.3 1187.04,134.3 1187.28,134.3 1187.53,134.3 1187.78,134.3 1188.03,134.3 1188.28,134.3 1188.53,134.3 1188.78,134.3 1189.03,134.3 1189.28,134.3 1189.52,134.3 1189.77,134.3 1190.02,134.3 1190.27,134.3 1190.52,134.3 1190.77,134.3 1191.02,134.3 1191.27,134.3 1191.51,134.3 1191.76,134.3 1192.01,134.3 1192.26,134.3 1192.51,134.3 1192.76,134.3 1193.01,134.3 1193.26,134.3 1193.51,134.3 1193.75,134.3 1194.00,134.3 1194.25,134.3 1194.50,134.3 1194.75,134.3 1195.00,134.3 1195.25,134.3 1195.50,134.3 1195.75,134.3 1195.99,134.3 1196.24,134.3 1196.49,134.3 1196.74,134.3 1196.99,134.3 1197.24,134.3 1197.49,134.3 1197.74,134.3 1197.98,134.3 1198.23,134.3 1198.48,134.3 1198.73,134.3 1198.98,134.3 1199.23,134.3 1199.48,134.3 1199.73,134.3 1199.98,134.3 1200.22,134.3 1200.47,134.3 1200.72,134.3 1200.97,134.3 1201.22,134.3 1201.47,134.3 1201.72,134.3 1201.97,134.3 1202.21,134.3 1202.46,134.3 1202.71,134.3 1202.96,134.3 1203.21,134.3 1203.46,134.3 1203.71,134.3 1203.96,134.3 1204.21,134.3 1204.45,134.3 1204.70,134.3 1204.95,134.3 1205.20,134.3 1205.45,134.3 1205.70,134.3 1205.95,134.3 1206.20,134.3 1206.45,134.3 1206.69,134.3 1206.94,134.3 1207.19,134.3 1207.44,134.3 1207.69,134.3 1207.94,134.3 1208.19,134.3 1208.44,134.3 1208.68,134.3 1208.93,134.3 1209.18,134.3 1209.43,134.3 1209.68,134.3 1209.93,134.3 1210.18,134.3 1210.43,134.3 1210.68,134.3 1210.92,134.3 1211.17,134.3 1211.42,134.3 1211.67,134.3 1211.92,134.3 1212.17,134.3 1212.42,134.3 1212.67,134.3 1212.92,134.3 1213.16,134.3 1213.41,134.3 1213.66,134.3 1213.91,134.3 1214.16,134.3 1214.41,134.3 1214.66,134.3 1214.91,134.3 1215.15,134.3 1215.40,134.3 1215.65,134.3 1215.90,134.3 1216.15,134.3 1216.40,134.3 1216.65,134.3 1216.90,134.3 1217.15,134.3 1217.39,134.3 1217.64,134.3 1217.89,134.3 1218.14,134.3 1218.39,134.3 1218.64,134.3 1218.89,134.3 1219.14,134.3 1219.38,134.3 1219.63,134.3 1219.88,134.3 1220.13,134.3 1220.38,134.3 1220.63,134.3 1220.88,134.3 1221.13,134.3 1221.38,134.3 1221.62,134.3 1221.87,134.3 1222.12,134.3 1222.37,134.3 1222.62,134.3 1222.87,134.3 1223.12,134.3 1223.37,134.3 1223.62,134.3 1223.86,134.3 1224.11,134.3 1224.36,134.3 1224.61,134.3 1224.86,134.3 1225.11,134.3 1225.36,134.3 1225.61,134.3 1225.85,134.3 1226.10,134.3 1226.35,134.3 1226.60,134.3 1226.85,134.0 1227.10,132.7 1227.35,131.7 1227.60,132.7 1227.85,134.0 1228.09,134.3 1228.34,134.3 1228.59,134.3 1228.84,134.3 1229.09,134.3 1229.34,134.3 1229.59,134.3 1229.84,134.3 1230.09,134.3 1230.33,134.3 1230.58,134.3 1230.83,134.3 1231.08,134.3 1231.33,134.3 1231.58,134.3 1231.83,134.3 1232.08,134.3 1232.32,134.3 1232.57,134.3 1232.82,134.3 1233.07,134.3 1233.32,134.3 1233.57,134.3 1233.82,134.3 1234.07,134.3 1234.32,134.3 1234.56,134.3 1234.81,134.3 1235.06,134.3 1235.31,134.3 1235.56,134.3 1235.81,134.3 1236.06,134.3 1236.31,134.3 1236.55,134.3 1236.80,134.3 1237.05,134.3 1237.30,134.3 1237.55,134.3 1237.80,134.3 1238.05,134.3 1238.30,134.3 1238.55,134.3 1238.79,134.3 1239.04,134.3 1239.29,134.3 1239.54,134.3 1239.79,134.3 1240.04,134.3 1240.29,134.3 1240.54,134.3 1240.79,134.3 1241.03,134.3 1241.28,134.3 1241.53,134.3 1241.78,134.3 1242.03,134.3 1242.28,134.3 1242.53,134.3 1242.78,134.3 1243.02,134.3 1243.27,134.3 1243.52,134.3 1243.77,134.3 1244.02,134.3 1244.27,134.3 1244.52,134.3 1244.77,134.3 1245.02,134.3 1245.26,134.3 1245.51,134.3 1245.76,134.3 1246.01,134.3 1246.26,134.3 1246.51,134.3 1246.76,134.3 1247.01,134.3 1247.26,134.3 1247.50,134.3 1247.75,134.3 1248.00,134.3 1248.25,134.3 1248.50,134.3 1248.75,134.3 1249.00,134.3 1249.25,134.3 1249.49,134.3 1249.74,134.3 1249.99,134.3 1250.24,134.3 1250.49,134.3 1250.74,134.3 1250.99,134.2 1251.24,134.2 1251.49,134.2 1251.73,134.2 1251.98,134.3 1252.23,134.3 1252.48,134.3 1252.73,134.3 1252.98,134.2 1253.23,134.2 1253.48,134.2 1253.72,134.2 1253.97,134.2 1254.22,134.2 1254.47,134.3 1254.72,134.3 1254.97,134.3 1255.22,134.2 1255.47,134.2 1255.72,134.2 1255.96,134.2 1256.21,134.2 1256.46,134.2 1256.71,134.2 1256.96,134.3 1257.21,134.2 1257.46,134.2 1257.71,134.1 1257.96,134.1 1258.20,134.1 1258.45,134.1 1258.70,134.2 1258.95,134.2 1259.20,134.3 1259.45,134.2 1259.70,134.1 1259.95,134.1 1260.19,134.0 1260.44,134.0 1260.69,134.0 1260.94,134.1 1261.19,134.2 1261.44,134.3 1261.69,134.2 1261.94,134.1 1262.19,134.0 1262.43,133.9 1262.68,133.9 1262.93,133.9 1263.18,134.0 1263.43,134.1 1263.68,134.3 1263.93,134.1 1264.18,133.9 1264.43,133.8 1264.67,133.7 1264.92,133.7 1265.17,133.7 1265.42,133.9 1265.67,134.1 1265.92,134.3 1266.17,134.0 1266.42,133.8 1266.66,133.6 1266.91,133.4 1267.16,133.4 1267.41,133.5 1267.66,133.7 1267.91,133.9 1268.16,134.3 1268.41,133.9 1268.66,133.6 1268.90,133.3 1269.15,133.1 1269.40,133.0 1269.65,133.1 1269.90,133.4 1270.15,133.8 1270.40,134.3 1270.65,133.7 1270.89,133.2 1271.14,132.8 1271.39,132.5 1271.64,132.4 1271.89,132.6 1272.14,133.0 1272.39,133.6 1272.64,134.3 1272.89,133.5 1273.13,133.9 1273.38,132.6 1273.63,130.3 1273.88,127.0 1274.13,122.6 1274.38,117.5 1274.63,111.7 1274.88,105.4 1275.13,98.9 1275.37,92.3 1275.62,86.1 1275.87,80.3 1276.12,75.2 1276.37,71.0 1276.62,67.9 1276.87,66.0 1277.12,65.4 1277.36,66.0 1277.61,67.9 1277.86,71.0 1278.11,75.2 1278.36,80.3 1278.61,86.1 1278.86,92.3 1279.11,98.9 1279.36,105.4 1279.60,111.7 1279.85,117.5 1280.10,122.6 1280.35,127.0 1280.60,130.3 1280.85,132.6 1281.10,133.9 1281.35,133.5 1281.60,134.3 1281.84,133.6 1282.09,133.0 1282.34,132.6 1282.59,132.4 1282.84,132.5 1283.09,132.8 1283.34,133.2 1283.59,133.7 1283.83,134.3 1284.08,133.8 1284.33,133.4 1284.58,133.1 1284.83,133.0 1285.08,133.1 1285.33,133.3 1285.58,133.6 1285.83,133.9 1286.07,134.3 1286.32,133.9 1286.57,133.7 1286.82,133.5 1287.07,133.4 1287.32,133.4 1287.57,133.6 1287.82,133.8 1288.06,134.0 1288.31,134.3 1288.56,134.1 1288.81,133.9 1289.06,133.7 1289.31,133.7 1289.56,133.7 1289.81,133.8 1290.06,133.9 1290.30,134.1 1290.55,134.3 1290.80,134.1 1291.05,134.0 1291.30,133.9 1291.55,133.9 1291.80,133.9 1292.05,134.0 1292.30,134.1 1292.54,134.2 1292.79,134.3 1293.04,134.2 1293.29,134.1 1293.54,134.0 1293.79,134.0 1294.04,134.0 1294.29,134.1 1294.53,134.1 1294.78,134.2 1295.03,134.3 1295.28,134.2 1295.53,134.2 1295.78,134.1 1296.03,134.1 1296.28,134.1 1296.53,134.1 1296.77,134.2 1297.02,134.2 1297.27,134.3 1297.52,134.2 1297.77,134.2 1298.02,134.2 1298.27,134.2 1298.52,134.2 1298.77,134.2 1299.01,134.2 1299.26,134.3 1299.51,134.3 1299.76,134.3 1300.01,134.2 1300.26,134.2 1300.51,134.2 1300.76,134.2 1301.00,134.2 1301.25,134.2 1301.50,134.3 1301.75,134.3 1302.00,134.3" fill="none" stroke="#EC6A38" stroke-width="1.05" stroke-linejoin="round"/></g>
<path d="M1083.10,270.10v-2.2M1083.10,185.80v2.2M1169.05,270.10v-2.2M1169.05,185.80v2.2M1255.00,270.10v-2.2M1255.00,185.80v2.2M1083.10,256.05h2.2M1255.00,256.05h-2.2M1083.10,227.95h2.2M1255.00,227.95h-2.2M1083.10,199.85h2.2M1255.00,199.85h-2.2" stroke="#262626" stroke-width="1" fill="none"/>
<path d="M1083.10,185.20V270.70M1255.00,185.20V270.70" stroke="#666" stroke-width="1.9" fill="none"/>
<path d="M1082.10,185.80H1256.00M1082.10,270.10H1256.00" stroke="#3a3a3a" stroke-width="1.4" fill="none"/>
<clipPath id="cC2"><rect x="1082.20" y="185.10" width="173.70" height="85.70"/></clipPath>
<g clip-path="url(#cC2)"><polyline filter="url(#bl)" transform="scale(1.15,1)" points="941.83,212.3 941.98,216.9 942.13,223.9 942.27,231.4 942.42,238.1 942.57,240.6 942.72,241.6 942.87,240.7 943.02,235.3 943.17,230.4 943.32,224.9 943.47,220.0 943.62,214.7 943.77,213.4 943.92,215.1 944.07,218.8 944.22,225.8 944.37,233.9 944.52,239.9 944.67,243.9 944.82,244.0 944.97,238.8 945.11,232.1 945.26,225.1 945.41,219.2 945.56,216.0 945.71,213.5 945.86,216.2 946.01,220.4 946.16,224.6 946.31,230.6 946.46,236.0 946.61,240.0 946.76,242.3 946.91,241.1 947.06,237.2 947.21,229.7 947.36,221.7 947.51,214.7 947.66,212.8 947.81,213.0 947.95,217.2 948.10,224.3 948.25,231.5 948.40,237.7 948.55,240.6 948.70,240.9 948.85,239.2 949.00,236.0 949.15,231.1 949.30,226.0 949.45,220.9 949.60,215.7 949.75,212.9 949.90,213.7 950.05,217.5 950.20,223.8 950.35,231.7 950.50,239.0 950.65,244.4 950.79,244.4 950.94,241.2 951.09,234.8 951.24,228.1 951.39,222.0 951.54,217.6 951.69,214.9 951.84,214.3 951.99,217.6 952.14,221.3 952.29,227.1 952.44,232.9 952.59,238.8 952.74,242.3 952.89,243.0 953.04,240.0 953.19,233.2 953.34,225.5 953.49,218.5 953.63,212.7 953.78,212.9 953.93,215.7 954.08,221.7 954.23,228.6 954.38,234.3 954.53,238.6 954.68,240.2 954.83,238.7 954.98,236.9 955.13,232.5 955.28,227.6 955.43,222.3 955.58,217.2 955.73,214.7 955.88,214.9 956.03,217.5 956.18,224.1 956.33,231.7 956.47,238.7 956.62,243.1 956.77,243.7 956.92,239.6 957.07,233.8 957.22,226.4 957.37,220.2 957.52,215.5 957.67,214.2 957.82,216.1 957.97,218.8 958.12,223.8 958.27,230.0 958.42,235.9 958.57,240.4 958.72,243.4 958.87,242.4 959.02,238.3 959.17,230.4 959.32,221.5 959.46,214.1 959.61,210.8 959.76,210.5 959.91,214.9 960.06,223.1 960.21,231.3 960.36,238.1 960.51,242.7 960.66,242.6 960.81,241.7 960.96,237.3 961.11,231.7 961.26,225.5 961.41,219.9 961.56,213.7 961.71,212.5 961.86,212.4 962.01,216.7 962.16,224.2 962.30,232.5 962.45,239.3 962.60,243.7 962.75,244.7 962.90,240.5 963.05,234.3 963.20,226.6 963.35,220.1 963.50,215.5 963.65,214.5 963.80,216.8 963.95,219.3 964.10,223.8 964.25,229.5 964.40,234.3 964.55,239.9 964.70,242.3 964.85,241.3 965.00,236.2 965.14,229.8 965.29,222.1 965.44,216.4 965.59,213.4 965.74,214.0 965.89,217.8 966.04,225.4 966.19,232.2 966.34,237.1 966.49,239.4 966.64,239.9 966.79,238.5 966.94,234.2 967.09,229.2 967.24,224.6 967.39,219.9 967.54,216.3 967.69,215.3 967.84,216.8 967.98,220.0 968.13,226.6 968.28,233.6 968.43,239.6 968.58,243.0 968.73,241.3 968.88,237.5 969.03,232.0 969.18,224.9 969.33,219.2 969.48,216.0 969.63,214.7 969.78,216.6 969.93,220.5 970.08,225.1 970.23,230.1 970.38,235.2 970.53,240.1 970.68,242.0 970.82,240.8 970.97,236.8 971.12,230.1 971.27,222.5 971.42,216.2 971.57,212.7 971.72,212.0 971.87,216.2 972.02,223.5 972.17,231.0 972.32,237.3 972.47,240.4 972.62,241.4 972.77,239.1 972.92,236.9 973.07,231.4 973.22,225.8 973.37,220.7 973.52,216.0 973.66,213.0 973.81,213.6 973.96,217.7 974.11,224.4 974.26,232.4 974.41,239.3 974.56,244.1 974.71,243.7 974.86,240.1 975.01,234.0 975.16,226.7 975.31,220.5 975.46,216.2 975.61,213.9 975.76,214.9 975.91,218.2 976.06,223.6 976.21,229.1 976.36,234.9 976.51,240.7 976.65,243.0 976.80,242.6 976.95,238.5 977.10,231.0 977.25,222.4 977.40,215.6 977.55,211.6 977.70,212.1 977.85,215.6 978.00,223.1 978.15,231.0 978.30,237.5 978.45,241.1 978.60,243.5 978.75,240.4 978.90,237.2 979.05,231.3 979.20,225.2 979.35,219.3 979.49,215.2 979.64,211.8 979.79,212.8 979.94,218.5 980.09,225.3 980.24,233.6 980.39,241.2 980.54,244.7 980.69,244.2 980.84,239.6 980.99,233.3 981.14,225.4 981.29,219.0 981.44,214.1 981.59,213.5 981.74,215.1 981.89,219.0 982.04,223.8 982.19,230.5 982.33,236.9 982.48,241.4 982.63,244.6 982.78,243.6 982.93,238.3 983.08,230.9 983.23,221.6 983.38,213.5 983.53,209.8 983.68,209.5 983.83,214.4 983.98,222.1 984.13,230.4 984.28,237.6 984.43,242.5 984.58,242.8 984.73,241.2 984.88,238.0 985.03,232.8 985.17,226.8 985.32,220.0 985.47,216.1 985.62,212.8 985.77,212.6 985.92,216.9 986.07,223.6 986.22,231.9 986.37,238.8 986.52,242.6 986.67,243.4 986.82,240.8 986.97,234.5 987.12,227.3 987.27,220.7 987.42,217.3 987.57,215.4 987.72,215.9 987.87,218.8 988.01,223.2 988.16,228.8 988.31,233.8 988.46,239.3 988.61,241.7 988.76,242.4 988.91,237.5 989.06,231.1 989.21,223.0 989.36,216.7 989.51,212.9 989.66,212.3 989.81,216.1 989.96,223.5 990.11,230.6 990.26,236.4 990.41,239.9 990.56,242.3 990.71,239.1 990.85,236.6 991.00,231.2 991.15,226.0 991.30,220.0 991.45,215.7 991.60,214.5 991.75,214.8 991.90,218.5 992.05,224.9 992.20,232.5 992.35,240.0 992.50,243.7 992.65,243.7 992.80,240.1 992.95,233.2 993.10,226.1 993.25,220.5 993.40,216.1 993.55,215.3 993.70,216.0 993.84,218.6 993.99,223.7 994.14,229.6 994.29,235.4 994.44,239.8 994.59,243.3 994.74,241.5 994.89,238.0 995.04,231.2 995.19,222.9 995.34,216.3 995.49,211.2 995.64,211.1 995.79,215.6 995.94,222.8 996.09,230.3 996.24,236.9 996.39,240.6 996.54,241.6 996.68,239.7 996.83,235.9 996.98,231.6 997.13,226.0 997.28,220.4 997.43,216.1 997.58,215.0 997.73,214.0 997.88,218.7 998.03,224.9 998.18,232.5 998.33,238.6 998.48,242.0 998.63,241.9 998.78,239.2 998.93,233.0 999.08,226.0 999.23,220.1 999.38,216.3 999.52,215.7 999.67,216.5 999.82,219.9 999.97,224.3 1000.12,229.2 1000.27,235.2 1000.42,238.5 1000.57,242.1 1000.72,242.1 1000.87,238.0 1001.02,231.2 1001.17,223.2 1001.32,203.8 1001.47,222.3 1001.62,251.0 1001.77,230.8 1001.92,208.3 1002.07,228.0 1002.22,253.2 1002.36,237.3 1002.51,237.7 1002.66,236.6 1002.81,233.4 1002.96,230.6 1003.11,227.0 1003.26,223.6 1003.41,221.0 1003.56,219.4 1003.71,219.0 1003.86,222.0 1004.01,225.8 1004.16,230.4 1004.31,234.9 1004.46,236.8 1004.61,236.9 1004.76,235.4 1004.91,230.8 1005.06,226.7 1005.20,223.0 1005.35,220.1 1005.50,220.1 1005.65,220.9 1005.80,223.0 1005.95,225.5 1006.10,229.1 1006.25,232.4 1006.40,235.8 1006.55,237.6 1006.70,236.8 1006.85,234.6 1007.00,229.8 1007.15,224.5 1007.30,220.0 1007.45,217.4 1007.60,217.2 1007.75,220.0 1007.90,224.7 1008.04,230.1 1008.19,234.2 1008.34,237.2 1008.49,237.2 1008.64,236.8 1008.79,233.7 1008.94,229.9 1009.09,225.8 1009.24,221.8 1009.39,219.5 1009.54,217.3 1009.69,218.8 1009.84,221.9 1009.99,226.8 1010.14,232.4 1010.29,236.7 1010.44,239.0 1010.59,238.7 1010.74,235.6 1010.89,230.8 1011.03,225.5 1011.18,221.2 1011.33,218.5 1011.48,217.6 1011.63,219.5 1011.78,221.8 1011.93,225.6 1012.08,230.1 1012.23,234.1 1012.38,238.2 1012.53,239.9 1012.68,238.7 1012.83,235.2 1012.98,229.7 1013.13,223.4 1013.28,218.2 1013.43,215.0 1013.58,215.7 1013.73,218.8 1013.87,224.1 1014.02,229.9 1014.17,234.6 1014.32,237.6 1014.47,238.4 1014.62,237.5 1014.77,234.0 1014.92,230.5 1015.07,226.4 1015.22,222.3 1015.37,219.3 1015.52,217.9 1015.67,218.2 1015.82,221.3 1015.97,226.2 1016.12,231.6 1016.27,236.5 1016.42,238.5 1016.57,237.7 1016.71,235.4 1016.86,230.8 1017.01,226.1 1017.16,222.0 1017.31,219.5 1017.46,218.8 1017.61,220.3 1017.76,222.5 1017.91,225.9 1018.06,229.6 1018.21,233.4 1018.36,235.7 1018.51,237.1 1018.66,236.4 1018.81,234.1 1018.96,229.4 1019.11,224.2 1019.26,220.0 1019.41,217.7 1019.55,217.3 1019.70,220.2 1019.85,225.0 1020.00,230.1 1020.15,234.0 1020.30,236.5 1020.45,237.6 1020.60,235.7 1020.75,233.2 1020.90,230.0 1021.05,226.3 1021.20,222.3 1021.35,220.0 1021.50,217.8 1021.65,219.4 1021.80,221.8 1021.95,226.3 1022.10,231.5 1022.25,236.1 1022.39,237.9 1022.54,238.8 1022.69,235.9 1022.84,231.4 1022.99,226.9 1023.14,222.5 1023.29,219.6 1023.44,219.1 1023.59,219.1 1023.74,221.2 1023.89,224.1 1024.04,228.1 1024.19,231.8 1024.34,235.6 1024.49,238.7 1024.64,238.8 1024.79,235.8 1024.94,231.7 1025.09,226.0 1025.23,221.0 1025.38,217.8 1025.53,217.2 1025.68,218.9 1025.83,222.7 1025.98,227.7 1026.13,232.1 1026.28,235.0 1026.43,236.8 1026.58,236.1 1026.73,234.5 1026.88,231.8 1027.03,228.0 1027.18,224.3 1027.33,220.4 1027.48,218.5 1027.63,218.3 1027.78,220.9 1027.93,225.2 1028.08,230.3 1028.22,234.9 1028.37,238.2 1028.52,237.8 1028.67,235.4 1028.82,231.6 1028.97,226.9 1029.12,223.0 1029.27,220.3 1029.42,218.6 1029.57,219.5 1029.72,222.1 1029.87,225.0 1030.02,228.9 1030.17,233.0 1030.32,236.8 1030.47,237.8 1030.62,237.7 1030.77,235.4 1030.92,230.4 1031.06,224.7 1031.21,219.5 1031.36,215.9 1031.51,216.7 1031.66,219.4 1031.81,223.7 1031.96,229.4 1032.11,234.9 1032.26,239.3 1032.41,241.4 1032.56,240.4 1032.71,237.4 1032.86,232.0 1033.01,225.5 1033.16,219.9 1033.31,215.0 1033.46,212.6 1033.61,213.7 1033.76,218.2 1033.90,225.6 1034.05,233.5 1034.20,240.9 1034.35,245.3 1034.50,244.6 1034.65,239.9 1034.80,232.7 1034.95,225.2 1035.10,219.1 1035.25,215.1 1035.40,214.9 1035.55,214.9 1035.70,219.0 1035.85,224.2 1036.00,229.6 1036.15,235.3 1036.30,239.7 1036.45,243.6 1036.60,241.8 1036.74,238.2 1036.89,231.4 1037.04,223.3 1037.19,216.4 1037.34,213.3 1037.49,212.1 1037.64,216.6 1037.79,223.2 1037.94,229.9 1038.09,235.8 1038.24,239.4 1038.39,240.7 1038.54,238.7 1038.69,235.1 1038.84,230.9 1038.99,225.9 1039.14,221.1 1039.29,216.8 1039.44,214.8 1039.58,217.3 1039.73,220.3 1039.88,226.6 1040.03,233.2 1040.18,239.2 1040.33,242.0 1040.48,240.4 1040.63,236.5 1040.78,230.3 1040.93,224.2 1041.08,219.2 1041.23,216.9 1041.38,216.5 1041.53,217.7 1041.68,221.8 1041.83,226.3 1041.98,230.7 1042.13,235.7 1042.28,239.2 1042.42,241.9 1042.57,240.0 1042.72,236.4 1042.87,229.8 1043.02,222.5 1043.17,215.9 1043.32,212.8 1043.47,211.8 1043.62,216.7 1043.77,223.9 1043.92,231.2 1044.07,237.3 1044.22,241.3 1044.37,242.0 1044.52,240.8 1044.67,235.9 1044.82,231.0 1044.97,225.0 1045.12,219.0 1045.27,214.5 1045.41,212.2 1045.56,214.8 1045.71,218.8 1045.86,225.7 1046.01,234.1 1046.16,241.1 1046.31,243.8 1046.46,243.5 1046.61,240.5 1046.76,233.2 1046.91,225.7 1047.06,219.2 1047.21,214.9 1047.36,213.3 1047.51,215.3 1047.66,217.9 1047.81,223.1 1047.96,229.0 1048.11,234.9 1048.25,239.5 1048.40,244.0 1048.55,244.0 1048.70,239.2 1048.85,232.5 1049.00,224.2 1049.15,215.8 1049.30,211.9 1049.45,211.3 1049.60,214.4 1049.75,221.6 1049.90,229.4 1050.05,236.0 1050.20,240.7 1050.35,241.5 1050.50,240.0 1050.65,237.4 1050.80,231.5 1050.95,225.7 1051.09,220.1 1051.24,216.1 1051.39,213.5 1051.54,214.2 1051.69,219.1 1051.84,226.0 1051.99,234.5 1052.14,240.7 1052.29,244.7 1052.44,243.2 1052.59,239.9 1052.74,232.0 1052.89,224.5 1053.04,217.8 1053.19,214.3 1053.34,214.1 1053.49,216.0 1053.64,219.2 1053.79,224.4 1053.93,230.1 1054.08,235.7 1054.23,241.0 1054.38,244.5 1054.53,242.7 1054.68,239.1 1054.83,231.5 1054.98,222.9 1055.13,215.6 1055.28,210.3 1055.43,211.2 1055.58,215.4 1055.73,222.4 1055.88,229.9 1056.03,236.2 1056.18,241.5 1056.33,242.3 1056.48,241.4 1056.63,237.4 1056.77,232.1 1056.92,226.0 1057.07,220.4 1057.22,215.3 1057.37,212.1 1057.52,213.4 1057.67,217.9 1057.82,225.4 1057.97,233.6 1058.12,240.6 1058.27,244.3 1058.42,243.2 1058.57,239.6 1058.72,232.7 1058.87,225.4 1059.02,219.0 1059.17,215.5 1059.32,213.7 1059.47,215.0 1059.61,219.1 1059.76,223.9 1059.91,229.5 1060.06,235.1 1060.21,240.6 1060.36,243.1 1060.51,242.2 1060.66,238.5 1060.81,231.8 1060.96,223.9 1061.11,216.8 1061.26,211.4 1061.41,212.4 1061.56,215.0 1061.71,222.3 1061.86,229.6 1062.01,235.8 1062.16,240.8 1062.31,241.4 1062.46,241.1 1062.60,237.0 1062.75,232.0 1062.90,226.2 1063.05,220.3 1063.20,215.1 1063.35,211.8 1063.50,213.9 1063.65,217.9 1063.80,224.9 1063.95,233.1 1064.10,240.5 1064.25,244.0 1064.40,244.2 1064.55,239.6 1064.70,233.1 1064.85,225.9 1065.00,220.0 1065.15,214.9 1065.30,214.5 1065.44,216.4 1065.59,218.1 1065.74,223.4 1065.89,228.9 1066.04,234.5 1066.19,240.2 1066.34,242.1 1066.49,241.6 1066.64,238.4 1066.79,232.0 1066.94,224.4 1067.09,217.2 1067.24,212.2 1067.39,212.5 1067.54,216.5 1067.69,222.3 1067.84,229.6 1067.99,235.5 1068.14,240.5 1068.28,241.8 1068.43,239.9 1068.58,235.8 1068.73,231.6 1068.88,225.8 1069.03,220.6 1069.18,215.3 1069.33,214.6 1069.48,215.4 1069.63,218.7 1069.78,226.0 1069.93,233.8 1070.08,239.8 1070.23,244.4 1070.38,243.1 1070.53,239.2 1070.68,231.8 1070.83,224.8 1070.98,219.4 1071.12,215.5 1071.27,214.2 1071.42,216.4 1071.57,220.2 1071.72,224.5 1071.87,229.9 1072.02,234.7 1072.17,239.2 1072.32,242.6 1072.47,240.9 1072.62,238.0 1072.77,231.0 1072.92,223.7 1073.07,216.4 1073.22,211.9 1073.37,212.8 1073.52,216.5 1073.67,222.7 1073.82,230.0 1073.96,236.5 1074.11,239.3 1074.26,242.0 1074.41,240.1 1074.56,237.0 1074.71,231.8 1074.86,226.1 1075.01,220.0 1075.16,215.9 1075.31,212.9 1075.46,214.2 1075.61,217.8 1075.76,224.9 1075.91,232.7 1076.06,239.6 1076.21,243.6 1076.36,243.4 1076.51,239.7 1076.66,233.4 1076.80,226.4 1076.95,220.8 1077.10,216.5 1077.25,214.8 1077.40,216.4 1077.55,219.1 1077.70,223.0 1077.85,228.0 1078.00,233.8 1078.15,239.1 1078.30,241.8 1078.45,241.1 1078.60,238.7 1078.75,232.2 1078.90,224.8 1079.05,218.0 1079.20,213.3 1079.35,213.0 1079.50,217.1 1079.65,222.6 1079.79,229.7 1079.94,235.7 1080.09,240.3 1080.24,241.5 1080.39,240.0 1080.54,236.1 1080.69,231.2 1080.84,225.4 1080.99,219.3 1081.14,214.6 1081.29,213.3 1081.44,213.5 1081.59,219.2 1081.74,226.3 1081.89,234.5 1082.04,240.9 1082.19,245.7 1082.34,244.1 1082.49,239.6 1082.63,231.9 1082.78,224.2 1082.93,217.8 1083.08,213.8 1083.23,213.9 1083.38,215.2 1083.53,218.8 1083.68,224.4 1083.83,230.6 1083.98,236.1 1084.13,241.0 1084.28,243.0 1084.43,241.8 1084.58,237.8 1084.73,230.8 1084.88,222.6 1085.03,215.3 1085.18,210.6 1085.33,211.5 1085.47,216.3 1085.62,223.0 1085.77,230.5 1085.92,236.7 1086.07,241.7 1086.22,242.7 1086.37,241.3 1086.52,237.0 1086.67,231.2 1086.82,225.2 1086.97,219.2 1087.12,214.8 1087.27,213.7 1087.42,214.0 1087.57,218.7 1087.72,225.9 1087.87,233.4 1088.02,240.2 1088.17,243.0 1088.31,242.2 1088.46,239.1 1088.61,231.7 1088.76,225.1 1088.91,219.7 1089.06,215.9 1089.21,216.7 1089.36,217.1 1089.51,221.5 1089.66,225.2 1089.81,229.8 1089.96,234.2 1090.11,238.7 1090.26,239.5 1090.41,239.5 1090.56,236.0 1090.71,229.9 1090.86,223.3 1091.01,218.4 1091.15,214.4 1091.30,215.6" fill="none" stroke="#0072BD" stroke-width="1.32" stroke-linejoin="round"/></g>
<path d="M1382.83,270.20v-2.2M1382.83,185.80v2.2M1440.07,270.20v-2.2M1440.07,185.80v2.2M1497.30,270.20v-2.2M1497.30,185.80v2.2M1325.60,270.20h2.2M1497.30,270.20h-2.2M1325.60,228.00h2.2M1497.30,228.00h-2.2M1325.60,185.80h2.2M1497.30,185.80h-2.2" stroke="#262626" stroke-width="1" fill="none"/>
<path d="M1325.60,185.20V270.80M1497.30,185.20V270.80" stroke="#666" stroke-width="1.9" fill="none"/>
<path d="M1324.60,185.80H1498.30M1324.60,270.20H1498.30" stroke="#3a3a3a" stroke-width="1.4" fill="none"/>
<clipPath id="cC5"><rect x="1324.70" y="185.10" width="173.50" height="85.80"/></clipPath>
<g clip-path="url(#cC5)"><polyline filter="url(#bo)" transform="scale(1.15,1)" points="1152.70,270.2 1152.94,270.2 1153.19,270.2 1153.44,270.2 1153.69,270.2 1153.94,270.2 1154.19,270.2 1154.44,270.2 1154.69,270.2 1154.94,270.2 1155.18,270.2 1155.43,270.2 1155.68,270.2 1155.93,270.2 1156.18,270.2 1156.43,270.2 1156.68,270.2 1156.93,270.2 1157.17,270.2 1157.42,270.2 1157.67,270.2 1157.92,270.2 1158.17,270.2 1158.42,270.2 1158.67,270.2 1158.92,270.2 1159.17,270.2 1159.41,270.2 1159.66,270.2 1159.91,270.2 1160.16,270.2 1160.41,270.2 1160.66,270.2 1160.91,270.2 1161.16,270.2 1161.41,270.2 1161.65,270.2 1161.90,270.2 1162.15,270.2 1162.40,270.2 1162.65,270.2 1162.90,270.2 1163.15,270.2 1163.40,270.2 1163.64,270.2 1163.89,270.2 1164.14,270.2 1164.39,270.2 1164.64,270.2 1164.89,270.2 1165.14,270.2 1165.39,270.2 1165.64,270.2 1165.88,270.2 1166.13,270.2 1166.38,270.2 1166.63,270.2 1166.88,270.2 1167.13,270.2 1167.38,270.2 1167.63,270.2 1167.87,270.2 1168.12,270.2 1168.37,270.2 1168.62,270.2 1168.87,270.2 1169.12,270.2 1169.37,270.2 1169.62,270.2 1169.87,270.2 1170.11,270.2 1170.36,270.2 1170.61,270.2 1170.86,270.2 1171.11,270.2 1171.36,270.2 1171.61,270.2 1171.86,270.2 1172.11,270.2 1172.35,270.2 1172.60,270.2 1172.85,270.2 1173.10,270.2 1173.35,270.2 1173.60,270.2 1173.85,270.2 1174.10,270.2 1174.34,270.2 1174.59,270.2 1174.84,270.2 1175.09,270.2 1175.34,270.2 1175.59,270.2 1175.84,270.2 1176.09,270.2 1176.34,270.2 1176.58,270.2 1176.83,270.2 1177.08,270.2 1177.33,270.2 1177.58,270.2 1177.83,270.2 1178.08,270.2 1178.33,270.2 1178.58,270.2 1178.82,270.2 1179.07,270.2 1179.32,270.2 1179.57,270.2 1179.82,270.2 1180.07,270.2 1180.32,270.2 1180.57,270.2 1180.81,270.2 1181.06,270.2 1181.31,270.2 1181.56,270.2 1181.81,270.2 1182.06,270.2 1182.31,270.2 1182.56,270.2 1182.81,270.2 1183.05,270.2 1183.30,270.2 1183.55,270.2 1183.80,270.2 1184.05,270.2 1184.30,270.2 1184.55,270.2 1184.80,270.2 1185.04,270.2 1185.29,270.2 1185.54,270.2 1185.79,270.2 1186.04,270.2 1186.29,270.2 1186.54,270.2 1186.79,270.2 1187.04,270.2 1187.28,270.2 1187.53,270.2 1187.78,270.2 1188.03,270.2 1188.28,270.2 1188.53,270.1 1188.78,270.1 1189.03,270.1 1189.28,270.2 1189.52,270.2 1189.77,270.2 1190.02,270.2 1190.27,270.2 1190.52,270.2 1190.77,270.1 1191.02,270.1 1191.27,270.1 1191.51,270.1 1191.76,270.1 1192.01,270.2 1192.26,270.2 1192.51,270.2 1192.76,270.2 1193.01,270.1 1193.26,270.1 1193.51,270.1 1193.75,270.1 1194.00,270.1 1194.25,270.1 1194.50,270.1 1194.75,270.2 1195.00,270.2 1195.25,270.2 1195.50,270.1 1195.75,270.1 1195.99,270.1 1196.24,270.1 1196.49,270.1 1196.74,270.1 1196.99,270.1 1197.24,270.2 1197.49,270.2 1197.74,270.2 1197.98,270.1 1198.23,270.1 1198.48,270.1 1198.73,270.0 1198.98,270.0 1199.23,270.1 1199.48,270.1 1199.73,270.1 1199.98,270.2 1200.22,270.1 1200.47,270.1 1200.72,270.0 1200.97,270.0 1201.22,270.0 1201.47,270.0 1201.72,270.0 1201.97,270.1 1202.21,270.1 1202.46,270.2 1202.71,270.1 1202.96,270.1 1203.21,270.0 1203.46,270.0 1203.71,269.9 1203.96,269.9 1204.21,270.0 1204.45,270.0 1204.70,270.1 1204.95,270.2 1205.20,270.1 1205.45,270.0 1205.70,269.9 1205.95,269.9 1206.20,269.9 1206.45,269.9 1206.69,269.9 1206.94,270.0 1207.19,270.1 1207.44,270.2 1207.69,270.1 1207.94,270.0 1208.19,269.9 1208.44,269.8 1208.68,269.8 1208.93,269.8 1209.18,269.8 1209.43,269.9 1209.68,270.1 1209.93,270.2 1210.18,270.0 1210.43,269.9 1210.68,269.8 1210.92,269.7 1211.17,269.7 1211.42,269.7 1211.67,269.7 1211.92,269.9 1212.17,270.0 1212.42,270.2 1212.67,270.0 1212.92,269.8 1213.16,269.7 1213.41,269.5 1213.66,269.5 1213.91,269.5 1214.16,269.6 1214.41,269.8 1214.66,270.0 1214.91,270.2 1215.15,269.9 1215.40,269.7 1215.65,269.5 1215.90,269.4 1216.15,269.3 1216.40,269.3 1216.65,269.4 1216.90,269.6 1217.15,269.9 1217.39,270.2 1217.64,269.9 1217.89,269.6 1218.14,269.3 1218.39,269.1 1218.64,269.0 1218.89,269.1 1219.14,269.2 1219.38,269.5 1219.63,269.8 1219.88,270.2 1220.13,269.8 1220.38,269.4 1220.63,269.1 1220.88,268.8 1221.13,268.7 1221.38,268.7 1221.62,268.9 1221.87,269.3 1222.12,269.7 1222.37,270.2 1222.62,269.7 1222.87,269.3 1223.12,268.9 1223.37,268.7 1223.62,268.7 1223.86,268.7 1224.11,268.8 1224.36,268.9 1224.61,268.8 1224.86,268.4 1225.11,266.8 1225.36,264.6 1225.61,261.8 1225.85,258.6 1226.10,255.1 1226.35,251.7 1226.60,247.2 1226.85,194.6 1227.10,-174.8 1227.35,-596.3 1227.60,-172.0 1227.85,199.7 1228.09,253.9 1228.34,258.8 1228.59,261.9 1228.84,264.5 1229.09,266.5 1229.34,268.0 1229.59,269.0 1229.84,269.7 1230.09,269.7 1230.33,269.6 1230.58,269.6 1230.83,269.5 1231.08,269.5 1231.33,269.5 1231.58,269.7 1231.83,269.8 1232.08,270.0 1232.32,270.2 1232.57,270.0 1232.82,269.9 1233.07,269.7 1233.32,269.7 1233.57,269.7 1233.82,269.7 1234.07,269.8 1234.32,269.9 1234.56,270.0 1234.81,270.2 1235.06,270.1 1235.31,269.9 1235.56,269.8 1235.81,269.8 1236.06,269.8 1236.31,269.8 1236.55,269.9 1236.80,270.0 1237.05,270.1 1237.30,270.2 1237.55,270.1 1237.80,270.0 1238.05,269.9 1238.30,269.9 1238.55,269.9 1238.79,269.9 1239.04,269.9 1239.29,270.0 1239.54,270.1 1239.79,270.2 1240.04,270.1 1240.29,270.0 1240.54,270.0 1240.79,269.9 1241.03,269.9 1241.28,270.0 1241.53,270.0 1241.78,270.1 1242.03,270.1 1242.28,270.2 1242.53,270.1 1242.78,270.1 1243.02,270.0 1243.27,270.0 1243.52,270.0 1243.77,270.0 1244.02,270.0 1244.27,270.1 1244.52,270.1 1244.77,270.2 1245.02,270.1 1245.26,270.1 1245.51,270.1 1245.76,270.0 1246.01,270.0 1246.26,270.1 1246.51,270.1 1246.76,270.1 1247.01,270.2 1247.26,270.2 1247.50,270.2 1247.75,270.1 1248.00,270.1 1248.25,270.1 1248.50,270.1 1248.75,270.1 1249.00,270.1 1249.25,270.1 1249.49,270.2 1249.74,270.2 1249.99,270.2 1250.24,270.1 1250.49,270.1 1250.74,270.1 1250.99,270.1 1251.24,270.1 1251.49,270.1 1251.73,270.1 1251.98,270.2 1252.23,270.2 1252.48,270.2 1252.73,270.2 1252.98,270.1 1253.23,270.1 1253.48,270.1 1253.72,270.1 1253.97,270.1 1254.22,270.2 1254.47,270.2 1254.72,270.2 1254.97,270.2 1255.22,270.2 1255.47,270.2 1255.72,270.1 1255.96,270.1 1256.21,270.1 1256.46,270.2 1256.71,270.2 1256.96,270.2 1257.21,270.2 1257.46,270.2 1257.71,270.2 1257.96,270.2 1258.20,270.2 1258.45,270.2 1258.70,270.2 1258.95,270.2 1259.20,270.2 1259.45,270.2 1259.70,270.2 1259.95,270.2 1260.19,270.2 1260.44,270.2 1260.69,270.2 1260.94,270.2 1261.19,270.2 1261.44,270.2 1261.69,270.2 1261.94,270.2 1262.19,270.2 1262.43,270.2 1262.68,270.2 1262.93,270.2 1263.18,270.2 1263.43,270.2 1263.68,270.2 1263.93,270.2 1264.18,270.2 1264.43,270.2 1264.67,270.2 1264.92,270.2 1265.17,270.2 1265.42,270.2 1265.67,270.2 1265.92,270.2 1266.17,270.2 1266.42,270.2 1266.66,270.2 1266.91,270.2 1267.16,270.2 1267.41,270.2 1267.66,270.2 1267.91,270.2 1268.16,270.2 1268.41,270.2 1268.66,270.2 1268.90,270.2 1269.15,270.2 1269.40,270.2 1269.65,270.2 1269.90,270.2 1270.15,270.2 1270.40,270.2 1270.65,270.2 1270.89,270.2 1271.14,270.2 1271.39,270.2 1271.64,270.2 1271.89,270.2 1272.14,270.2 1272.39,270.2 1272.64,270.2 1272.89,270.2 1273.13,270.2 1273.38,270.2 1273.63,270.2 1273.88,270.2 1274.13,270.2 1274.38,270.2 1274.63,270.2 1274.88,270.2 1275.13,270.2 1275.37,270.2 1275.62,270.2 1275.87,270.2 1276.12,270.2 1276.37,270.2 1276.62,270.2 1276.87,270.2 1277.12,270.2 1277.36,270.2 1277.61,270.2 1277.86,270.2 1278.11,270.2 1278.36,270.2 1278.61,270.2 1278.86,270.2 1279.11,270.2 1279.36,270.2 1279.60,270.2 1279.85,270.2 1280.10,270.2 1280.35,270.2 1280.60,270.2 1280.85,270.2 1281.10,270.2 1281.35,270.2 1281.60,270.2 1281.84,270.2 1282.09,270.2 1282.34,270.2 1282.59,270.2 1282.84,270.2 1283.09,270.2 1283.34,270.2 1283.59,270.2 1283.83,270.2 1284.08,270.2 1284.33,270.2 1284.58,270.2 1284.83,270.2 1285.08,270.2 1285.33,270.2 1285.58,270.2 1285.83,270.2 1286.07,270.2 1286.32,270.2 1286.57,270.2 1286.82,270.2 1287.07,270.2 1287.32,270.2 1287.57,270.2 1287.82,270.2 1288.06,270.2 1288.31,270.2 1288.56,270.2 1288.81,270.2 1289.06,270.2 1289.31,270.2 1289.56,270.2 1289.81,270.2 1290.06,270.2 1290.30,270.2 1290.55,270.2 1290.80,270.2 1291.05,270.2 1291.30,270.2 1291.55,270.2 1291.80,270.2 1292.05,270.2 1292.30,270.2 1292.54,270.2 1292.79,270.2 1293.04,270.2 1293.29,270.2 1293.54,270.2 1293.79,270.2 1294.04,270.2 1294.29,270.2 1294.53,270.2 1294.78,270.2 1295.03,270.2 1295.28,270.2 1295.53,270.2 1295.78,270.2 1296.03,270.2 1296.28,270.2 1296.53,270.2 1296.77,270.2 1297.02,270.2 1297.27,270.2 1297.52,270.2 1297.77,270.2 1298.02,270.2 1298.27,270.2 1298.52,270.2 1298.77,270.2 1299.01,270.2 1299.26,270.2 1299.51,270.2 1299.76,270.2 1300.01,270.2 1300.26,270.2 1300.51,270.2 1300.76,270.2 1301.00,270.2 1301.25,270.2 1301.50,270.2 1301.75,270.2 1302.00,270.2" fill="none" stroke="#EC6A38" stroke-width="1.05" stroke-linejoin="round"/></g>
<path d="M1083.10,408.20v-2.2M1083.10,324.00v2.2M1169.05,408.20v-2.2M1169.05,324.00v2.2M1255.00,408.20v-2.2M1255.00,324.00v2.2M1083.10,394.17h2.2M1255.00,394.17h-2.2M1083.10,366.10h2.2M1255.00,366.10h-2.2M1083.10,338.03h2.2M1255.00,338.03h-2.2" stroke="#262626" stroke-width="1" fill="none"/>
<path d="M1083.10,323.40V408.80M1255.00,323.40V408.80" stroke="#666" stroke-width="1.9" fill="none"/>
<path d="M1082.10,324.00H1256.00M1082.10,408.20H1256.00" stroke="#3a3a3a" stroke-width="1.4" fill="none"/>
<clipPath id="cC3"><rect x="1082.20" y="323.30" width="173.70" height="85.60"/></clipPath>
<g clip-path="url(#cC3)"><polyline filter="url(#bl)" transform="scale(1.15,1)" points="941.83,352.1 941.98,373.9 942.13,376.2 942.27,376.5 942.42,374.6 942.57,370.1 942.72,364.4 942.87,359.2 943.02,355.5 943.17,355.1 943.32,357.5 943.47,361.0 943.62,366.1 943.77,370.1 943.92,373.4 944.07,374.7 944.22,375.1 944.37,373.1 944.52,370.3 944.67,366.7 944.82,362.4 944.97,358.9 945.11,355.8 945.26,355.3 945.41,358.0 945.56,362.6 945.71,368.8 945.86,373.6 946.01,377.7 946.16,378.2 946.31,374.5 946.46,370.3 946.61,365.3 946.76,361.0 946.91,358.2 947.06,356.2 947.21,357.2 947.36,358.4 947.51,362.2 947.66,366.2 947.81,371.2 947.95,375.5 948.10,378.1 948.25,377.2 948.40,374.5 948.55,369.3 948.70,362.9 948.85,357.3 949.00,354.0 949.15,354.3 949.30,356.8 949.45,361.3 949.60,367.0 949.75,372.0 949.90,375.7 950.05,376.2 950.20,375.8 950.35,374.3 950.50,370.3 950.65,366.0 950.79,361.1 950.94,356.9 951.09,354.9 951.24,354.7 951.39,356.9 951.54,362.7 951.69,369.2 951.84,374.6 951.99,378.1 952.14,379.0 952.29,376.3 952.44,370.7 952.59,365.5 952.74,360.5 952.89,358.1 953.04,356.4 953.19,356.6 953.34,358.5 953.49,361.9 953.63,366.1 953.78,371.1 953.93,375.2 954.08,377.6 954.23,377.3 954.38,374.5 954.53,369.2 954.68,363.2 954.83,357.8 954.98,354.3 955.13,354.1 955.28,356.6 955.43,361.8 955.58,367.2 955.73,371.9 955.88,375.0 956.03,376.4 956.18,375.2 956.33,373.2 956.47,370.0 956.62,365.5 956.77,360.6 956.92,356.5 957.07,354.2 957.22,354.2 957.37,358.3 957.52,363.4 957.67,370.0 957.82,375.4 957.97,378.8 958.12,379.1 958.27,375.7 958.42,370.5 958.57,364.8 958.72,360.2 958.87,356.6 959.02,354.6 959.17,356.1 959.32,358.6 959.46,361.7 959.61,366.6 959.76,371.4 959.91,376.1 960.06,379.3 960.21,378.2 960.36,375.4 960.51,369.6 960.66,362.8 960.81,356.1 960.96,352.7 961.11,353.3 961.26,355.3 961.41,360.5 961.56,366.6 961.71,371.8 961.86,375.6 962.01,377.0 962.16,376.1 962.30,374.8 962.45,370.8 962.60,366.3 962.75,361.3 962.90,356.1 963.05,353.3 963.20,353.5 963.35,356.9 963.50,362.4 963.65,369.1 963.80,374.4 963.95,378.2 964.10,378.7 964.25,375.6 964.40,370.6 964.55,365.4 964.70,360.6 964.85,357.2 965.00,356.3 965.14,356.3 965.29,358.7 965.44,362.5 965.59,366.4 965.74,371.4 965.89,375.0 966.04,376.6 966.19,376.4 966.34,373.9 966.49,368.5 966.64,362.5 966.79,357.1 966.94,353.8 967.09,355.0 967.24,358.1 967.39,362.9 967.54,368.2 967.69,372.3 967.84,375.6 967.98,376.7 968.13,374.7 968.28,372.7 968.43,368.6 968.58,364.5 968.73,360.0 968.88,356.8 969.03,355.2 969.18,355.6 969.33,358.6 969.48,364.5 969.63,371.1 969.78,376.1 969.93,379.3 970.08,379.1 970.23,375.3 970.38,369.7 970.53,363.7 970.68,358.5 970.82,355.4 970.97,354.6 971.12,356.4 971.27,358.3 971.42,363.0 971.57,367.5 971.72,372.7 971.87,376.5 972.02,378.6 972.17,378.0 972.32,374.9 972.47,368.6 972.62,361.9 972.77,355.4 972.92,351.8 973.07,352.8 973.22,356.3 973.37,361.5 973.52,367.5 973.66,373.1 973.81,375.7 973.96,377.8 974.11,376.9 974.26,374.0 974.41,370.3 974.56,365.4 974.71,359.9 974.86,356.4 975.01,353.6 975.16,353.3 975.31,357.4 975.46,363.3 975.61,370.0 975.76,375.7 975.91,379.5 976.06,378.2 976.21,375.6 976.36,370.5 976.51,364.4 976.65,359.7 976.80,356.7 976.95,355.5 977.10,356.2 977.25,359.4 977.40,363.2 977.55,367.8 977.70,372.6 977.85,375.7 978.00,377.6 978.15,376.6 978.30,373.5 978.45,367.4 978.60,361.0 978.75,356.1 978.90,352.9 979.05,354.0 979.20,357.8 979.35,363.5 979.49,369.3 979.64,373.8 979.79,376.0 979.94,376.5 980.09,374.7 980.24,372.0 980.39,368.2 980.54,363.5 980.69,358.9 980.84,355.3 980.99,354.9 981.14,355.6 981.29,359.4 981.44,365.1 981.59,371.4 981.74,376.7 981.89,379.0 982.04,378.2 982.19,374.3 982.33,369.3 982.48,363.6 982.63,359.2 982.78,356.7 982.93,355.3 983.08,357.4 983.23,359.6 983.38,362.7 983.53,366.9 983.68,371.2 983.83,375.5 983.98,377.8 984.13,376.6 984.28,374.1 984.43,369.4 984.58,363.1 984.73,358.4 984.88,355.0 985.03,354.6 985.17,356.4 985.32,361.3 985.47,366.0 985.62,370.2 985.77,373.0 985.92,374.6 986.07,374.8 986.22,373.3 986.37,371.2 986.52,367.7 986.67,363.8 986.82,359.6 986.97,356.3 987.12,355.1 987.27,357.0 987.42,361.4 987.57,366.8 987.72,372.1 987.87,375.8 988.01,376.4 988.16,374.5 988.31,371.6 988.46,367.0 988.61,363.1 988.76,359.6 988.91,357.9 989.06,357.3 989.21,358.4 989.36,361.1 989.51,364.6 989.66,368.6 989.81,372.9 989.96,375.6 990.11,376.9 990.26,374.2 990.41,370.0 990.56,364.1 990.71,359.1 990.85,355.5 991.00,355.3 991.15,356.8 991.30,361.7 991.45,366.6 991.60,371.5 991.75,375.0 991.90,376.0 992.05,375.5 992.20,374.0 992.35,370.5 992.50,365.8 992.65,360.6 992.80,355.9 992.95,353.4 993.10,353.5 993.25,357.2 993.40,363.1 993.55,369.9 993.70,376.1 993.84,379.7 993.99,380.0 994.14,376.0 994.29,370.8 994.44,364.8 994.59,359.4 994.74,355.5 994.89,354.4 995.04,355.5 995.19,358.0 995.34,361.8 995.49,367.0 995.64,372.1 995.79,377.2 995.94,379.8 996.09,379.1 996.24,375.3 996.39,369.2 996.54,362.1 996.68,356.1 996.83,351.8 996.98,353.0 997.13,356.3 997.28,360.9 997.43,367.3 997.58,372.5 997.73,375.5 997.88,377.7 998.03,376.4 998.18,374.0 998.33,370.0 998.48,365.5 998.63,360.5 998.78,356.3 998.93,354.5 999.08,354.4 999.23,358.2 999.38,363.4 999.52,369.9 999.67,375.3 999.82,378.9 999.97,377.7 1000.12,374.7 1000.27,370.1 1000.42,364.5 1000.57,359.8 1000.72,356.9 1000.87,356.4 1001.02,357.0 1001.17,359.6 1001.32,362.7 1001.47,367.0 1001.62,371.4 1001.77,376.0 1001.92,378.4 1002.07,377.9 1002.22,374.3 1002.36,368.7 1002.51,361.7 1002.66,356.3 1002.81,352.7 1002.96,353.0 1003.11,356.4 1003.26,361.8 1003.41,367.9 1003.56,372.8 1003.71,376.0 1003.86,378.4 1004.01,377.3 1004.16,374.7 1004.31,370.6 1004.46,365.5 1004.61,360.1 1004.76,355.0 1004.91,351.0 1005.06,351.2 1005.20,355.2 1005.35,361.8 1005.50,370.1 1005.65,377.6 1005.80,381.3 1005.95,383.0 1006.10,379.2 1006.25,373.3 1006.40,366.0 1006.55,359.4 1006.70,353.7 1006.85,352.3 1007.00,351.5 1007.15,354.4 1007.30,358.4 1007.45,365.0 1007.60,371.6 1007.75,379.1 1007.90,382.5 1008.04,383.8 1008.19,379.7 1008.34,372.8 1008.49,363.6 1008.64,354.6 1008.79,348.4 1008.94,348.6 1009.09,351.3 1009.24,357.4 1009.39,365.3 1009.54,372.8 1009.69,377.9 1009.84,380.3 1009.99,380.5 1010.14,377.7 1010.29,373.9 1010.44,367.4 1010.59,359.7 1010.74,353.2 1010.89,350.2 1011.03,348.5 1011.18,352.6 1011.33,360.6 1011.48,370.1 1011.63,377.9 1011.78,384.0 1011.93,384.7 1012.08,379.9 1012.23,372.7 1012.38,364.4 1012.53,357.1 1012.68,353.0 1012.83,351.3 1012.98,352.1 1013.13,356.4 1013.28,361.6 1013.43,367.8 1013.58,375.0 1013.73,379.3 1013.87,382.5 1014.02,382.3 1014.17,376.7 1014.32,368.7 1014.47,358.9 1014.62,351.8 1014.77,347.9 1014.92,347.6 1015.07,353.8 1015.22,361.1 1015.37,370.1 1015.52,376.9 1015.67,381.9 1015.82,383.4 1015.97,380.2 1016.12,375.6 1016.27,370.0 1016.42,363.2 1016.57,355.5 1016.71,349.8 1016.86,347.8 1017.01,348.3 1017.16,354.6 1017.31,363.1 1017.46,373.1 1017.61,382.2 1017.76,386.5 1017.91,386.1 1018.06,380.2 1018.21,372.3 1018.36,363.5 1018.51,356.0 1018.66,350.0 1018.81,349.3 1018.96,351.0 1019.11,354.4 1019.26,360.0 1019.41,367.3 1019.55,375.0 1019.70,380.4 1019.85,385.8 1020.00,385.1 1020.15,379.4 1020.30,371.2 1020.45,361.4 1020.60,352.6 1020.75,347.6 1020.90,346.5 1021.05,351.8 1021.20,358.9 1021.35,367.1 1021.50,374.0 1021.65,378.8 1021.80,381.9 1021.95,380.2 1022.10,377.7 1022.25,372.9 1022.39,365.9 1022.54,359.2 1022.69,353.0 1022.84,348.0 1022.99,349.0 1023.14,354.2 1023.29,361.8 1023.44,371.2 1023.59,378.6 1023.74,383.8 1023.89,382.7 1024.04,379.0 1024.19,372.2 1024.34,363.7 1024.49,357.3 1024.64,352.7 1024.79,352.1 1024.94,352.5 1025.09,357.2 1025.23,361.9 1025.38,368.2 1025.53,374.3 1025.68,378.9 1025.83,382.3 1025.98,382.4 1026.13,377.1 1026.28,368.4 1026.43,358.8 1026.58,352.3 1026.73,347.4 1026.88,349.3 1027.03,353.6 1027.18,362.0 1027.33,370.3 1027.48,376.4 1027.63,380.3 1027.78,381.4 1027.93,380.3 1028.08,375.8 1028.22,369.6 1028.37,362.9 1028.52,357.2 1028.67,351.5 1028.82,348.3 1028.97,351.1 1029.12,355.8 1029.27,364.0 1029.42,373.1 1029.57,380.6 1029.72,385.1 1029.87,383.8 1030.02,379.3 1030.17,370.8 1030.32,362.5 1030.47,356.2 1030.62,351.7 1030.77,350.1 1030.92,352.8 1031.06,356.8 1031.21,361.5 1031.36,368.2 1031.51,374.4 1031.66,379.9 1031.81,380.6 1031.96,379.0 1032.11,375.2 1032.26,368.4 1032.41,362.0 1032.56,356.5 1032.71,353.8 1032.86,353.8 1033.01,357.2 1033.16,362.8 1033.31,367.9 1033.46,372.2 1033.61,375.6 1033.76,375.6 1033.90,375.7 1034.05,373.0 1034.20,369.2 1034.35,365.2 1034.50,360.5 1034.65,356.4 1034.80,355.5 1034.95,354.8 1035.10,358.1 1035.25,363.9 1035.40,370.1 1035.55,375.7 1035.70,377.9 1035.85,377.7 1036.00,374.8 1036.15,369.8 1036.30,364.1 1036.45,359.6 1036.60,356.4 1036.74,356.1 1036.89,356.8 1037.04,359.5 1037.19,362.9 1037.34,367.6 1037.49,372.4 1037.64,376.6 1037.79,377.8 1037.94,377.5 1038.09,373.8 1038.24,368.2 1038.39,361.6 1038.54,355.8 1038.69,353.2 1038.84,353.3 1038.99,356.5 1039.14,362.2 1039.29,368.1 1039.44,373.0 1039.58,376.3 1039.73,377.4 1039.88,376.1 1040.03,373.5 1040.18,369.9 1040.33,364.9 1040.48,360.1 1040.63,356.0 1040.78,353.9 1040.93,353.9 1041.08,357.6 1041.23,363.3 1041.38,370.1 1041.53,376.4 1041.68,379.6 1041.83,379.8 1041.98,376.1 1042.13,370.4 1042.28,364.8 1042.42,360.1 1042.57,356.4 1042.72,354.7 1042.87,356.6 1043.02,358.6 1043.17,362.0 1043.32,366.7 1043.47,371.2 1043.62,375.0 1043.77,377.7 1043.92,377.4 1044.07,373.8 1044.22,368.8 1044.37,362.8 1044.52,356.9 1044.67,354.7 1044.82,354.7 1044.97,357.0 1045.12,362.4 1045.27,367.5 1045.41,371.6 1045.56,374.5 1045.71,374.8 1045.86,374.0 1046.01,372.3 1046.16,369.1 1046.31,365.2 1046.46,361.5 1046.61,358.0 1046.76,356.4 1046.91,356.1 1047.06,359.6 1047.21,364.3 1047.36,370.0 1047.51,374.6 1047.66,377.7 1047.81,377.5 1047.96,373.2 1048.11,368.8 1048.25,363.6 1048.40,359.5 1048.55,356.8 1048.70,356.2 1048.85,358.3 1049.00,360.9 1049.15,364.1 1049.30,368.0 1049.45,371.7 1049.60,375.1 1049.75,377.2 1049.90,376.5 1050.05,372.3 1050.20,367.2 1050.35,361.1 1050.50,356.1 1050.65,354.2 1050.80,353.8 1050.95,358.3 1051.09,363.5 1051.24,368.9 1051.39,373.3 1051.54,376.1 1051.69,376.0 1051.84,375.7 1051.99,372.0 1052.14,368.5 1052.29,364.0 1052.44,359.3 1052.59,355.8 1052.74,354.8 1052.89,354.4 1053.04,358.7 1053.19,364.5 1053.34,370.8 1053.49,376.0 1053.64,378.8 1053.79,378.9 1053.93,375.4 1054.08,369.7 1054.23,363.8 1054.38,359.3 1054.53,355.8 1054.68,355.9 1054.83,356.0 1054.98,358.8 1055.13,362.7 1055.28,367.5 1055.43,372.2 1055.58,376.7 1055.73,378.7 1055.88,378.2 1056.03,374.5 1056.18,368.3 1056.33,361.8 1056.48,356.5 1056.63,352.5 1056.77,352.8 1056.92,357.2 1057.07,361.9 1057.22,367.8 1057.37,372.8 1057.52,375.4 1057.67,376.2 1057.82,376.6 1057.97,373.9 1058.12,369.7 1058.27,365.1 1058.42,360.2 1058.57,355.9 1058.72,353.7 1058.87,353.8 1059.02,357.3 1059.17,363.3 1059.32,369.8 1059.47,376.1 1059.61,378.9 1059.76,378.8 1059.91,375.6 1060.06,370.9 1060.21,365.0 1060.36,360.1 1060.51,356.2 1060.66,354.4 1060.81,356.0 1060.96,357.8 1061.11,361.8 1061.26,366.5 1061.41,371.8 1061.56,375.6 1061.71,378.6 1061.86,379.0 1062.01,375.2 1062.16,369.8 1062.31,362.7 1062.46,356.7 1062.60,352.5 1062.75,352.2 1062.90,355.6 1063.05,360.9 1063.20,366.6 1063.35,372.1 1063.50,376.2 1063.65,378.3 1063.80,377.4 1063.95,375.3 1064.10,371.3 1064.25,366.0 1064.40,360.1 1064.55,355.1 1064.70,353.0 1064.85,352.3 1065.00,356.7 1065.15,362.3 1065.30,369.7 1065.44,376.5 1065.59,379.6 1065.74,379.9 1065.89,377.2 1066.04,371.3 1066.19,365.2 1066.34,359.4 1066.49,355.7 1066.64,353.2 1066.79,355.3 1066.94,357.7 1067.09,361.6 1067.24,367.1 1067.39,373.0 1067.54,377.0 1067.69,379.8 1067.84,379.3 1067.99,374.9 1068.14,368.7 1068.28,361.2 1068.43,355.1 1068.58,352.2 1068.73,351.4 1068.88,355.6 1069.03,362.1 1069.18,368.5 1069.33,374.3 1069.48,377.1 1069.63,379.3 1069.78,377.6 1069.93,373.6 1070.08,369.0 1070.23,363.7 1070.38,358.3 1070.53,354.7 1070.68,352.4 1070.83,353.7 1070.98,358.0 1071.12,364.9 1071.27,372.2 1071.42,377.5 1071.57,380.3 1071.72,380.2 1071.87,376.1 1072.02,369.2 1072.17,362.8 1072.32,357.3 1072.47,354.8 1072.62,353.7 1072.77,356.2 1072.92,359.5 1073.07,363.6 1073.22,369.0 1073.37,373.7 1073.52,376.9 1073.67,379.6 1073.82,378.1 1073.96,373.3 1074.11,367.3 1074.26,360.3 1074.41,355.1 1074.56,351.9 1074.71,353.1 1074.86,357.4 1075.01,362.9 1075.16,368.9 1075.31,373.5 1075.46,376.4 1075.61,376.5 1075.76,376.4 1075.91,373.3 1076.06,368.8 1076.21,364.3 1076.36,359.4 1076.51,355.8 1076.66,354.4 1076.80,354.8 1076.95,358.8 1077.10,364.2 1077.25,370.5 1077.40,376.1 1077.55,378.7 1077.70,378.2 1077.85,375.4 1078.00,369.7 1078.15,364.2 1078.30,359.7 1078.45,356.7 1078.60,355.3 1078.75,355.9 1078.90,359.2 1079.05,362.8 1079.20,367.1 1079.35,372.2 1079.50,376.3 1079.65,377.6 1079.79,377.8 1079.94,374.2 1080.09,368.7 1080.24,362.2 1080.39,356.7 1080.54,352.5 1080.69,353.6 1080.84,356.4 1080.99,361.8 1081.14,367.6 1081.29,372.9 1081.44,376.1 1081.59,377.4 1081.74,376.7 1081.89,374.3 1082.04,370.0 1082.19,365.0 1082.34,360.2 1082.49,355.2 1082.63,353.0 1082.78,353.5 1082.93,357.1 1083.08,363.3 1083.23,370.3 1083.38,376.9 1083.53,380.0 1083.68,380.4 1083.83,377.0 1083.98,370.6 1084.13,364.5 1084.28,359.0 1084.43,355.0 1084.58,354.4 1084.73,354.8 1084.88,357.6 1085.03,362.3 1085.18,367.4 1085.33,372.6 1085.47,377.0 1085.62,379.2 1085.77,379.4 1085.92,375.1 1086.07,368.6 1086.22,361.5 1086.37,355.7 1086.52,351.5 1086.67,352.2 1086.82,355.7 1086.97,362.0 1087.12,368.2 1087.27,373.3 1087.42,376.8 1087.57,378.3 1087.72,377.2 1087.87,373.9 1088.02,369.4 1088.17,364.3 1088.31,359.2 1088.46,355.5 1088.61,353.0 1088.76,355.0 1088.91,358.3 1089.06,364.5 1089.21,371.2 1089.36,377.0 1089.51,379.9 1089.66,379.3 1089.81,375.1 1089.96,369.5 1090.11,363.4 1090.26,358.5 1090.41,350.7 1090.56,355.3 1090.71,382.9 1090.86,360.5 1091.01,345.9 1091.15,374.5 1091.30,390.0" fill="none" stroke="#0072BD" stroke-width="1.32" stroke-linejoin="round"/></g>
<path d="M1382.83,408.30v-2.2M1382.83,324.00v2.2M1440.07,408.30v-2.2M1440.07,324.00v2.2M1497.30,408.30v-2.2M1497.30,324.00v2.2M1325.60,408.30h2.2M1497.30,408.30h-2.2M1325.60,366.15h2.2M1497.30,366.15h-2.2M1325.60,324.00h2.2M1497.30,324.00h-2.2" stroke="#262626" stroke-width="1" fill="none"/>
<path d="M1325.60,323.40V408.90M1497.30,323.40V408.90" stroke="#666" stroke-width="1.9" fill="none"/>
<path d="M1324.60,324.00H1498.30M1324.60,408.30H1498.30" stroke="#3a3a3a" stroke-width="1.4" fill="none"/>
<clipPath id="cC6"><rect x="1324.70" y="323.30" width="173.50" height="85.70"/></clipPath>
<g clip-path="url(#cC6)"><polyline filter="url(#bo)" transform="scale(1.15,1)" points="1152.70,408.3 1152.94,408.3 1153.19,408.3 1153.44,408.3 1153.69,408.3 1153.94,408.3 1154.19,408.3 1154.44,408.3 1154.69,408.3 1154.94,408.3 1155.18,408.3 1155.43,408.3 1155.68,408.3 1155.93,408.3 1156.18,408.3 1156.43,408.3 1156.68,408.3 1156.93,408.3 1157.17,408.3 1157.42,408.3 1157.67,408.3 1157.92,408.3 1158.17,408.3 1158.42,408.3 1158.67,408.3 1158.92,408.3 1159.17,408.3 1159.41,408.3 1159.66,408.3 1159.91,408.3 1160.16,408.3 1160.41,408.3 1160.66,408.3 1160.91,408.3 1161.16,408.3 1161.41,408.3 1161.65,408.3 1161.90,408.3 1162.15,408.3 1162.40,408.3 1162.65,408.3 1162.90,408.3 1163.15,408.3 1163.40,408.3 1163.64,408.3 1163.89,408.3 1164.14,408.3 1164.39,408.3 1164.64,408.3 1164.89,408.3 1165.14,408.3 1165.39,408.3 1165.64,408.3 1165.88,408.3 1166.13,408.3 1166.38,408.3 1166.63,408.3 1166.88,408.3 1167.13,408.3 1167.38,408.3 1167.63,408.3 1167.87,408.3 1168.12,408.3 1168.37,408.3 1168.62,408.2 1168.87,408.2 1169.12,408.2 1169.37,408.2 1169.62,408.2 1169.87,408.2 1170.11,408.2 1170.36,408.2 1170.61,408.1 1170.86,408.1 1171.11,408.1 1171.36,408.1 1171.61,408.0 1171.86,408.0 1172.11,408.0 1172.35,407.9 1172.60,407.9 1172.85,407.9 1173.10,407.8 1173.35,407.8 1173.60,407.7 1173.85,407.7 1174.10,407.6 1174.34,407.6 1174.59,407.6 1174.84,407.5 1175.09,407.5 1175.34,407.4 1175.59,407.4 1175.84,407.3 1176.09,407.3 1176.34,407.3 1176.58,407.3 1176.83,407.3 1177.08,407.2 1177.33,407.2 1177.58,407.2 1177.83,407.2 1178.08,407.2 1178.33,407.3 1178.58,407.3 1178.82,407.3 1179.07,407.3 1179.32,407.3 1179.57,407.4 1179.82,407.4 1180.07,407.5 1180.32,407.5 1180.57,407.5 1180.81,407.6 1181.06,407.6 1181.31,407.7 1181.56,407.7 1181.81,407.8 1182.06,407.8 1182.31,407.9 1182.56,407.9 1182.81,407.9 1183.05,407.9 1183.30,408.0 1183.55,408.0 1183.80,408.1 1184.05,408.1 1184.30,408.1 1184.55,408.1 1184.80,408.1 1185.04,408.1 1185.29,408.2 1185.54,408.2 1185.79,408.2 1186.04,408.2 1186.29,408.2 1186.54,408.2 1186.79,408.2 1187.04,408.2 1187.28,408.2 1187.53,408.3 1187.78,408.3 1188.03,408.2 1188.28,408.2 1188.53,408.2 1188.78,408.2 1189.03,408.2 1189.28,408.3 1189.52,408.3 1189.77,408.3 1190.02,408.2 1190.27,408.2 1190.52,408.2 1190.77,408.2 1191.02,408.2 1191.27,408.3 1191.51,408.3 1191.76,408.2 1192.01,408.2 1192.26,408.2 1192.51,408.2 1192.76,408.2 1193.01,408.3 1193.26,408.3 1193.51,408.2 1193.75,408.2 1194.00,408.2 1194.25,408.2 1194.50,408.2 1194.75,408.2 1195.00,408.3 1195.25,408.2 1195.50,408.2 1195.75,408.1 1195.99,408.1 1196.24,408.1 1196.49,408.2 1196.74,408.3 1196.99,408.3 1197.24,408.2 1197.49,408.1 1197.74,408.1 1197.98,408.1 1198.23,408.1 1198.48,408.2 1198.73,408.3 1198.98,408.2 1199.23,408.1 1199.48,408.1 1199.73,408.0 1199.98,408.1 1200.22,408.1 1200.47,408.3 1200.72,408.2 1200.97,408.1 1201.22,408.0 1201.47,408.0 1201.72,408.0 1201.97,408.1 1202.21,408.2 1202.46,408.3 1202.71,408.1 1202.96,408.0 1203.21,407.9 1203.46,407.9 1203.71,408.0 1203.96,408.1 1204.21,408.3 1204.45,408.2 1204.70,408.0 1204.95,407.9 1205.20,407.8 1205.45,407.9 1205.70,408.0 1205.95,408.2 1206.20,408.2 1206.45,408.0 1206.69,407.9 1206.94,407.8 1207.19,407.8 1207.44,407.9 1207.69,408.1 1207.94,408.3 1208.19,408.0 1208.44,407.8 1208.68,407.7 1208.93,407.6 1209.18,407.7 1209.43,407.9 1209.68,408.2 1209.93,408.1 1210.18,407.8 1210.43,407.6 1210.68,407.5 1210.92,407.6 1211.17,407.7 1211.42,408.0 1211.67,408.2 1211.92,407.9 1212.17,407.6 1212.42,407.4 1212.67,407.4 1212.92,407.5 1213.16,407.8 1213.41,408.2 1213.66,407.9 1213.91,407.6 1214.16,407.3 1214.41,407.2 1214.66,407.3 1214.91,407.5 1215.15,408.0 1215.40,408.1 1215.65,407.6 1215.90,407.2 1216.15,407.0 1216.40,407.0 1216.65,407.2 1216.90,407.7 1217.15,408.3 1217.39,407.7 1217.64,407.1 1217.89,406.8 1218.14,406.7 1218.39,406.9 1218.64,407.3 1218.89,408.0 1219.14,407.8 1219.38,407.1 1219.63,406.6 1219.88,406.3 1220.13,406.4 1220.38,406.9 1220.63,407.6 1220.88,408.1 1221.13,407.2 1221.38,406.5 1221.62,406.0 1221.87,405.9 1222.12,406.3 1222.37,407.1 1222.62,408.1 1222.87,407.5 1223.12,406.7 1223.37,406.2 1223.62,406.1 1223.86,406.4 1224.11,407.0 1224.36,407.8 1224.61,407.9 1224.86,407.1 1225.11,406.0 1225.36,404.2 1225.61,401.3 1225.85,398.1 1226.10,397.0 1226.35,399.0 1226.60,393.1 1226.85,316.0 1227.10,14.1 1227.35,-385.3 1227.60,-325.4 1227.85,97.2 1228.09,347.3 1228.34,400.3 1228.59,402.3 1228.84,400.8 1229.09,402.1 1229.34,404.8 1229.59,406.8 1229.84,407.8 1230.09,408.2 1230.33,407.7 1230.58,407.4 1230.83,407.2 1231.08,407.3 1231.33,407.5 1231.58,407.8 1231.83,408.2 1232.08,408.0 1232.32,407.7 1232.57,407.5 1232.82,407.4 1233.07,407.5 1233.32,407.8 1233.57,408.1 1233.82,408.2 1234.07,407.9 1234.32,407.7 1234.56,407.6 1234.81,407.6 1235.06,407.8 1235.31,408.0 1235.56,408.3 1235.81,408.0 1236.06,407.8 1236.31,407.7 1236.55,407.7 1236.80,407.8 1237.05,408.0 1237.30,408.2 1237.55,408.2 1237.80,408.0 1238.05,407.8 1238.30,407.8 1238.55,407.8 1238.79,408.0 1239.04,408.1 1239.29,408.3 1239.54,408.1 1239.79,407.9 1240.04,407.9 1240.29,407.9 1240.54,408.0 1240.79,408.1 1241.03,408.3 1241.28,408.2 1241.53,408.0 1241.78,408.0 1242.03,407.9 1242.28,408.0 1242.53,408.1 1242.78,408.2 1243.02,408.2 1243.27,408.1 1243.52,408.0 1243.77,408.0 1244.02,408.0 1244.27,408.1 1244.52,408.2 1244.77,408.3 1245.02,408.2 1245.26,408.1 1245.51,408.1 1245.76,408.1 1246.01,408.1 1246.26,408.2 1246.51,408.3 1246.76,408.2 1247.01,408.2 1247.26,408.1 1247.50,408.1 1247.75,408.1 1248.00,408.2 1248.25,408.2 1248.50,408.3 1248.75,408.2 1249.00,408.2 1249.25,408.1 1249.49,408.1 1249.74,408.2 1249.99,408.2 1250.24,408.3 1250.49,408.3 1250.74,408.2 1250.99,408.2 1251.24,408.2 1251.49,408.2 1251.73,408.2 1251.98,408.3 1252.23,408.3 1252.48,408.2 1252.73,408.2 1252.98,408.2 1253.23,408.2 1253.48,408.2 1253.72,408.3 1253.97,408.3 1254.22,408.3 1254.47,408.2 1254.72,408.2 1254.97,408.2 1255.22,408.2 1255.47,408.2 1255.72,408.3 1255.96,408.3 1256.21,408.2 1256.46,408.2 1256.71,408.2 1256.96,408.2 1257.21,408.2 1257.46,408.3 1257.71,408.3 1257.96,408.3 1258.20,408.2 1258.45,408.2 1258.70,408.2 1258.95,408.2 1259.20,408.3 1259.45,408.3 1259.70,408.3 1259.95,408.3 1260.19,408.2 1260.44,408.2 1260.69,408.3 1260.94,408.3 1261.19,408.3 1261.44,408.3 1261.69,408.3 1261.94,408.3 1262.19,408.3 1262.43,408.3 1262.68,408.3 1262.93,408.3 1263.18,408.3 1263.43,408.3 1263.68,408.3 1263.93,408.3 1264.18,408.3 1264.43,408.3 1264.67,408.3 1264.92,408.3 1265.17,408.3 1265.42,408.3 1265.67,408.3 1265.92,408.3 1266.17,408.3 1266.42,408.3 1266.66,408.3 1266.91,408.3 1267.16,408.3 1267.41,408.3 1267.66,408.3 1267.91,408.3 1268.16,408.3 1268.41,408.3 1268.66,408.3 1268.90,408.3 1269.15,408.3 1269.40,408.3 1269.65,408.3 1269.90,408.3 1270.15,408.3 1270.40,408.3 1270.65,408.3 1270.89,408.3 1271.14,408.3 1271.39,408.3 1271.64,408.3 1271.89,408.3 1272.14,408.3 1272.39,408.3 1272.64,408.3 1272.89,408.3 1273.13,408.3 1273.38,408.3 1273.63,408.3 1273.88,408.3 1274.13,408.3 1274.38,408.3 1274.63,408.3 1274.88,408.3 1275.13,408.3 1275.37,408.3 1275.62,408.3 1275.87,408.3 1276.12,408.3 1276.37,408.3 1276.62,408.3 1276.87,408.3 1277.12,408.3 1277.36,408.3 1277.61,408.3 1277.86,408.3 1278.11,408.3 1278.36,408.3 1278.61,408.3 1278.86,408.3 1279.11,408.3 1279.36,408.3 1279.60,408.3 1279.85,408.3 1280.10,408.3 1280.35,408.3 1280.60,408.3 1280.85,408.3 1281.10,408.3 1281.35,408.3 1281.60,408.3 1281.84,408.3 1282.09,408.3 1282.34,408.3 1282.59,408.3 1282.84,408.3 1283.09,408.3 1283.34,408.3 1283.59,408.3 1283.83,408.3 1284.08,408.3 1284.33,408.3 1284.58,408.3 1284.83,408.3 1285.08,408.3 1285.33,408.3 1285.58,408.3 1285.83,408.3 1286.07,408.3 1286.32,408.3 1286.57,408.3 1286.82,408.3 1287.07,408.3 1287.32,408.3 1287.57,408.3 1287.82,408.3 1288.06,408.3 1288.31,408.3 1288.56,408.3 1288.81,408.3 1289.06,408.3 1289.31,408.3 1289.56,408.3 1289.81,408.3 1290.06,408.3 1290.30,408.3 1290.55,408.3 1290.80,408.3 1291.05,408.3 1291.30,408.3 1291.55,408.3 1291.80,408.3 1292.05,408.3 1292.30,408.3 1292.54,408.3 1292.79,408.3 1293.04,408.3 1293.29,408.3 1293.54,408.3 1293.79,408.3 1294.04,408.3 1294.29,408.3 1294.53,408.3 1294.78,408.3 1295.03,408.3 1295.28,408.3 1295.53,408.3 1295.78,408.3 1296.03,408.3 1296.28,408.3 1296.53,408.3 1296.77,408.3 1297.02,408.3 1297.27,408.3 1297.52,408.3 1297.77,408.3 1298.02,408.3 1298.27,408.3 1298.52,408.3 1298.77,408.3 1299.01,408.3 1299.26,408.3 1299.51,408.3 1299.76,408.3 1300.01,408.3 1300.26,408.3 1300.51,408.3 1300.76,408.3 1301.00,408.3 1301.25,408.3 1301.50,408.3 1301.75,408.3 1302.00,408.3" fill="none" stroke="#EC6A38" stroke-width="1.05" stroke-linejoin="round"/></g>
<g stroke="none" fill="#2e2e2e">
<text transform="translate(77.40,229.30) scale(1.0626,1)" font-size="25.2" text-anchor="middle">0</text>
<text transform="translate(163.65,229.30) scale(1.0626,1)" font-size="25.2" text-anchor="middle">250</text>
<text transform="translate(249.90,229.30) scale(1.0626,1)" font-size="25.2" text-anchor="middle">500</text>
<text transform="translate(77.40,434.70) scale(1.0626,1)" font-size="25.2" text-anchor="middle">0</text>
<text transform="translate(163.65,434.70) scale(1.0626,1)" font-size="25.2" text-anchor="middle">250</text>
<text transform="translate(249.90,434.70) scale(1.0626,1)" font-size="25.2" text-anchor="middle">500</text>
<text transform="translate(581.50,229.30) scale(1.0626,1)" font-size="25.2" text-anchor="middle">0</text>
<text transform="translate(667.40,229.30) scale(1.0626,1)" font-size="25.2" text-anchor="middle">250</text>
<text transform="translate(753.30,229.30) scale(1.0626,1)" font-size="25.2" text-anchor="middle">500</text>
<text transform="translate(581.50,434.70) scale(1.0626,1)" font-size="25.2" text-anchor="middle">0</text>
<text transform="translate(667.40,434.70) scale(1.0626,1)" font-size="25.2" text-anchor="middle">250</text>
<text transform="translate(753.30,434.70) scale(1.0626,1)" font-size="25.2" text-anchor="middle">500</text>
<text transform="translate(1082.20,163.20) scale(1.0626,1)" font-size="25.2" text-anchor="middle">0</text>
<text transform="translate(1168.15,163.20) scale(1.0626,1)" font-size="25.2" text-anchor="middle">250</text>
<text transform="translate(1254.10,163.20) scale(1.0626,1)" font-size="25.2" text-anchor="middle">500</text>
<text transform="translate(1082.20,299.10) scale(1.0626,1)" font-size="25.2" text-anchor="middle">0</text>
<text transform="translate(1168.15,299.10) scale(1.0626,1)" font-size="25.2" text-anchor="middle">250</text>
<text transform="translate(1254.10,299.10) scale(1.0626,1)" font-size="25.2" text-anchor="middle">500</text>
<text transform="translate(1082.20,437.20) scale(1.0626,1)" font-size="25.2" text-anchor="middle">0</text>
<text transform="translate(1168.15,437.20) scale(1.0626,1)" font-size="25.2" text-anchor="middle">250</text>
<text transform="translate(1254.10,437.20) scale(1.0626,1)" font-size="25.2" text-anchor="middle">500</text>
<text transform="translate(378.03,229.30) scale(1.05,1)" font-size="25.2" text-anchor="middle">0.1</text>
<text transform="translate(435.37,229.30) scale(1.05,1)" font-size="25.2" text-anchor="middle">0.2</text>
<text transform="translate(492.70,229.30) scale(1.05,1)" font-size="25.2" text-anchor="middle">0.3</text>
<text transform="translate(378.03,434.70) scale(1.05,1)" font-size="25.2" text-anchor="middle">0.1</text>
<text transform="translate(435.37,434.70) scale(1.05,1)" font-size="25.2" text-anchor="middle">0.2</text>
<text transform="translate(492.70,434.70) scale(1.05,1)" font-size="25.2" text-anchor="middle">0.3</text>
<text transform="translate(880.50,229.30) scale(1.05,1)" font-size="25.2" text-anchor="middle">0.1</text>
<text transform="translate(937.80,229.30) scale(1.05,1)" font-size="25.2" text-anchor="middle">0.2</text>
<text transform="translate(995.10,229.30) scale(1.05,1)" font-size="25.2" text-anchor="middle">0.3</text>
<text transform="translate(880.50,434.70) scale(1.05,1)" font-size="25.2" text-anchor="middle">0.1</text>
<text transform="translate(937.80,434.70) scale(1.05,1)" font-size="25.2" text-anchor="middle">0.2</text>
<text transform="translate(995.10,434.70) scale(1.05,1)" font-size="25.2" text-anchor="middle">0.3</text>
<text transform="translate(1381.63,163.30) scale(1.05,1)" font-size="25.2" text-anchor="middle">0.1</text>
<text transform="translate(1438.87,163.30) scale(1.05,1)" font-size="25.2" text-anchor="middle">0.2</text>
<text transform="translate(1496.10,163.30) scale(1.05,1)" font-size="25.2" text-anchor="middle">0.3</text>
<text transform="translate(1381.63,299.20) scale(1.05,1)" font-size="25.2" text-anchor="middle">0.1</text>
<text transform="translate(1438.87,299.20) scale(1.05,1)" font-size="25.2" text-anchor="middle">0.2</text>
<text transform="translate(1496.10,299.20) scale(1.05,1)" font-size="25.2" text-anchor="middle">0.3</text>
<text transform="translate(1381.63,437.30) scale(1.05,1)" font-size="25.2" text-anchor="middle">0.1</text>
<text transform="translate(1438.87,437.30) scale(1.05,1)" font-size="25.2" text-anchor="middle">0.2</text>
<text transform="translate(1496.10,437.30) scale(1.05,1)" font-size="25.2" text-anchor="middle">0.3</text>
<text transform="translate(71.50,181.35) scale(1.05,1)" font-size="25.2" text-anchor="end">-1</text>
<text transform="translate(71.50,129.85) scale(1.05,1)" font-size="25.2" text-anchor="end">0</text>
<text transform="translate(71.50,78.35) scale(1.05,1)" font-size="25.2" text-anchor="end">1</text>
<text transform="translate(71.50,387.68) scale(1.05,1)" font-size="25.2" text-anchor="end">-1</text>
<text transform="translate(71.50,336.25) scale(1.05,1)" font-size="25.2" text-anchor="end">0</text>
<text transform="translate(71.50,284.82) scale(1.05,1)" font-size="25.2" text-anchor="end">1</text>
<text transform="translate(575.60,181.35) scale(1.05,1)" font-size="25.2" text-anchor="end">-1</text>
<text transform="translate(575.60,129.85) scale(1.05,1)" font-size="25.2" text-anchor="end">0</text>
<text transform="translate(575.60,78.35) scale(1.05,1)" font-size="25.2" text-anchor="end">1</text>
<text transform="translate(575.60,387.68) scale(1.05,1)" font-size="25.2" text-anchor="end">-1</text>
<text transform="translate(575.60,336.25) scale(1.05,1)" font-size="25.2" text-anchor="end">0</text>
<text transform="translate(575.60,284.82) scale(1.05,1)" font-size="25.2" text-anchor="end">1</text>
<text transform="translate(1076.30,126.45) scale(1.05,1)" font-size="25.2" text-anchor="end">-1</text>
<text transform="translate(1076.30,97.55) scale(1.05,1)" font-size="25.2" text-anchor="end">0</text>
<text transform="translate(1076.30,68.65) scale(1.05,1)" font-size="25.2" text-anchor="end">1</text>
<text transform="translate(1076.30,262.75) scale(1.05,1)" font-size="25.2" text-anchor="end">-1</text>
<text transform="translate(1076.30,234.65) scale(1.05,1)" font-size="25.2" text-anchor="end">0</text>
<text transform="translate(1076.30,206.55) scale(1.05,1)" font-size="25.2" text-anchor="end">1</text>
<text transform="translate(1076.30,400.87) scale(1.05,1)" font-size="25.2" text-anchor="end">-1</text>
<text transform="translate(1076.30,372.80) scale(1.05,1)" font-size="25.2" text-anchor="end">0</text>
<text transform="translate(1076.30,344.73) scale(1.05,1)" font-size="25.2" text-anchor="end">1</text>
<text transform="translate(315.40,207.10) scale(1.05,1)" font-size="25.2" text-anchor="end">0</text>
<text transform="translate(315.40,129.85) scale(1.05,1)" font-size="25.2" text-anchor="end">0.02</text>
<text transform="translate(315.40,52.60) scale(1.05,1)" font-size="25.2" text-anchor="end">0.04</text>
<text transform="translate(817.90,207.10) scale(1.05,1)" font-size="25.2" text-anchor="end">0</text>
<text transform="translate(817.90,129.85) scale(1.05,1)" font-size="25.2" text-anchor="end">0.02</text>
<text transform="translate(817.90,52.60) scale(1.05,1)" font-size="25.2" text-anchor="end">0.04</text>
<text transform="translate(817.90,413.40) scale(1.05,1)" font-size="25.2" text-anchor="end">0</text>
<text transform="translate(817.90,336.25) scale(1.05,1)" font-size="25.2" text-anchor="end">0.02</text>
<text transform="translate(817.90,259.10) scale(1.05,1)" font-size="25.2" text-anchor="end">0.04</text>
<text transform="translate(1319.10,141.00) scale(1.05,1)" font-size="25.2" text-anchor="end">0</text>
<text transform="translate(1319.10,97.50) scale(1.05,1)" font-size="25.2" text-anchor="end">0.02</text>
<text transform="translate(1319.10,54.00) scale(1.05,1)" font-size="25.2" text-anchor="end">0.04</text>
<text transform="translate(1319.10,276.90) scale(1.05,1)" font-size="25.2" text-anchor="end">0</text>
<text transform="translate(1319.10,234.70) scale(1.05,1)" font-size="25.2" text-anchor="end">0.02</text>
<text transform="translate(1319.10,192.50) scale(1.05,1)" font-size="25.2" text-anchor="end">0.04</text>
<text transform="translate(1319.10,415.00) scale(1.05,1)" font-size="25.2" text-anchor="end">0</text>
<text transform="translate(1319.10,372.85) scale(1.05,1)" font-size="25.2" text-anchor="end">0.02</text>
<text transform="translate(1319.10,330.70) scale(1.05,1)" font-size="25.2" text-anchor="end">0.04</text>
<text transform="translate(315.40,413.40) scale(1.05,1)" font-size="25.2" text-anchor="end">0</text>
<text transform="translate(315.40,336.25) scale(1.05,1)" font-size="25.2" text-anchor="end">0.5</text>
<text transform="translate(315.40,259.10) scale(1.05,1)" font-size="25.2" text-anchor="end">1</text>
</g>
<text transform="translate(167.80,467.00) scale(1.076,1)" font-size="26.3" text-anchor="middle">Time (s)</text>
<text transform="translate(672.00,467.00) scale(1.076,1)" font-size="26.3" text-anchor="middle">Time (s)</text>
<text transform="translate(1169.00,468.30) scale(1.076,1)" font-size="26.3" text-anchor="middle">Time (s)</text>
<text transform="translate(386.60,467.00) scale(1.076,1)" font-size="26.3" text-anchor="middle">Frequency (Hz)</text>
<text transform="translate(890.00,467.00) scale(1.076,1)" font-size="26.3" text-anchor="middle">Frequency (Hz)</text>
<text transform="translate(1418.70,468.30) scale(1.076,1)" font-size="26.3" text-anchor="middle">Frequency (Hz)</text>
<text transform="translate(50.80,137.30) scale(1.07,1) rotate(-90)" font-size="25.1" text-anchor="start">IMF<tspan font-size="18.6" dy="5.2" dx="-1.5">1</tspan></text>
<text transform="translate(50.80,345.00) scale(1.07,1) rotate(-90)" font-size="25.1" text-anchor="start">IMF<tspan font-size="18.6" dy="5.2" dx="-1.5">2</tspan></text>
<text transform="translate(553.30,138.60) scale(1.07,1) rotate(-90)" font-size="25.1" text-anchor="start">IMF<tspan font-size="18.6" dy="5.2" dx="-1.5">1</tspan></text>
<text transform="translate(553.30,346.50) scale(1.07,1) rotate(-90)" font-size="25.1" text-anchor="start">IMF<tspan font-size="18.6" dy="5.2" dx="-1.5">2</tspan></text>
<text transform="translate(1055.30,116.50) scale(1.07,1) rotate(-90)" font-size="25.1" text-anchor="start">IMF<tspan font-size="18.6" dy="5.2" dx="-1.5">1</tspan></text>
<text transform="translate(1055.30,254.50) scale(1.07,1) rotate(-90)" font-size="25.1" text-anchor="start">IMF<tspan font-size="18.6" dy="5.2" dx="-1.5">2</tspan></text>
<text transform="translate(1055.80,388.80) scale(1.07,1) rotate(-90)" font-size="25.1" text-anchor="start">IMF<tspan font-size="18.6" dy="5.2" dx="-1.5">3</tspan></text>
<text transform="translate(503.20,68.60) scale(1.07,1) rotate(90)" font-size="25.1" text-anchor="start">Amplitude</text>
<text transform="translate(503.00,282.60) scale(1.07,1) rotate(90)" font-size="25.1" text-anchor="start">Amplitude</text>
<text transform="translate(1006.30,68.60) scale(1.07,1) rotate(90)" font-size="25.1" text-anchor="start">Amplitude</text>
<text transform="translate(1006.30,283.50) scale(1.07,1) rotate(90)" font-size="25.1" text-anchor="start">Amplitude</text>
<text transform="translate(1509.30,39.50) scale(1.07,1) rotate(90)" font-size="25.1" text-anchor="start">Amplitude</text>
<text transform="translate(1509.30,179.50) scale(1.07,1) rotate(90)" font-size="25.1" text-anchor="start">Amplitude</text>
<text transform="translate(1509.30,315.20) scale(1.07,1) rotate(90)" font-size="25.1" text-anchor="start">Amplitude</text>
</g>
<g font-family="Liberation Sans, Arial, Helvetica, sans-serif" font-weight="bold" fill="#000" stroke="#000" stroke-width="0.35">
<text transform="translate(10.30,31.60) scale(1.09,1)" font-size="25.8" text-anchor="start">A</text>
<text transform="translate(532.30,31.60) scale(1.09,1)" font-size="25.8" text-anchor="start">B</text>
<text transform="translate(1030.40,31.90) scale(1.01,1)" font-size="25.8" text-anchor="start">C</text>
</g>
</svg>
</body></html>
